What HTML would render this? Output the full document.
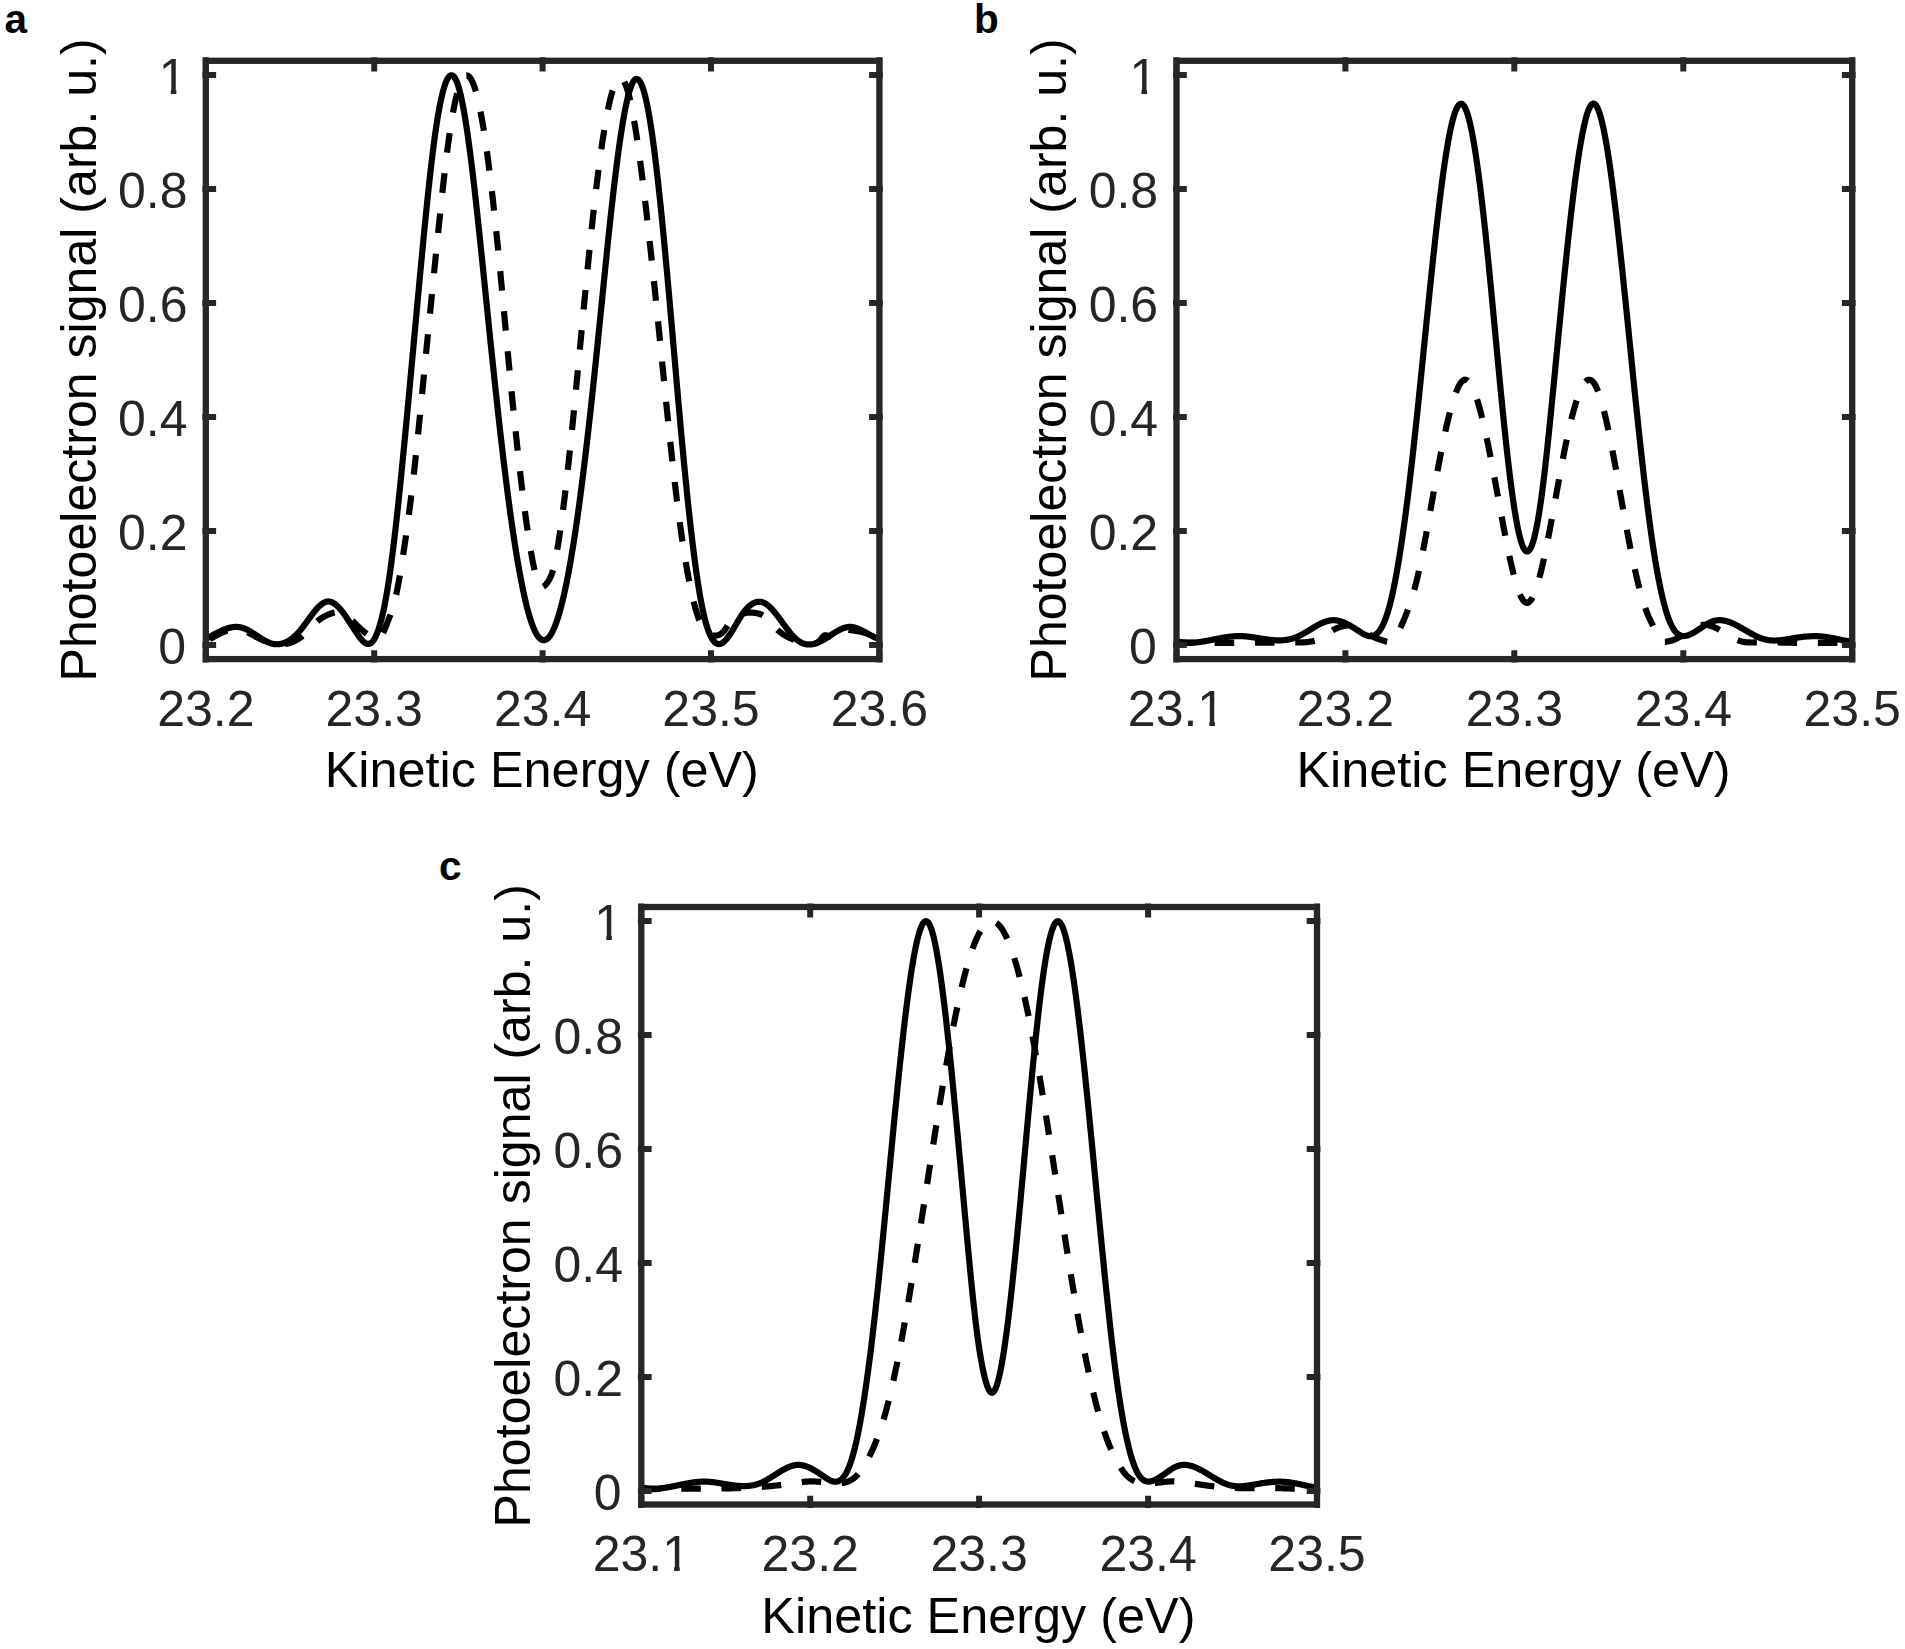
<!DOCTYPE html>
<html lang="en"><head><meta charset="utf-8"><title>Photoelectron spectra</title>
<style>
html,body{margin:0;padding:0;background:#fff;}
body{width:1905px;height:1649px;overflow:hidden;}
svg{display:block;}
text{font-family:"Liberation Sans",Arial,Helvetica,sans-serif;}
.tk{font-size:50px;fill:#262626;}
.lb{font-size:50.4px;fill:#000;}
.yl{font-size:50.1px;}
.pl{font-size:40.5px;font-weight:bold;fill:#000;}
</style></head><body>
<svg width="1905" height="1649" viewBox="0 0 1905 1649">
<defs><clipPath id="clipa"><rect x="205.8" y="60.8" width="673.6" height="598.3"/></clipPath><clipPath id="clipb"><rect x="1176.5" y="60.8" width="675.7" height="598.3"/></clipPath><clipPath id="clipc"><rect x="641.3" y="907.0" width="675.7" height="597.5"/></clipPath></defs>
<path d="M205.8 640.94 L206.3 640.71 L206.8 640.48 L207.3 640.25 L207.8 640.01 L208.3 639.76 L208.8 639.51 L209.3 639.26 L209.8 639.01 L210.3 638.75 L210.8 638.49 L211.3 638.23 L211.8 637.96 L212.3 637.70 L212.8 637.43 L213.3 637.16 L213.8 636.89 L214.3 636.62 L214.8 636.36 L215.3 636.09 L215.8 635.82 L216.3 635.55 L216.8 635.29 L217.3 635.02 L217.8 634.76 L218.3 634.50 L218.8 634.24 L219.3 633.99 L219.8 633.74 L220.3 633.49 L220.8 633.24 L221.3 633.00 L221.8 632.77 L222.3 632.53 L222.8 632.31 L223.3 632.08 L223.8 631.87 L224.3 631.66 L224.8 631.45 L225.3 631.26 L225.8 631.07 L226.3 630.88 L226.8 630.71 L227.3 630.54 L227.8 630.38 L228.3 630.23 L228.8 630.08 L229.3 629.95 L229.8 629.82 L230.3 629.71 L230.8 629.60 L231.3 629.50 L231.8 629.42 L232.3 629.34 L232.8 629.28 L233.3 629.23 L233.8 629.19 L234.3 629.16 L234.8 629.15 L235.3 629.14 L235.8 629.15 L236.3 629.17 L236.8 629.21 L237.3 629.26 L237.8 629.32 L238.3 629.39 L238.8 629.47 L239.3 629.57 L239.8 629.67 L240.3 629.79 L240.8 629.91 L241.3 630.05 L241.8 630.19 L242.3 630.34 L242.8 630.51 L243.3 630.68 L243.8 630.85 L244.3 631.04 L244.8 631.23 L245.3 631.43 L245.8 631.64 L246.3 631.85 L246.8 632.07 L247.3 632.30 L247.8 632.53 L248.3 632.76 L248.8 633.00 L249.3 633.25 L249.8 633.50 L250.3 633.75 L250.8 634.00 L251.3 634.26 L251.8 634.52 L252.3 634.79 L252.8 635.05 L253.3 635.32 L253.8 635.59 L254.3 635.86 L254.8 636.13 L255.3 636.40 L255.8 636.67 L256.3 636.94 L256.8 637.21 L257.3 637.48 L257.8 637.75 L258.3 638.02 L258.8 638.28 L259.3 638.54 L259.8 638.80 L260.3 639.06 L260.8 639.31 L261.3 639.56 L261.8 639.81 L262.3 640.05 L262.8 640.29 L263.3 640.52 L263.8 640.74 L264.3 640.97 L264.8 641.18 L265.3 641.39 L265.8 641.59 L266.3 641.79 L266.8 641.98 L267.3 642.16 L267.8 642.33 L268.3 642.50 L268.8 642.66 L269.3 642.82 L269.8 642.97 L270.3 643.11 L270.8 643.24 L271.3 643.37 L271.8 643.49 L272.3 643.61 L272.8 643.71 L273.3 643.81 L273.8 643.91 L274.3 643.99 L274.8 644.07 L275.3 644.14 L275.8 644.21 L276.3 644.26 L276.8 644.31 L277.3 644.35 L277.8 644.39 L278.3 644.42 L278.8 644.44 L279.3 644.45 L279.8 644.45 L280.3 644.45 L280.8 644.44 L281.3 644.42 L281.8 644.40 L282.3 644.36 L282.8 644.32 L283.3 644.27 L283.8 644.22 L284.3 644.15 L284.8 644.08 L285.3 644.00 L285.8 643.91 L286.3 643.81 L286.8 643.71 L287.3 643.60 L287.8 643.48 L288.3 643.35 L288.8 643.21 L289.3 643.07 L289.8 642.92 L290.3 642.76 L290.8 642.59 L291.3 642.41 L291.8 642.22 L292.3 642.03 L292.8 641.83 L293.3 641.62 L293.8 641.40 L294.3 641.17 L294.8 640.93 L295.3 640.68 L295.8 640.42 L296.3 640.16 L296.8 639.88 L297.3 639.59 L297.8 639.29 L298.3 638.98 L298.8 638.66 L299.3 638.33 L299.8 637.98 L300.3 637.63 L300.8 637.26 L301.3 636.87 L301.8 636.48 L302.3 636.07 L302.8 635.65 L303.3 635.21 L303.8 634.76 L304.3 634.30 L304.8 633.83 L305.3 633.35 L305.8 632.87 L306.3 632.37 L306.8 631.87 L307.3 631.36 L307.8 630.85 L308.3 630.33 L308.8 629.81 L309.3 629.29 L309.8 628.76 L310.3 628.24 L310.8 627.71 L311.3 627.19 L311.8 626.67 L312.3 626.15 L312.8 625.64 L313.3 625.13 L313.8 624.62 L314.3 624.13 L314.8 623.64 L315.3 623.16 L315.8 622.68 L316.3 622.22 L316.8 621.77 L317.3 621.33" fill="none" stroke="#000" stroke-width="6.2" stroke-linejoin="round" stroke-dasharray="19.6 20.7" stroke-dashoffset="36.01" clip-path="url(#clipa)"/>
<path d="M317.3 621.33 L317.8 620.91 L318.3 620.49 L318.8 620.09 L319.3 619.70 L319.8 619.33 L320.3 618.96 L320.8 618.61 L321.3 618.27 L321.8 617.94 L322.3 617.62 L322.8 617.31 L323.3 617.01 L323.8 616.72 L324.3 616.44 L324.8 616.18 L325.3 615.92 L325.8 615.67 L326.3 615.43 L326.8 615.19 L327.3 614.97 L327.8 614.75 L328.3 614.54 L328.8 614.34 L329.3 614.15 L329.8 613.97 L330.3 613.79 L330.8 613.62 L331.3 613.45 L331.8 613.29 L332.3 613.14 L332.8 612.99 L333.3 612.85 L333.8 612.71 L334.3 612.58 L334.8 612.46 L335.3 612.34 L335.8 612.23 L336.3 612.12 L336.8 612.03 L337.3 611.96 L337.8 611.90 L338.3 611.85 L338.8 611.82 L339.3 611.82 L339.8 611.83 L340.3 611.87 L340.8 611.93 L341.3 612.02 L341.8 612.14 L342.3 612.29 L342.8 612.47 L343.3 612.69 L343.8 612.93 L344.3 613.22 L344.8 613.53 L345.3 613.87 L345.8 614.23 L346.3 614.62 L346.8 615.04 L347.3 615.47 L347.8 615.93 L348.3 616.40 L348.8 616.89 L349.3 617.38 L349.8 617.89 L350.3 618.41 L350.8 618.94 L351.3 619.47 L351.8 620.01 L352.3 620.54 L352.8 621.08 L353.3 621.61 L353.8 622.14 L354.3 622.67 L354.8 623.18 L355.3 623.69 L355.8 624.20 L356.3 624.70 L356.8 625.19 L357.3 625.68 L357.8 626.16 L358.3 626.64 L358.8 627.11 L359.3 627.57 L359.8 628.03 L360.3 628.48 L360.8 628.93 L361.3 629.37 L361.8 629.81 L362.3 630.23 L362.8 630.66 L363.3 631.08 L363.8 631.49 L364.3 631.90 L364.8 632.30 L365.3 632.69 L365.8 633.09 L366.3 633.47 L366.8 633.85 L367.3 634.22 L367.8 634.59 L368.3 634.96 L368.8 635.31 L369.3 635.67 L369.8 636.01 L370.3 636.35 L370.8 636.69 L371.3 637.02 L371.8 637.34 L372.3 637.65 L372.8 637.94 L373.3 638.21 L373.8 638.46 L374.3 638.67 L374.8 638.85 L375.3 638.99 L375.8 639.08 L376.3 639.13 L376.8 639.13 L377.3 639.07 L377.8 638.94 L378.3 638.76 L378.8 638.50 L379.3 638.17 L379.8 637.76 L380.3 637.26 L380.8 636.68 L381.3 636.01 L381.8 635.25 L382.3 634.39 L382.8 633.45 L383.3 632.44 L383.8 631.36 L384.3 630.22 L384.8 629.04 L385.3 627.82 L385.8 626.57 L386.3 625.30 L386.8 624.01 L387.3 622.71 L387.8 621.43 L388.3 620.15 L388.8 618.89 L389.3 617.66 L389.8 616.42 L390.3 615.18 L390.8 613.90 L391.3 612.58 L391.8 611.18 L392.3 609.69 L392.8 608.10 L393.3 606.41 L393.8 604.60 L394.3 602.69 L394.8 600.69 L395.3 598.58 L395.8 596.39 L396.3 594.10 L396.8 591.72 L397.3 589.25 L397.8 586.71 L398.3 584.08 L398.8 581.37 L399.3 578.60 L399.8 575.74 L400.3 572.82 L400.8 569.84 L401.3 566.79 L401.8 563.68 L402.3 560.51 L402.8 557.28 L403.3 554.01 L403.8 550.68 L404.3 547.31 L404.8 543.89 L405.3 540.44 L405.8 536.94 L406.3 533.40 L406.8 529.81 L407.3 526.18 L407.8 522.50 L408.3 518.77 L408.8 514.99 L409.3 511.16 L409.8 507.27 L410.3 503.34 L410.8 499.34 L411.3 495.29 L411.8 491.18 L412.3 487.00 L412.8 482.77 L413.3 478.47 L413.8 474.10 L414.3 469.67 L414.8 465.18 L415.3 460.61 L415.8 455.97 L416.3 451.27 L416.8 446.51 L417.3 441.69 L417.8 436.83 L418.3 431.92 L418.8 426.96 L419.3 421.98 L419.8 416.96 L420.3 411.92 L420.8 406.85 L421.3 401.77 L421.8 396.68 L422.3 391.59 L422.8 386.49 L423.3 381.40 L423.8 376.31 L424.3 371.23 L424.8 366.15 L425.3 361.08 L425.8 356.02 L426.3 350.96 L426.8 345.91 L427.3 340.86 L427.8 335.81 L428.3 330.77 L428.8 325.73 L429.3 320.70 L429.8 315.67 L430.3 310.64 L430.8 305.61 L431.3 300.59 L431.8 295.57 L432.3 290.55 L432.8 285.54 L433.3 280.53 L433.8 275.53 L434.3 270.54 L434.8 265.56 L435.3 260.59 L435.8 255.64 L436.3 250.70 L436.8 245.78 L437.3 240.87 L437.8 235.98 L438.3 231.12 L438.8 226.28 L439.3 221.46 L439.8 216.66 L440.3 211.89 L440.8 207.16 L441.3 202.46 L441.8 197.81 L442.3 193.19 L442.8 188.63 L443.3 184.12 L443.8 179.67 L444.3 175.28 L444.8 170.96 L445.3 166.70 L445.8 162.52 L446.3 158.42 L446.8 154.40 L447.3 150.47 L447.8 146.63 L448.3 142.89 L448.8 139.24 L449.3 135.69 L449.8 132.25 L450.3 128.91 L450.8 125.67 L451.3 122.54 L451.8 119.50 L452.3 116.57 L452.8 113.74 L453.3 111.02 L453.8 108.39 L454.3 105.86 L454.8 103.44 L455.3 101.12 L455.8 98.90 L456.3 96.78 L456.8 94.76 L457.3 92.84 L457.8 91.03 L458.3 89.31 L458.8 87.69 L459.3 86.18 L459.8 84.77 L460.3 83.45 L460.8 82.24 L461.3 81.12 L461.8 80.11 L462.3 79.20 L462.8 78.38 L463.3 77.67 L463.8 77.06 L464.3 76.54 L464.8 76.13 L465.3 75.81 L465.8 75.59 L466.3 75.47" fill="none" stroke="#000" stroke-width="6.2" stroke-linejoin="round" stroke-dasharray="19.68 20.79" stroke-dashoffset="0" clip-path="url(#clipa)"/>
<path d="M466.3 75.47 L466.8 75.45 L467.3 75.52 L467.8 75.69 L468.3 75.96 L468.8 76.32 L469.3 76.78 L469.8 77.34 L470.3 77.99 L470.8 78.74 L471.3 79.58 L471.8 80.51 L472.3 81.54 L472.8 82.66 L473.3 83.88 L473.8 85.19 L474.3 86.59 L474.8 88.08 L475.3 89.67 L475.8 91.34 L476.3 93.11 L476.8 94.97 L477.3 96.92 L477.8 98.97 L478.3 101.10 L478.8 103.32 L479.3 105.63 L479.8 108.03 L480.3 110.51 L480.8 113.09 L481.3 115.75 L481.8 118.51 L482.3 121.35 L482.8 124.27 L483.3 127.28 L483.8 130.38 L484.3 133.56 L484.8 136.83 L485.3 140.17 L485.8 143.60 L486.3 147.10 L486.8 150.68 L487.3 154.34 L487.8 158.07 L488.3 161.87 L488.8 165.75 L489.3 169.70 L489.8 173.72 L490.3 177.80 L490.8 181.96 L491.3 186.18 L491.8 190.46 L492.3 194.81 L492.8 199.22 L493.3 203.69 L493.8 208.22 L494.3 212.81 L494.8 217.46 L495.3 222.16 L495.8 226.92 L496.3 231.73 L496.8 236.60 L497.3 241.51 L497.8 246.47 L498.3 251.49 L498.8 256.55 L499.3 261.65 L499.8 266.80 L500.3 271.99 L500.8 277.23 L501.3 282.51 L501.8 287.82 L502.3 293.16 L502.8 298.53 L503.3 303.93 L503.8 309.34 L504.3 314.75 L504.8 320.18 L505.3 325.60 L505.8 331.02 L506.3 336.43 L506.8 341.82 L507.3 347.19 L507.8 352.53 L508.3 357.84 L508.8 363.11 L509.3 368.35 L509.8 373.54 L510.3 378.70 L510.8 383.82 L511.3 388.90 L511.8 393.94 L512.3 398.95 L512.8 403.91 L513.3 408.84 L513.8 413.72 L514.3 418.57 L514.8 423.39 L515.3 428.16 L515.8 432.89 L516.3 437.59 L516.8 442.25 L517.3 446.87 L517.8 451.44 L518.3 455.98 L518.8 460.47 L519.3 464.91 L519.8 469.30 L520.3 473.65 L520.8 477.94 L521.3 482.19 L521.8 486.38 L522.3 490.51 L522.8 494.59 L523.3 498.61 L523.8 502.57 L524.3 506.47 L524.8 510.30 L525.3 514.07 L525.8 517.78 L526.3 521.42 L526.8 524.99 L527.3 528.49 L527.8 531.91 L528.3 535.27 L528.8 538.55 L529.3 541.75 L529.8 544.87 L530.3 547.92 L530.8 550.88 L531.3 553.77 L531.8 556.56 L532.3 559.28 L532.8 561.90 L533.3 564.44 L533.8 566.87 L534.3 569.19 L534.8 571.41 L535.3 573.50 L535.8 575.46 L536.3 577.29 L536.8 578.98 L537.3 580.52 L537.8 581.90 L538.3 583.12 L538.8 584.18 L539.3 585.05 L539.8 585.75 L540.3 586.29 L540.8 586.67 L541.3 586.91 L541.8 587.02 L542.3 587.00 L542.8 586.88 L543.3 586.66" fill="none" stroke="#000" stroke-width="6.2" stroke-linejoin="round" stroke-dasharray="19.56 20.65" stroke-dashoffset="0" clip-path="url(#clipa)"/>
<path d="M543.3 586.66 L543.8 586.36 L544.3 585.98 L544.8 585.53 L545.3 585.04 L545.8 584.50 L546.3 583.92 L546.8 583.31 L547.3 582.64 L547.8 581.93 L548.3 581.16 L548.8 580.33 L549.3 579.44 L549.8 578.48 L550.3 577.44 L550.8 576.31 L551.3 575.08 L551.8 573.72 L552.3 572.24 L552.8 570.62 L553.3 568.85 L553.8 566.92 L554.3 564.83 L554.8 562.57 L555.3 560.16 L555.8 557.62 L556.3 554.94 L556.8 552.15 L557.3 549.24 L557.8 546.23 L558.3 543.14 L558.8 539.96 L559.3 536.70 L559.8 533.37 L560.3 529.95 L560.8 526.46 L561.3 522.89 L561.8 519.25 L562.3 515.53 L562.8 511.73 L563.3 507.85 L563.8 503.90 L564.3 499.88 L564.8 495.78 L565.3 491.61 L565.8 487.37 L566.3 483.06 L566.8 478.69 L567.3 474.25 L567.8 469.76 L568.3 465.21 L568.8 460.60 L569.3 455.94 L569.8 451.23 L570.3 446.47 L570.8 441.66 L571.3 436.81 L571.8 431.91 L572.3 426.98 L572.8 422.01 L573.3 417.00 L573.8 411.97 L574.3 406.90 L574.8 401.80 L575.3 396.68 L575.8 391.53 L576.3 386.36 L576.8 381.17 L577.3 375.97 L577.8 370.75 L578.3 365.51 L578.8 360.27 L579.3 355.02 L579.8 349.76 L580.3 344.50 L580.8 339.24 L581.3 333.98 L581.8 328.72 L582.3 323.47 L582.8 318.22 L583.3 312.99 L583.8 307.77 L584.3 302.56 L584.8 297.37 L585.3 292.20 L585.8 287.05 L586.3 281.92 L586.8 276.82 L587.3 271.75 L587.8 266.71 L588.3 261.70 L588.8 256.73 L589.3 251.79 L589.8 246.90 L590.3 242.04 L590.8 237.23 L591.3 232.46 L591.8 227.75 L592.3 223.08 L592.8 218.47 L593.3 213.91 L593.8 209.41 L594.3 204.97 L594.8 200.58 L595.3 196.25 L595.8 191.99 L596.3 187.78 L596.8 183.64 L597.3 179.56 L597.8 175.54 L598.3 171.59 L598.8 167.71 L599.3 163.89 L599.8 160.14 L600.3 156.47 L600.8 152.86 L601.3 149.32 L601.8 145.86 L602.3 142.47 L602.8 139.15 L603.3 135.91 L603.8 132.75 L604.3 129.67 L604.8 126.66 L605.3 123.73 L605.8 120.89 L606.3 118.12 L606.8 115.44 L607.3 112.85 L607.8 110.33 L608.3 107.91 L608.8 105.57 L609.3 103.32 L609.8 101.16 L610.3 99.09 L610.8 97.11 L611.3 95.22 L611.8 93.42 L612.3 91.72 L612.8 90.12 L613.3 88.61 L613.8 87.20 L614.3 85.88 L614.8 84.67 L615.3 83.56 L615.8 82.54 L616.3 81.63 L616.8 80.83 L617.3 80.13 L617.8 79.53 L618.3 79.04 L618.8 78.66 L619.3 78.39 L619.8 78.22 L620.3 78.17 L620.8 78.23 L621.3 78.40 L621.8 78.69 L622.3 79.09 L622.8 79.61 L623.3 80.24 L623.8 80.99 L624.3 81.86" fill="none" stroke="#000" stroke-width="6.2" stroke-linejoin="round" stroke-dasharray="19.60 20.70" stroke-dashoffset="0" clip-path="url(#clipa)"/>
<path d="M624.3 81.86 L624.8 82.85 L625.3 83.96 L625.8 85.18 L626.3 86.51 L626.8 87.96 L627.3 89.51 L627.8 91.18 L628.3 92.94 L628.8 94.82 L629.3 96.79 L629.8 98.86 L630.3 101.04 L630.8 103.30 L631.3 105.67 L631.8 108.12 L632.3 110.67 L632.8 113.31 L633.3 116.03 L633.8 118.84 L634.3 121.73 L634.8 124.70 L635.3 127.75 L635.8 130.88 L636.3 134.08 L636.8 137.36 L637.3 140.72 L637.8 144.14 L638.3 147.63 L638.8 151.18 L639.3 154.80 L639.8 158.49 L640.3 162.23 L640.8 166.04 L641.3 169.90 L641.8 173.81 L642.3 177.78 L642.8 181.80 L643.3 185.88 L643.8 189.99 L644.3 194.16 L644.8 198.37 L645.3 202.62 L645.8 206.91 L646.3 211.24 L646.8 215.61 L647.3 220.01 L647.8 224.45 L648.3 228.92 L648.8 233.42 L649.3 237.96 L649.8 242.53 L650.3 247.12 L650.8 251.75 L651.3 256.41 L651.8 261.09 L652.3 265.79 L652.8 270.53 L653.3 275.29 L653.8 280.07 L654.3 284.87 L654.8 289.69 L655.3 294.54 L655.8 299.40 L656.3 304.28 L656.8 309.18 L657.3 314.10 L657.8 319.03 L658.3 323.98 L658.8 328.94 L659.3 333.91 L659.8 338.89 L660.3 343.88 L660.8 348.88 L661.3 353.88 L661.8 358.88 L662.3 363.88 L662.8 368.88 L663.3 373.87 L663.8 378.86 L664.3 383.84 L664.8 388.81 L665.3 393.76 L665.8 398.70 L666.3 403.63 L666.8 408.53 L667.3 413.41 L667.8 418.27 L668.3 423.10 L668.8 427.91 L669.3 432.68 L669.8 437.43 L670.3 442.14 L670.8 446.81 L671.3 451.44 L671.8 456.04 L672.3 460.59 L672.8 465.10 L673.3 469.56 L673.8 473.97 L674.3 478.33 L674.8 482.64 L675.3 486.89 L675.8 491.08 L676.3 495.22 L676.8 499.29 L677.3 503.31 L677.8 507.27 L678.3 511.17 L678.8 515.01 L679.3 518.79 L679.8 522.52 L680.3 526.18 L680.8 529.78 L681.3 533.33 L681.8 536.81 L682.3 540.23 L682.8 543.60 L683.3 546.90 L683.8 550.15 L684.3 553.33 L684.8 556.45 L685.3 559.51 L685.8 562.52 L686.3 565.46 L686.8 568.34 L687.3 571.16 L687.8 573.92 L688.3 576.61 L688.8 579.25 L689.3 581.82 L689.8 584.34 L690.3 586.79 L690.8 589.18 L691.3 591.51 L691.8 593.78 L692.3 595.98 L692.8 598.12 L693.3 600.20 L693.8 602.22 L694.3 604.18 L694.8 606.07 L695.3 607.91 L695.8 609.67 L696.3 611.38 L696.8 613.02 L697.3 614.60 L697.8 616.12 L698.3 617.58 L698.8 618.97 L699.3 620.29 L699.8 621.56 L700.3 622.76 L700.8 623.90 L701.3 624.97 L701.8 625.98 L702.3 626.92 L702.8 627.81 L703.3 628.63 L703.8 629.39 L704.3 630.09 L704.8 630.73 L705.3 631.33 L705.8 631.87 L706.3 632.37 L706.8 632.82 L707.3 633.22 L707.8 633.58 L708.3 633.91 L708.8 634.20 L709.3 634.45 L709.8 634.67 L710.3 634.86 L710.8 635.03 L711.3 635.16 L711.8 635.28 L712.3 635.37 L712.8 635.45 L713.3 635.51 L713.8 635.56 L714.3 635.59 L714.8 635.61 L715.3 635.60 L715.8 635.58 L716.3 635.54 L716.8 635.48 L717.3 635.39 L717.8 635.28 L718.3 635.13 L718.8 634.96 L719.3 634.75 L719.8 634.52 L720.3 634.24 L720.8 633.93 L721.3 633.58 L721.8 633.19 L722.3 632.76 L722.8 632.28 L723.3 631.75 L723.8 631.18 L724.3 630.56 L724.8 629.88 L725.3 629.16 L725.8 628.38 L726.3 627.58 L726.8 626.76 L727.3 625.95 L727.8 625.17 L728.3 624.44 L728.8 623.77 L729.3 623.19 L729.8 622.70 L730.3 622.29 L730.8 621.95 L731.3 621.67 L731.8 621.44 L732.3 621.24 L732.8 621.08 L733.3 620.93 L733.8 620.79 L734.3 620.65 L734.8 620.49 L735.3 620.31 L735.8 620.09 L736.3 619.82 L736.8 619.51 L737.3 619.12 L737.8 618.69 L738.3 618.21 L738.8 617.71 L739.3 617.19 L739.8 616.67 L740.3 616.17 L740.8 615.70 L741.3 615.27 L741.8 614.88 L742.3 614.52 L742.8 614.20 L743.3 613.92 L743.8 613.66" fill="none" stroke="#000" stroke-width="6.2" stroke-linejoin="round" stroke-dasharray="19.64 20.74" stroke-dashoffset="0" clip-path="url(#clipa)"/>
<path d="M743.8 613.66 L744.3 613.44 L744.8 613.25 L745.3 613.08 L745.8 612.94 L746.3 612.82 L746.8 612.73 L747.3 612.65 L747.8 612.60 L748.3 612.56 L748.8 612.54 L749.3 612.53 L749.8 612.53 L750.3 612.54 L750.8 612.57 L751.3 612.60 L751.8 612.63 L752.3 612.67 L752.8 612.71 L753.3 612.76 L753.8 612.81 L754.3 612.86 L754.8 612.92 L755.3 612.98 L755.8 613.05 L756.3 613.13 L756.8 613.22 L757.3 613.32 L757.8 613.43 L758.3 613.55 L758.8 613.68 L759.3 613.83 L759.8 613.99 L760.3 614.16 L760.8 614.36 L761.3 614.57 L761.8 614.80 L762.3 615.04 L762.8 615.31 L763.3 615.60 L763.8 615.91 L764.3 616.24 L764.8 616.60 L765.3 616.98 L765.8 617.39 L766.3 617.82 L766.8 618.28 L767.3 618.76 L767.8 619.26 L768.3 619.78 L768.8 620.32 L769.3 620.87 L769.8 621.43 L770.3 622.00 L770.8 622.58 L771.3 623.16 L771.8 623.74 L772.3 624.33 L772.8 624.91 L773.3 625.48 L773.8 626.05 L774.3 626.61 L774.8 627.16 L775.3 627.69 L775.8 628.21 L776.3 628.72 L776.8 629.21 L777.3 629.68 L777.8 630.15 L778.3 630.60 L778.8 631.04 L779.3 631.46 L779.8 631.87 L780.3 632.27 L780.8 632.66 L781.3 633.04 L781.8 633.41 L782.3 633.77 L782.8 634.11 L783.3 634.45 L783.8 634.78 L784.3 635.10 L784.8 635.41 L785.3 635.71 L785.8 636.00 L786.3 636.28 L786.8 636.56 L787.3 636.83 L787.8 637.09 L788.3 637.35 L788.8 637.60 L789.3 637.85 L789.8 638.08 L790.3 638.32 L790.8 638.55 L791.3 638.77 L791.8 638.99 L792.3 639.20 L792.8 639.41 L793.3 639.62 L793.8 639.82 L794.3 640.01 L794.8 640.20 L795.3 640.38 L795.8 640.55 L796.3 640.72 L796.8 640.88 L797.3 641.04 L797.8 641.18 L798.3 641.32 L798.8 641.45 L799.3 641.57 L799.8 641.69 L800.3 641.79 L800.8 641.89 L801.3 641.97 L801.8 642.05 L802.3 642.12 L802.8 642.18 L803.3 642.22 L803.8 642.26 L804.3 642.29 L804.8 642.32 L805.3 642.35 L805.8 642.37 L806.3 642.40 L806.8 642.44 L807.3 642.48 L807.8 642.54 L808.3 642.60 L808.8 642.68 L809.3 642.77 L809.8 642.86 L810.3 642.95 L810.8 643.04 L811.3 643.13 L811.8 643.21 L812.3 643.27 L812.8 643.32 L813.3 643.36 L813.8 643.36 L814.3 643.35 L814.8 643.30 L815.3 643.23 L815.8 643.12 L816.3 642.97 L816.8 642.77 L817.3 642.53 L817.8 642.25 L818.3 641.91 L818.8 641.51 L819.3 641.06 L819.8 640.54 L820.3 639.96 L820.8 639.33 L821.3 638.67 L821.8 638.00 L822.3 637.36 L822.8 636.77 L823.3 636.24 L823.8 635.81 L824.3 635.51 L824.8 635.32 L825.3 635.24 L825.8 635.24 L826.3 635.32 L826.8 635.46 L827.3 635.64 L827.8 635.85 L828.3 636.07 L828.8 636.28 L829.3 636.47 L829.8 636.63 L830.3 636.73 L830.8 636.76 L831.3 636.71 L831.8 636.55 L832.3 636.29 L832.8 635.91 L833.3 635.45 L833.8 634.92 L834.3 634.35 L834.8 633.76 L835.3 633.17 L835.8 632.60 L836.3 632.07 L836.8 631.60 L837.3 631.18 L837.8 630.80 L838.3 630.47 L838.8 630.19 L839.3 629.94 L839.8 629.73 L840.3 629.56 L840.8 629.42 L841.3 629.32 L841.8 629.24 L842.3 629.19 L842.8 629.16 L843.3 629.15 L843.8 629.17 L844.3 629.20 L844.8 629.24 L845.3 629.30 L845.8 629.37 L846.3 629.45 L846.8 629.53 L847.3 629.62 L847.8 629.70 L848.3 629.79 L848.8 629.87 L849.3 629.95 L849.8 630.03 L850.3 630.11 L850.8 630.18 L851.3 630.26 L851.8 630.33 L852.3 630.41 L852.8 630.48 L853.3 630.55 L853.8 630.63 L854.3 630.70 L854.8 630.78 L855.3 630.85 L855.8 630.93 L856.3 631.01 L856.8 631.09 L857.3 631.17 L857.8 631.26 L858.3 631.35 L858.8 631.44 L859.3 631.53 L859.8 631.63 L860.3 631.73 L860.8 631.84 L861.3 631.94 L861.8 632.06 L862.3 632.18 L862.8 632.30 L863.3 632.43 L863.8 632.56 L864.3 632.70 L864.8 632.85 L865.3 633.00 L865.8 633.16 L866.3 633.33 L866.8 633.50 L867.3 633.68 L867.8 633.86 L868.3 634.06 L868.8 634.26 L869.3 634.48 L869.8 634.70 L870.3 634.92 L870.8 635.16 L871.3 635.41 L871.8 635.67 L872.3 635.93 L872.8 636.21 L873.3 636.50 L873.8 636.80 L874.3 637.11 L874.8 637.43 L875.3 637.76 L875.8 638.10 L876.3 638.46 L876.8 638.83 L877.3 639.21 L877.8 639.60 L878.3 640.01 L878.8 640.43 L879.3 640.86" fill="none" stroke="#000" stroke-width="6.2" stroke-linejoin="round" stroke-dasharray="19.6 20.7" stroke-dashoffset="0" clip-path="url(#clipa)"/>
<path d="M205.8 638.93 L206.3 638.67 L206.8 638.40 L207.3 638.12 L207.8 637.85 L208.3 637.58 L208.8 637.30 L209.3 637.03 L209.8 636.75 L210.3 636.48 L210.8 636.20 L211.3 635.92 L211.8 635.65 L212.3 635.37 L212.8 635.10 L213.3 634.82 L213.8 634.55 L214.3 634.28 L214.8 634.01 L215.3 633.74 L215.8 633.48 L216.3 633.22 L216.8 632.96 L217.3 632.70 L217.8 632.44 L218.3 632.19 L218.8 631.94 L219.3 631.70 L219.8 631.45 L220.3 631.22 L220.8 630.98 L221.3 630.75 L221.8 630.53 L222.3 630.31 L222.8 630.09 L223.3 629.88 L223.8 629.68 L224.3 629.48 L224.8 629.29 L225.3 629.10 L225.8 628.92 L226.3 628.74 L226.8 628.57 L227.3 628.41 L227.8 628.26 L228.3 628.11 L228.8 627.97 L229.3 627.84 L229.8 627.72 L230.3 627.60 L230.8 627.49 L231.3 627.40 L231.8 627.31 L232.3 627.22 L232.8 627.15 L233.3 627.09 L233.8 627.04 L234.3 626.99 L234.8 626.96 L235.3 626.94 L235.8 626.92 L236.3 626.92 L236.8 626.93 L237.3 626.95 L237.8 626.98 L238.3 627.02 L238.8 627.07 L239.3 627.14 L239.8 627.22 L240.3 627.31 L240.8 627.41 L241.3 627.53 L241.8 627.65 L242.3 627.79 L242.8 627.95 L243.3 628.11 L243.8 628.29 L244.3 628.48 L244.8 628.68 L245.3 628.89 L245.8 629.11 L246.3 629.34 L246.8 629.58 L247.3 629.83 L247.8 630.09 L248.3 630.35 L248.8 630.62 L249.3 630.90 L249.8 631.18 L250.3 631.48 L250.8 631.77 L251.3 632.07 L251.8 632.38 L252.3 632.69 L252.8 633.01 L253.3 633.33 L253.8 633.65 L254.3 633.97 L254.8 634.30 L255.3 634.63 L255.8 634.96 L256.3 635.29 L256.8 635.62 L257.3 635.95 L257.8 636.28 L258.3 636.61 L258.8 636.93 L259.3 637.26 L259.8 637.58 L260.3 637.90 L260.8 638.22 L261.3 638.54 L261.8 638.85 L262.3 639.15 L262.8 639.46 L263.3 639.75 L263.8 640.04 L264.3 640.33 L264.8 640.60 L265.3 640.88 L265.8 641.14 L266.3 641.39 L266.8 641.64 L267.3 641.88 L267.8 642.11 L268.3 642.33 L268.8 642.54 L269.3 642.74 L269.8 642.92 L270.3 643.10 L270.8 643.27 L271.3 643.42 L271.8 643.56 L272.3 643.69 L272.8 643.80 L273.3 643.90 L273.8 643.99 L274.3 644.06 L274.8 644.13 L275.3 644.18 L275.8 644.21 L276.3 644.24 L276.8 644.25 L277.3 644.25 L277.8 644.23 L278.3 644.20 L278.8 644.16 L279.3 644.11 L279.8 644.04 L280.3 643.96 L280.8 643.87 L281.3 643.77 L281.8 643.65 L282.3 643.52 L282.8 643.38 L283.3 643.22 L283.8 643.05 L284.3 642.87 L284.8 642.68 L285.3 642.47 L285.8 642.25 L286.3 642.01 L286.8 641.77 L287.3 641.51 L287.8 641.24 L288.3 640.95 L288.8 640.66 L289.3 640.35 L289.8 640.02 L290.3 639.69 L290.8 639.34 L291.3 638.98 L291.8 638.60 L292.3 638.22 L292.8 637.82 L293.3 637.40 L293.8 636.98 L294.3 636.54 L294.8 636.09 L295.3 635.63 L295.8 635.15 L296.3 634.66 L296.8 634.16 L297.3 633.64 L297.8 633.11 L298.3 632.57 L298.8 632.02 L299.3 631.45 L299.8 630.88 L300.3 630.28 L300.8 629.68 L301.3 629.07 L301.8 628.44 L302.3 627.80 L302.8 627.16 L303.3 626.51 L303.8 625.85 L304.3 625.18 L304.8 624.51 L305.3 623.83 L305.8 623.15 L306.3 622.46 L306.8 621.77 L307.3 621.09 L307.8 620.40 L308.3 619.71 L308.8 619.02 L309.3 618.33 L309.8 617.64 L310.3 616.96 L310.8 616.28 L311.3 615.61 L311.8 614.94 L312.3 614.28 L312.8 613.63 L313.3 612.98 L313.8 612.35 L314.3 611.72 L314.8 611.11 L315.3 610.50 L315.8 609.91 L316.3 609.33 L316.8 608.76 L317.3 608.21 L317.8 607.68 L318.3 607.16 L318.8 606.66 L319.3 606.17 L319.8 605.71 L320.3 605.26 L320.8 604.84 L321.3 604.43 L321.8 604.05 L322.3 603.69 L322.8 603.36 L323.3 603.04 L323.8 602.76 L324.3 602.50 L324.8 602.27 L325.3 602.06 L325.8 601.88 L326.3 601.74 L326.8 601.62 L327.3 601.53 L327.8 601.48 L328.3 601.46 L328.8 601.47 L329.3 601.51 L329.8 601.59 L330.3 601.69 L330.8 601.83 L331.3 602.00 L331.8 602.19 L332.3 602.41 L332.8 602.66 L333.3 602.94 L333.8 603.24 L334.3 603.57 L334.8 603.92 L335.3 604.29 L335.8 604.69 L336.3 605.11 L336.8 605.56 L337.3 606.02 L337.8 606.51 L338.3 607.01 L338.8 607.53 L339.3 608.08 L339.8 608.64 L340.3 609.21 L340.8 609.81 L341.3 610.42 L341.8 611.04 L342.3 611.68 L342.8 612.33 L343.3 612.99 L343.8 613.67 L344.3 614.36 L344.8 615.06 L345.3 615.76 L345.8 616.48 L346.3 617.21 L346.8 617.94 L347.3 618.69 L347.8 619.44 L348.3 620.19 L348.8 620.95 L349.3 621.72 L349.8 622.49 L350.3 623.26 L350.8 624.03 L351.3 624.81 L351.8 625.59 L352.3 626.36 L352.8 627.14 L353.3 627.92 L353.8 628.69 L354.3 629.47 L354.8 630.24 L355.3 631.00 L355.8 631.76 L356.3 632.52 L356.8 633.27 L357.3 634.02 L357.8 634.75 L358.3 635.47 L358.8 636.17 L359.3 636.86 L359.8 637.53 L360.3 638.18 L360.8 638.80 L361.3 639.40 L361.8 639.97 L362.3 640.52 L362.8 641.03 L363.3 641.50 L363.8 641.94 L364.3 642.35 L364.8 642.71 L365.3 643.03 L365.8 643.30 L366.3 643.53 L366.8 643.71 L367.3 643.83 L367.8 643.91 L368.3 643.93 L368.8 643.89 L369.3 643.79 L369.8 643.62 L370.3 643.40 L370.8 643.11 L371.3 642.75 L371.8 642.32 L372.3 641.81 L372.8 641.24 L373.3 640.59 L373.8 639.87 L374.3 639.08 L374.8 638.21 L375.3 637.27 L375.8 636.24 L376.3 635.15 L376.8 633.97 L377.3 632.72 L377.8 631.38 L378.3 629.97 L378.8 628.48 L379.3 626.91 L379.8 625.25 L380.3 623.51 L380.8 621.69 L381.3 619.78 L381.8 617.80 L382.3 615.72 L382.8 613.56 L383.3 611.31 L383.8 608.98 L384.3 606.55 L384.8 604.04 L385.3 601.44 L385.8 598.75 L386.3 595.96 L386.8 593.09 L387.3 590.12 L387.8 587.06 L388.3 583.91 L388.8 580.66 L389.3 577.32 L389.8 573.89 L390.3 570.36 L390.8 566.75 L391.3 563.05 L391.8 559.27 L392.3 555.41 L392.8 551.47 L393.3 547.45 L393.8 543.35 L394.3 539.19 L394.8 534.95 L395.3 530.65 L395.8 526.28 L396.3 521.84 L396.8 517.35 L397.3 512.79 L397.8 508.18 L398.3 503.51 L398.8 498.79 L399.3 494.02 L399.8 489.20 L400.3 484.34 L400.8 479.43 L401.3 474.48 L401.8 469.49 L402.3 464.46 L402.8 459.40 L403.3 454.30 L403.8 449.18 L404.3 444.02 L404.8 438.84 L405.3 433.63 L405.8 428.40 L406.3 423.14 L406.8 417.86 L407.3 412.57 L407.8 407.25 L408.3 401.91 L408.8 396.56 L409.3 391.20 L409.8 385.82 L410.3 380.43 L410.8 375.03 L411.3 369.62 L411.8 364.21 L412.3 358.79 L412.8 353.36 L413.3 347.93 L413.8 342.51 L414.3 337.08 L414.8 331.65 L415.3 326.22 L415.8 320.80 L416.3 315.39 L416.8 309.98 L417.3 304.59 L417.8 299.20 L418.3 293.82 L418.8 288.46 L419.3 283.11 L419.8 277.78 L420.3 272.47 L420.8 267.17 L421.3 261.90 L421.8 256.64 L422.3 251.41 L422.8 246.21 L423.3 241.03 L423.8 235.88 L424.3 230.77 L424.8 225.68 L425.3 220.64 L425.8 215.64 L426.3 210.68 L426.8 205.77 L427.3 200.92 L427.8 196.12 L428.3 191.38 L428.8 186.70 L429.3 182.08 L429.8 177.54 L430.3 173.07 L430.8 168.67 L431.3 164.35 L431.8 160.11 L432.3 155.96 L432.8 151.90 L433.3 147.93 L433.8 144.06 L434.3 140.29 L434.8 136.61 L435.3 133.04 L435.8 129.58 L436.3 126.22 L436.8 122.96 L437.3 119.81 L437.8 116.76 L438.3 113.82 L438.8 110.98 L439.3 108.25 L439.8 105.63 L440.3 103.11 L440.8 100.70 L441.3 98.39 L441.8 96.20 L442.3 94.11 L442.8 92.13 L443.3 90.25 L443.8 88.49 L444.3 86.84 L444.8 85.29 L445.3 83.86 L445.8 82.53 L446.3 81.31 L446.8 80.21 L447.3 79.22 L447.8 78.33 L448.3 77.56 L448.8 76.91 L449.3 76.36 L449.8 75.93 L450.3 75.60 L450.8 75.40 L451.3 75.30 L451.8 75.32 L452.3 75.46 L452.8 75.70 L453.3 76.07 L453.8 76.54 L454.3 77.14 L454.8 77.85 L455.3 78.67 L455.8 79.61 L456.3 80.67 L456.8 81.85 L457.3 83.14 L457.8 84.55 L458.3 86.08 L458.8 87.73 L459.3 89.49 L459.8 91.38 L460.3 93.38 L460.8 95.49 L461.3 97.71 L461.8 100.05 L462.3 102.49 L462.8 105.04 L463.3 107.69 L463.8 110.43 L464.3 113.28 L464.8 116.22 L465.3 119.26 L465.8 122.39 L466.3 125.60 L466.8 128.90 L467.3 132.29 L467.8 135.76 L468.3 139.31 L468.8 142.93 L469.3 146.63 L469.8 150.40 L470.3 154.25 L470.8 158.16 L471.3 162.14 L471.8 166.18 L472.3 170.28 L472.8 174.45 L473.3 178.66 L473.8 182.94 L474.3 187.26 L474.8 191.64 L475.3 196.06 L475.8 200.53 L476.3 205.05 L476.8 209.60 L477.3 214.19 L477.8 218.82 L478.3 223.48 L478.8 228.18 L479.3 232.90 L479.8 237.65 L480.3 242.43 L480.8 247.23 L481.3 252.05 L481.8 256.88 L482.3 261.74 L482.8 266.60 L483.3 271.48 L483.8 276.37 L484.3 281.26 L484.8 286.16 L485.3 291.06 L485.8 295.96 L486.3 300.86 L486.8 305.75 L487.3 310.64 L487.8 315.52 L488.3 320.39 L488.8 325.25 L489.3 330.10 L489.8 334.94 L490.3 339.76 L490.8 344.58 L491.3 349.38 L491.8 354.16 L492.3 358.93 L492.8 363.69 L493.3 368.42 L493.8 373.14 L494.3 377.84 L494.8 382.52 L495.3 387.17 L495.8 391.81 L496.3 396.42 L496.8 401.01 L497.3 405.58 L497.8 410.12 L498.3 414.63 L498.8 419.12 L499.3 423.58 L499.8 428.01 L500.3 432.42 L500.8 436.79 L501.3 441.13 L501.8 445.44 L502.3 449.71 L502.8 453.95 L503.3 458.16 L503.8 462.33 L504.3 466.47 L504.8 470.57 L505.3 474.63 L505.8 478.65 L506.3 482.63 L506.8 486.57 L507.3 490.47 L507.8 494.33 L508.3 498.14 L508.8 501.91 L509.3 505.64 L509.8 509.33 L510.3 512.97 L510.8 516.57 L511.3 520.12 L511.8 523.63 L512.3 527.10 L512.8 530.51 L513.3 533.89 L513.8 537.21 L514.3 540.50 L514.8 543.73 L515.3 546.92 L515.8 550.06 L516.3 553.15 L516.8 556.19 L517.3 559.19 L517.8 562.13 L518.3 565.03 L518.8 567.88 L519.3 570.68 L519.8 573.43 L520.3 576.12 L520.8 578.77 L521.3 581.37 L521.8 583.91 L522.3 586.40 L522.8 588.84 L523.3 591.23 L523.8 593.56 L524.3 595.85 L524.8 598.07 L525.3 600.25 L525.8 602.37 L526.3 604.43 L526.8 606.44 L527.3 608.40 L527.8 610.30 L528.3 612.14 L528.8 613.93 L529.3 615.66 L529.8 617.33 L530.3 618.94 L530.8 620.50 L531.3 622.00 L531.8 623.44 L532.3 624.83 L532.8 626.15 L533.3 627.42 L533.8 628.62 L534.3 629.76 L534.8 630.85 L535.3 631.87 L535.8 632.84 L536.3 633.74 L536.8 634.59 L537.3 635.37 L537.8 636.10 L538.3 636.76 L538.8 637.37 L539.3 637.92 L539.8 638.41 L540.3 638.84 L540.8 639.21 L541.3 639.52 L541.8 639.78 L542.3 639.98 L542.8 640.11 L543.3 640.20 L543.8 640.22 L544.3 640.19 L544.8 640.09 L545.3 639.95 L545.8 639.74 L546.3 639.48 L546.8 639.16 L547.3 638.78 L547.8 638.35 L548.3 637.86 L548.8 637.32 L549.3 636.72 L549.8 636.06 L550.3 635.35 L550.8 634.58 L551.3 633.76 L551.8 632.88 L552.3 631.94 L552.8 630.95 L553.3 629.91 L553.8 628.81 L554.3 627.66 L554.8 626.45 L555.3 625.19 L555.8 623.87 L556.3 622.50 L556.8 621.08 L557.3 619.60 L557.8 618.07 L558.3 616.49 L558.8 614.85 L559.3 613.16 L559.8 611.41 L560.3 609.62 L560.8 607.77 L561.3 605.87 L561.8 603.91 L562.3 601.91 L562.8 599.85 L563.3 597.74 L563.8 595.58 L564.3 593.37 L564.8 591.10 L565.3 588.78 L565.8 586.42 L566.3 584.00 L566.8 581.53 L567.3 579.01 L567.8 576.44 L568.3 573.82 L568.8 571.15 L569.3 568.43 L569.8 565.66 L570.3 562.84 L570.8 559.97 L571.3 557.05 L571.8 554.08 L572.3 551.06 L572.8 547.99 L573.3 544.87 L573.8 541.71 L574.3 538.49 L574.8 535.23 L575.3 531.92 L575.8 528.56 L576.3 525.15 L576.8 521.70 L577.3 518.20 L577.8 514.65 L578.3 511.06 L578.8 507.42 L579.3 503.74 L579.8 500.02 L580.3 496.25 L580.8 492.44 L581.3 488.59 L581.8 484.70 L582.3 480.76 L582.8 476.79 L583.3 472.78 L583.8 468.72 L584.3 464.63 L584.8 460.51 L585.3 456.34 L585.8 452.14 L586.3 447.90 L586.8 443.63 L587.3 439.33 L587.8 434.98 L588.3 430.61 L588.8 426.20 L589.3 421.76 L589.8 417.29 L590.3 412.79 L590.8 408.26 L591.3 403.70 L591.8 399.10 L592.3 394.48 L592.8 389.83 L593.3 385.16 L593.8 380.46 L594.3 375.73 L594.8 370.97 L595.3 366.19 L595.8 361.39 L596.3 356.56 L596.8 351.71 L597.3 346.84 L597.8 341.94 L598.3 337.03 L598.8 332.11 L599.3 327.17 L599.8 322.22 L600.3 317.26 L600.8 312.30 L601.3 307.33 L601.8 302.36 L602.3 297.40 L602.8 292.43 L603.3 287.47 L603.8 282.52 L604.3 277.58 L604.8 272.66 L605.3 267.74 L605.8 262.85 L606.3 257.97 L606.8 253.12 L607.3 248.29 L607.8 243.48 L608.3 238.71 L608.8 233.96 L609.3 229.25 L609.8 224.57 L610.3 219.93 L610.8 215.34 L611.3 210.78 L611.8 206.27 L612.3 201.80 L612.8 197.39 L613.3 193.02 L613.8 188.71 L614.3 184.46 L614.8 180.27 L615.3 176.13 L615.8 172.06 L616.3 168.05 L616.8 164.11 L617.3 160.24 L617.8 156.43 L618.3 152.70 L618.8 149.04 L619.3 145.45 L619.8 141.94 L620.3 138.50 L620.8 135.15 L621.3 131.87 L621.8 128.68 L622.3 125.57 L622.8 122.54 L623.3 119.60 L623.8 116.76 L624.3 114.00 L624.8 111.33 L625.3 108.75 L625.8 106.28 L626.3 103.89 L626.8 101.61 L627.3 99.43 L627.8 97.34 L628.3 95.36 L628.8 93.49 L629.3 91.72 L629.8 90.06 L630.3 88.51 L630.8 87.07 L631.3 85.74 L631.8 84.53 L632.3 83.43 L632.8 82.45 L633.3 81.59 L633.8 80.85 L634.3 80.23 L634.8 79.73 L635.3 79.35 L635.8 79.10 L636.3 78.96 L636.8 78.94 L637.3 79.03 L637.8 79.25 L638.3 79.59 L638.8 80.04 L639.3 80.61 L639.8 81.30 L640.3 82.11 L640.8 83.03 L641.3 84.07 L641.8 85.23 L642.3 86.50 L642.8 87.89 L643.3 89.39 L643.8 91.01 L644.3 92.75 L644.8 94.60 L645.3 96.57 L645.8 98.65 L646.3 100.84 L646.8 103.15 L647.3 105.57 L647.8 108.10 L648.3 110.75 L648.8 113.51 L649.3 116.37 L649.8 119.35 L650.3 122.42 L650.8 125.60 L651.3 128.88 L651.8 132.26 L652.3 135.74 L652.8 139.31 L653.3 142.97 L653.8 146.73 L654.3 150.57 L654.8 154.51 L655.3 158.52 L655.8 162.63 L656.3 166.81 L656.8 171.07 L657.3 175.42 L657.8 179.83 L658.3 184.33 L658.8 188.89 L659.3 193.53 L659.8 198.23 L660.3 203.00 L660.8 207.84 L661.3 212.73 L661.8 217.69 L662.3 222.71 L662.8 227.79 L663.3 232.92 L663.8 238.10 L664.3 243.34 L664.8 248.62 L665.3 253.96 L665.8 259.34 L666.3 264.76 L666.8 270.22 L667.3 275.71 L667.8 281.25 L668.3 286.81 L668.8 292.40 L669.3 298.02 L669.8 303.66 L670.3 309.33 L670.8 315.01 L671.3 320.71 L671.8 326.42 L672.3 332.14 L672.8 337.87 L673.3 343.61 L673.8 349.35 L674.3 355.09 L674.8 360.82 L675.3 366.55 L675.8 372.28 L676.3 377.99 L676.8 383.69 L677.3 389.37 L677.8 395.04 L678.3 400.68 L678.8 406.31 L679.3 411.90 L679.8 417.47 L680.3 423.00 L680.8 428.50 L681.3 433.97 L681.8 439.39 L682.3 444.77 L682.8 450.11 L683.3 455.40 L683.8 460.64 L684.3 465.83 L684.8 470.96 L685.3 476.05 L685.8 481.08 L686.3 486.05 L686.8 490.97 L687.3 495.82 L687.8 500.62 L688.3 505.36 L688.8 510.03 L689.3 514.64 L689.8 519.19 L690.3 523.66 L690.8 528.07 L691.3 532.41 L691.8 536.68 L692.3 540.88 L692.8 545.01 L693.3 549.06 L693.8 553.04 L694.3 556.93 L694.8 560.75 L695.3 564.49 L695.8 568.15 L696.3 571.73 L696.8 575.23 L697.3 578.63 L697.8 581.96 L698.3 585.19 L698.8 588.34 L699.3 591.40 L699.8 594.36 L700.3 597.23 L700.8 600.01 L701.3 602.69 L701.8 605.28 L702.3 607.77 L702.8 610.16 L703.3 612.46 L703.8 614.66 L704.3 616.77 L704.8 618.79 L705.3 620.72 L705.8 622.57 L706.3 624.32 L706.8 625.99 L707.3 627.58 L707.8 629.08 L708.3 630.50 L708.8 631.84 L709.3 633.11 L709.8 634.29 L710.3 635.40 L710.8 636.44 L711.3 637.40 L711.8 638.29 L712.3 639.12 L712.8 639.87 L713.3 640.55 L713.8 641.17 L714.3 641.73 L714.8 642.22 L715.3 642.65 L715.8 643.02 L716.3 643.33 L716.8 643.58 L717.3 643.78 L717.8 643.92 L718.3 644.01 L718.8 644.04 L719.3 644.03 L719.8 643.97 L720.3 643.86 L720.8 643.70 L721.3 643.49 L721.8 643.25 L722.3 642.96 L722.8 642.63 L723.3 642.27 L723.8 641.86 L724.3 641.42 L724.8 640.95 L725.3 640.44 L725.8 639.90 L726.3 639.33 L726.8 638.73 L727.3 638.11 L727.8 637.46 L728.3 636.79 L728.8 636.09 L729.3 635.38 L729.8 634.64 L730.3 633.88 L730.8 633.11 L731.3 632.33 L731.8 631.53 L732.3 630.72 L732.8 629.90 L733.3 629.07 L733.8 628.23 L734.3 627.39 L734.8 626.54 L735.3 625.69 L735.8 624.83 L736.3 623.98 L736.8 623.13 L737.3 622.28 L737.8 621.44 L738.3 620.60 L738.8 619.77 L739.3 618.95 L739.8 618.13 L740.3 617.34 L740.8 616.55 L741.3 615.78 L741.8 615.02 L742.3 614.29 L742.8 613.57 L743.3 612.87 L743.8 612.19 L744.3 611.54 L744.8 610.90 L745.3 610.28 L745.8 609.69 L746.3 609.11 L746.8 608.56 L747.3 608.03 L747.8 607.51 L748.3 607.02 L748.8 606.55 L749.3 606.10 L749.8 605.67 L750.3 605.27 L750.8 604.88 L751.3 604.52 L751.8 604.18 L752.3 603.86 L752.8 603.56 L753.3 603.28 L753.8 603.03 L754.3 602.80 L754.8 602.59 L755.3 602.40 L755.8 602.24 L756.3 602.10 L756.8 601.98 L757.3 601.88 L757.8 601.81 L758.3 601.76 L758.8 601.73 L759.3 601.73 L759.8 601.75 L760.3 601.79 L760.8 601.85 L761.3 601.94 L761.8 602.06 L762.3 602.20 L762.8 602.36 L763.3 602.54 L763.8 602.75 L764.3 602.99 L764.8 603.24 L765.3 603.52 L765.8 603.83 L766.3 604.16 L766.8 604.50 L767.3 604.87 L767.8 605.26 L768.3 605.67 L768.8 606.10 L769.3 606.55 L769.8 607.01 L770.3 607.50 L770.8 607.99 L771.3 608.51 L771.8 609.04 L772.3 609.58 L772.8 610.14 L773.3 610.71 L773.8 611.29 L774.3 611.88 L774.8 612.49 L775.3 613.10 L775.8 613.72 L776.3 614.36 L776.8 615.00 L777.3 615.65 L777.8 616.30 L778.3 616.97 L778.8 617.63 L779.3 618.31 L779.8 618.98 L780.3 619.66 L780.8 620.35 L781.3 621.03 L781.8 621.72 L782.3 622.41 L782.8 623.09 L783.3 623.78 L783.8 624.47 L784.3 625.15 L784.8 625.83 L785.3 626.51 L785.8 627.18 L786.3 627.85 L786.8 628.52 L787.3 629.18 L787.8 629.83 L788.3 630.48 L788.8 631.11 L789.3 631.74 L789.8 632.36 L790.3 632.97 L790.8 633.57 L791.3 634.16 L791.8 634.73 L792.3 635.29 L792.8 635.84 L793.3 636.38 L793.8 636.90 L794.3 637.40 L794.8 637.89 L795.3 638.37 L795.8 638.82 L796.3 639.26 L796.8 639.68 L797.3 640.08 L797.8 640.46 L798.3 640.82 L798.8 641.16 L799.3 641.49 L799.8 641.80 L800.3 642.08 L800.8 642.36 L801.3 642.61 L801.8 642.85 L802.3 643.07 L802.8 643.27 L803.3 643.46 L803.8 643.63 L804.3 643.78 L804.8 643.92 L805.3 644.04 L805.8 644.15 L806.3 644.24 L806.8 644.32 L807.3 644.38 L807.8 644.43 L808.3 644.46 L808.8 644.48 L809.3 644.49 L809.8 644.48 L810.3 644.46 L810.8 644.42 L811.3 644.37 L811.8 644.31 L812.3 644.24 L812.8 644.16 L813.3 644.06 L813.8 643.95 L814.3 643.83 L814.8 643.70 L815.3 643.55 L815.8 643.40 L816.3 643.23 L816.8 643.06 L817.3 642.87 L817.8 642.68 L818.3 642.47 L818.8 642.25 L819.3 642.03 L819.8 641.79 L820.3 641.55 L820.8 641.30 L821.3 641.04 L821.8 640.77 L822.3 640.50 L822.8 640.22 L823.3 639.93 L823.8 639.64 L824.3 639.34 L824.8 639.04 L825.3 638.73 L825.8 638.42 L826.3 638.11 L826.8 637.79 L827.3 637.47 L827.8 637.15 L828.3 636.82 L828.8 636.49 L829.3 636.16 L829.8 635.84 L830.3 635.51 L830.8 635.18 L831.3 634.85 L831.8 634.52 L832.3 634.19 L832.8 633.87 L833.3 633.55 L833.8 633.23 L834.3 632.91 L834.8 632.60 L835.3 632.29 L835.8 631.98 L836.3 631.68 L836.8 631.39 L837.3 631.10 L837.8 630.81 L838.3 630.53 L838.8 630.26 L839.3 630.00 L839.8 629.74 L840.3 629.50 L840.8 629.26 L841.3 629.03 L841.8 628.81 L842.3 628.60 L842.8 628.39 L843.3 628.20 L843.8 628.02 L844.3 627.86 L844.8 627.70 L845.3 627.56 L845.8 627.43 L846.3 627.31 L846.8 627.20 L847.3 627.11 L847.8 627.04 L848.3 626.98 L848.8 626.93 L849.3 626.90 L849.8 626.89 L850.3 626.89 L850.8 626.91 L851.3 626.94 L851.8 626.99 L852.3 627.05 L852.8 627.13 L853.3 627.22 L853.8 627.33 L854.3 627.45 L854.8 627.58 L855.3 627.72 L855.8 627.87 L856.3 628.04 L856.8 628.21 L857.3 628.40 L857.8 628.59 L858.3 628.79 L858.8 629.01 L859.3 629.23 L859.8 629.45 L860.3 629.69 L860.8 629.93 L861.3 630.17 L861.8 630.42 L862.3 630.68 L862.8 630.94 L863.3 631.21 L863.8 631.48 L864.3 631.75 L864.8 632.02 L865.3 632.30 L865.8 632.58 L866.3 632.86 L866.8 633.14 L867.3 633.42 L867.8 633.70 L868.3 633.98 L868.8 634.25 L869.3 634.53 L869.8 634.80 L870.3 635.07 L870.8 635.34 L871.3 635.61 L871.8 635.87 L872.3 636.12 L872.8 636.37 L873.3 636.62 L873.8 636.85 L874.3 637.09 L874.8 637.31 L875.3 637.53 L875.8 637.74 L876.3 637.94 L876.8 638.13 L877.3 638.31 L877.8 638.48 L878.3 638.64 L878.8 638.79 L879.3 638.93" fill="none" stroke="#000" stroke-width="6.2" stroke-linejoin="round" clip-path="url(#clipa)"/>
<rect x="205.8" y="60.8" width="673.6" height="598.3" fill="none" stroke="#262626" stroke-width="6.3"/>
<text x="205.8" y="725.5" text-anchor="middle" class="tk">23.2</text>
<text x="374.2" y="725.5" text-anchor="middle" class="tk">23.3</text>
<text x="542.6" y="725.5" text-anchor="middle" class="tk">23.4</text>
<text x="711.0" y="725.5" text-anchor="middle" class="tk">23.5</text>
<text x="879.4" y="725.5" text-anchor="middle" class="tk">23.6</text>
<text x="186.0" y="663.6" text-anchor="end" class="tk">0</text>
<text x="187.5" y="549.6" text-anchor="end" class="tk">0.2</text>
<text x="187.5" y="435.6" text-anchor="end" class="tk">0.4</text>
<text x="187.5" y="321.5" text-anchor="end" class="tk">0.6</text>
<text x="187.5" y="207.5" text-anchor="end" class="tk">0.8</text>
<clipPath id="onea"><rect x="156.79" y="43.50" width="31.81" height="46.06"/><rect x="170.77" y="89.26" width="5.62" height="5.24"/></clipPath>
<text x="186.6" y="93.5" text-anchor="end" class="tk" clip-path="url(#onea)">1</text>
<path d="M205.8 662.5 V650.3 M205.8 57.3 V71.4 M374.2 662.5 V650.3 M374.2 57.3 V71.4 M542.6 662.5 V650.3 M542.6 57.3 V71.4 M711.0 662.5 V650.3 M711.0 57.3 V71.4 M879.4 662.5 V650.3 M879.4 57.3 V71.4 M202.4 645.0 H216.1 M882.8 645.0 H869.1 M202.4 531.0 H216.1 M882.8 531.0 H869.1 M202.4 417.0 H216.1 M882.8 417.0 H869.1 M202.4 302.9 H216.1 M882.8 302.9 H869.1 M202.4 188.9 H216.1 M882.8 188.9 H869.1 M202.4 74.9 H216.1 M882.8 74.9 H869.1" stroke="#262626" stroke-width="6" fill="none"/>
<text x="541.8" y="786.6" text-anchor="middle" class="lb">Kinetic Energy (eV)</text>
<text transform="translate(96.3 359.9) rotate(-90)" text-anchor="middle" class="lb yl">Photoelectron signal (arb. u.)</text>
<text x="4.4" y="33.4" class="pl">a</text>
<path d="M1176.5 642.59 L1177.0 642.60 L1177.5 642.60 L1178.0 642.61 L1178.5 642.61 L1179.0 642.62 L1179.5 642.62 L1180.0 642.63 L1180.5 642.63 L1181.0 642.64 L1181.5 642.64 L1182.0 642.65 L1182.5 642.65 L1183.0 642.65 L1183.5 642.66 L1184.0 642.66 L1184.5 642.67 L1185.0 642.67 L1185.5 642.67 L1186.0 642.68 L1186.5 642.68 L1187.0 642.69 L1187.5 642.69 L1188.0 642.69 L1188.5 642.70 L1189.0 642.70 L1189.5 642.70 L1190.0 642.71 L1190.5 642.71 L1191.0 642.71 L1191.5 642.72 L1192.0 642.72 L1192.5 642.72 L1193.0 642.73 L1193.5 642.73 L1194.0 642.73 L1194.5 642.74 L1195.0 642.74 L1195.5 642.74 L1196.0 642.75 L1196.5 642.75 L1197.0 642.75 L1197.5 642.75 L1198.0 642.76 L1198.5 642.76 L1199.0 642.76 L1199.5 642.76 L1200.0 642.77 L1200.5 642.77 L1201.0 642.77 L1201.5 642.77 L1202.0 642.78 L1202.5 642.78 L1203.0 642.78 L1203.5 642.78 L1204.0 642.78 L1204.5 642.79 L1205.0 642.79 L1205.5 642.79 L1206.0 642.79 L1206.5 642.79 L1207.0 642.80 L1207.5 642.80 L1208.0 642.80 L1208.5 642.80 L1209.0 642.80 L1209.5 642.80 L1210.0 642.81 L1210.5 642.81 L1211.0 642.81 L1211.5 642.81 L1212.0 642.81 L1212.5 642.81 L1213.0 642.81 L1213.5 642.82 L1214.0 642.82 L1214.5 642.82 L1215.0 642.82 L1215.5 642.82 L1216.0 642.82 L1216.5 642.82 L1217.0 642.82 L1217.5 642.82 L1218.0 642.82 L1218.5 642.82 L1219.0 642.83 L1219.5 642.83 L1220.0 642.83 L1220.5 642.83 L1221.0 642.83 L1221.5 642.83 L1222.0 642.83 L1222.5 642.83 L1223.0 642.83 L1223.5 642.83 L1224.0 642.83 L1224.5 642.83 L1225.0 642.83 L1225.5 642.83 L1226.0 642.83 L1226.5 642.83 L1227.0 642.83 L1227.5 642.83 L1228.0 642.83 L1228.5 642.83 L1229.0 642.83 L1229.5 642.83 L1230.0 642.83 L1230.5 642.83 L1231.0 642.83 L1231.5 642.83 L1232.0 642.83 L1232.5 642.83 L1233.0 642.83 L1233.5 642.83 L1234.0 642.83 L1234.5 642.83 L1235.0 642.83 L1235.5 642.82 L1236.0 642.82 L1236.5 642.82 L1237.0 642.82 L1237.5 642.82 L1238.0 642.82 L1238.5 642.82 L1239.0 642.82 L1239.5 642.82 L1240.0 642.82 L1240.5 642.82 L1241.0 642.81 L1241.5 642.81 L1242.0 642.81 L1242.5 642.81 L1243.0 642.81 L1243.5 642.81 L1244.0 642.81 L1244.5 642.81 L1245.0 642.80 L1245.5 642.80 L1246.0 642.80 L1246.5 642.80 L1247.0 642.80 L1247.5 642.80 L1248.0 642.80 L1248.5 642.79 L1249.0 642.79 L1249.5 642.79 L1250.0 642.79 L1250.5 642.79 L1251.0 642.78 L1251.5 642.78 L1252.0 642.78 L1252.5 642.78 L1253.0 642.78 L1253.5 642.77 L1254.0 642.77 L1254.5 642.77 L1255.0 642.77 L1255.5 642.77 L1256.0 642.76 L1256.5 642.76 L1257.0 642.76 L1257.5 642.76 L1258.0 642.76 L1258.5 642.75 L1259.0 642.75 L1259.5 642.75 L1260.0 642.75 L1260.5 642.74 L1261.0 642.74 L1261.5 642.74 L1262.0 642.74 L1262.5 642.73 L1263.0 642.73 L1263.5 642.73 L1264.0 642.72 L1264.5 642.72 L1265.0 642.72 L1265.5 642.72 L1266.0 642.71 L1266.5 642.71 L1267.0 642.71 L1267.5 642.70 L1268.0 642.70 L1268.5 642.70 L1269.0 642.70 L1269.5 642.69 L1270.0 642.69 L1270.5 642.69 L1271.0 642.68 L1271.5 642.68 L1272.0 642.68 L1272.5 642.67 L1273.0 642.67 L1273.5 642.67 L1274.0 642.66 L1274.5 642.66 L1275.0 642.66 L1275.5 642.65 L1276.0 642.65 L1276.5 642.65 L1277.0 642.64 L1277.5 642.64 L1278.0 642.64 L1278.5 642.63 L1279.0 642.63 L1279.5 642.63 L1280.0 642.62 L1280.5 642.62 L1281.0 642.61 L1281.5 642.61 L1282.0 642.61 L1282.5 642.60 L1283.0 642.60 L1283.5 642.59 L1284.0 642.59 L1284.5 642.59 L1285.0 642.58 L1285.5 642.58 L1286.0 642.58 L1286.5 642.57 L1287.0 642.57 L1287.5 642.56 L1288.0 642.56 L1288.5 642.55 L1289.0 642.55 L1289.5 642.55 L1290.0 642.54 L1290.5 642.54 L1291.0 642.53 L1291.5 642.53 L1292.0 642.53 L1292.5 642.52 L1293.0 642.52 L1293.5 642.51 L1294.0 642.51 L1294.5 642.50 L1295.0 642.50 L1295.5 642.49 L1296.0 642.49 L1296.5 642.49 L1297.0 642.48 L1297.5 642.48 L1298.0 642.47 L1298.5 642.47 L1299.0 642.46 L1299.5 642.45 L1300.0 642.45 L1300.5 642.44 L1301.0 642.43 L1301.5 642.41 L1302.0 642.40 L1302.5 642.38 L1303.0 642.36 L1303.5 642.34 L1304.0 642.32 L1304.5 642.29 L1305.0 642.26 L1305.5 642.23 L1306.0 642.19 L1306.5 642.15 L1307.0 642.10 L1307.5 642.05 L1308.0 642.00 L1308.5 641.94 L1309.0 641.87 L1309.5 641.80 L1310.0 641.73 L1310.5 641.65 L1311.0 641.56 L1311.5 641.47 L1312.0 641.38 L1312.5 641.27 L1313.0 641.16 L1313.5 641.04 L1314.0 640.92 L1314.5 640.78 L1315.0 640.65 L1315.5 640.50 L1316.0 640.34 L1316.5 640.18 L1317.0 640.01 L1317.5 639.82 L1318.0 639.63 L1318.5 639.44 L1319.0 639.23 L1319.5 639.01 L1320.0 638.78 L1320.5 638.54 L1321.0 638.29 L1321.5 638.03 L1322.0 637.76 L1322.5 637.47 L1323.0 637.18 L1323.5 636.87 L1324.0 636.55 L1324.5 636.22 L1325.0 635.88 L1325.5 635.53 L1326.0 635.17 L1326.5 634.80 L1327.0 634.43 L1327.5 634.06 L1328.0 633.68 L1328.5 633.31 L1329.0 632.93 L1329.5 632.56 L1330.0 632.19 L1330.5 631.83 L1331.0 631.48 L1331.5 631.13 L1332.0 630.80 L1332.5 630.47" fill="none" stroke="#000" stroke-width="6.2" stroke-linejoin="round" stroke-dasharray="19.6 20.7" stroke-dashoffset="2.17" clip-path="url(#clipb)"/>
<path d="M1332.5 630.47 L1333.0 630.16 L1333.5 629.87 L1334.0 629.58 L1334.5 629.31 L1335.0 629.05 L1335.5 628.81 L1336.0 628.57 L1336.5 628.35 L1337.0 628.13 L1337.5 627.93 L1338.0 627.73 L1338.5 627.55 L1339.0 627.37 L1339.5 627.21 L1340.0 627.05 L1340.5 626.90 L1341.0 626.75 L1341.5 626.62 L1342.0 626.49 L1342.5 626.37 L1343.0 626.26 L1343.5 626.15 L1344.0 626.04 L1344.5 625.94 L1345.0 625.85 L1345.5 625.76 L1346.0 625.68 L1346.5 625.60 L1347.0 625.52 L1347.5 625.45 L1348.0 625.37 L1348.5 625.30 L1349.0 625.24 L1349.5 625.17 L1350.0 625.12 L1350.5 625.07 L1351.0 625.03 L1351.5 625.00 L1352.0 624.98 L1352.5 624.98 L1353.0 625.00 L1353.5 625.03 L1354.0 625.09 L1354.5 625.16 L1355.0 625.27 L1355.5 625.39 L1356.0 625.55 L1356.5 625.72 L1357.0 625.92 L1357.5 626.14 L1358.0 626.38 L1358.5 626.64 L1359.0 626.91 L1359.5 627.21 L1360.0 627.51 L1360.5 627.83 L1361.0 628.16 L1361.5 628.51 L1362.0 628.86 L1362.5 629.22 L1363.0 629.59 L1363.5 629.97 L1364.0 630.35 L1364.5 630.73 L1365.0 631.12 L1365.5 631.51 L1366.0 631.90 L1366.5 632.28 L1367.0 632.67 L1367.5 633.05 L1368.0 633.43 L1368.5 633.80 L1369.0 634.16 L1369.5 634.51 L1370.0 634.86 L1370.5 635.19 L1371.0 635.51 L1371.5 635.82 L1372.0 636.12 L1372.5 636.40 L1373.0 636.67 L1373.5 636.92 L1374.0 637.17 L1374.5 637.40 L1375.0 637.63 L1375.5 637.84 L1376.0 638.05 L1376.5 638.25 L1377.0 638.45 L1377.5 638.63 L1378.0 638.82 L1378.5 638.99 L1379.0 639.17 L1379.5 639.34 L1380.0 639.51 L1380.5 639.67 L1381.0 639.84 L1381.5 640.00 L1382.0 640.17 L1382.5 640.33 L1383.0 640.50 L1383.5 640.67 L1384.0 640.84 L1384.5 641.02 L1385.0 641.20 L1385.5 641.38 L1386.0 641.54 L1386.5 641.70 L1387.0 641.83 L1387.5 641.94 L1388.0 642.02 L1388.5 642.06 L1389.0 642.05 L1389.5 642.00 L1390.0 641.89 L1390.5 641.72 L1391.0 641.49 L1391.5 641.18 L1392.0 640.79 L1392.5 640.34 L1393.0 639.82 L1393.5 639.24 L1394.0 638.60 L1394.5 637.92 L1395.0 637.19 L1395.5 636.42 L1396.0 635.63 L1396.5 634.81 L1397.0 633.96 L1397.5 633.08 L1398.0 632.19 L1398.5 631.26 L1399.0 630.32 L1399.5 629.35 L1400.0 628.35 L1400.5 627.34 L1401.0 626.30 L1401.5 625.23 L1402.0 624.15 L1402.5 623.04 L1403.0 621.91 L1403.5 620.76 L1404.0 619.59 L1404.5 618.40 L1405.0 617.19 L1405.5 615.96 L1406.0 614.71 L1406.5 613.44 L1407.0 612.14 L1407.5 610.82 L1408.0 609.48 L1408.5 608.11 L1409.0 606.71 L1409.5 605.28 L1410.0 603.82 L1410.5 602.32 L1411.0 600.80 L1411.5 599.23 L1412.0 597.63 L1412.5 595.99 L1413.0 594.31 L1413.5 592.59 L1414.0 590.82 L1414.5 589.01 L1415.0 587.16 L1415.5 585.25 L1416.0 583.30 L1416.5 581.29 L1417.0 579.24 L1417.5 577.13 L1418.0 574.97 L1418.5 572.76 L1419.0 570.51 L1419.5 568.20 L1420.0 565.86 L1420.5 563.47 L1421.0 561.05 L1421.5 558.58 L1422.0 556.08 L1422.5 553.55 L1423.0 550.99 L1423.5 548.39 L1424.0 545.77 L1424.5 543.12 L1425.0 540.44 L1425.5 537.74 L1426.0 535.03 L1426.5 532.29 L1427.0 529.54 L1427.5 526.77 L1428.0 523.98 L1428.5 521.19 L1429.0 518.39 L1429.5 515.58 L1430.0 512.76 L1430.5 509.95 L1431.0 507.13 L1431.5 504.31 L1432.0 501.49 L1432.5 498.67 L1433.0 495.86 L1433.5 493.06 L1434.0 490.27 L1434.5 487.48 L1435.0 484.70 L1435.5 481.94 L1436.0 479.19 L1436.5 476.45 L1437.0 473.72 L1437.5 471.02 L1438.0 468.32 L1438.5 465.65 L1439.0 462.99 L1439.5 460.36 L1440.0 457.75 L1440.5 455.16 L1441.0 452.59 L1441.5 450.05 L1442.0 447.53 L1442.5 445.04 L1443.0 442.58 L1443.5 440.15 L1444.0 437.75 L1444.5 435.38 L1445.0 433.05 L1445.5 430.75 L1446.0 428.48 L1446.5 426.25 L1447.0 424.06 L1447.5 421.90 L1448.0 419.79 L1448.5 417.71 L1449.0 415.68 L1449.5 413.69 L1450.0 411.75 L1450.5 409.85 L1451.0 408.00 L1451.5 406.20 L1452.0 404.44 L1452.5 402.74 L1453.0 401.08 L1453.5 399.48 L1454.0 397.93 L1454.5 396.44 L1455.0 395.00 L1455.5 393.62 L1456.0 392.30 L1456.5 391.03 L1457.0 389.83 L1457.5 388.69 L1458.0 387.61 L1458.5 386.59 L1459.0 385.64 L1459.5 384.76 L1460.0 383.94 L1460.5 383.19 L1461.0 382.51 L1461.5 381.91 L1462.0 381.37 L1462.5 380.91 L1463.0 380.52 L1463.5 380.20 L1464.0 379.96 L1464.5 379.80 L1465.0 379.72 L1465.5 379.72 L1466.0 379.80 L1466.5 379.95 L1467.0 380.19 L1467.5 380.50 L1468.0 380.88 L1468.5 381.34 L1469.0 381.88 L1469.5 382.48 L1470.0 383.16 L1470.5 383.90 L1471.0 384.71 L1471.5 385.59 L1472.0 386.54 L1472.5 387.55 L1473.0 388.62 L1473.5 389.76 L1474.0 390.96 L1474.5 392.21 L1475.0 393.53 L1475.5 394.90 L1476.0 396.33 L1476.5 397.81 L1477.0 399.35" fill="none" stroke="#000" stroke-width="6.2" stroke-linejoin="round" stroke-dasharray="19.63 20.73" stroke-dashoffset="0" clip-path="url(#clipb)"/>
<path d="M1477.0 399.35 L1477.5 400.94 L1478.0 402.58 L1478.5 404.28 L1479.0 406.02 L1479.5 407.81 L1480.0 409.65 L1480.5 411.53 L1481.0 413.45 L1481.5 415.42 L1482.0 417.44 L1482.5 419.49 L1483.0 421.58 L1483.5 423.71 L1484.0 425.88 L1484.5 428.09 L1485.0 430.33 L1485.5 432.60 L1486.0 434.90 L1486.5 437.24 L1487.0 439.61 L1487.5 442.01 L1488.0 444.43 L1488.5 446.88 L1489.0 449.36 L1489.5 451.86 L1490.0 454.38 L1490.5 456.93 L1491.0 459.49 L1491.5 462.08 L1492.0 464.68 L1492.5 467.30 L1493.0 469.94 L1493.5 472.59 L1494.0 475.26 L1494.5 477.93 L1495.0 480.62 L1495.5 483.32 L1496.0 486.03 L1496.5 488.74 L1497.0 491.47 L1497.5 494.19 L1498.0 496.92 L1498.5 499.65 L1499.0 502.38 L1499.5 505.10 L1500.0 507.83 L1500.5 510.54 L1501.0 513.25 L1501.5 515.95 L1502.0 518.64 L1502.5 521.32 L1503.0 523.98 L1503.5 526.63 L1504.0 529.26 L1504.5 531.87 L1505.0 534.47 L1505.5 537.03 L1506.0 539.58 L1506.5 542.10 L1507.0 544.59 L1507.5 547.05 L1508.0 549.49 L1508.5 551.89 L1509.0 554.25 L1509.5 556.59 L1510.0 558.88 L1510.5 561.13 L1511.0 563.35 L1511.5 565.52 L1512.0 567.65 L1512.5 569.73 L1513.0 571.77 L1513.5 573.76 L1514.0 575.69 L1514.5 577.58 L1515.0 579.41 L1515.5 581.18 L1516.0 582.90 L1516.5 584.56 L1517.0 586.16 L1517.5 587.69 L1518.0 589.17 L1518.5 590.57 L1519.0 591.91 L1519.5 593.19 L1520.0 594.39" fill="none" stroke="#000" stroke-width="6.2" stroke-linejoin="round" stroke-dasharray="19.44 20.54" stroke-dashoffset="0" clip-path="url(#clipb)"/>
<path d="M1520.0 594.39 L1520.5 595.52 L1521.0 596.57 L1521.5 597.55 L1522.0 598.45 L1522.5 599.28 L1523.0 600.02 L1523.5 600.68 L1524.0 601.26 L1524.5 601.75 L1525.0 602.16 L1525.5 602.48 L1526.0 602.70 L1526.5 602.84 L1527.0 602.88 L1527.5 602.82 L1528.0 602.68 L1528.5 602.44 L1529.0 602.11 L1529.5 601.69 L1530.0 601.18 L1530.5 600.59 L1531.0 599.91 L1531.5 599.16 L1532.0 598.32 L1532.5 597.40 L1533.0 596.41 L1533.5 595.34 L1534.0 594.20 L1534.5 592.98 L1535.0 591.70 L1535.5 590.34 L1536.0 588.92 L1536.5 587.43 L1537.0 585.88 L1537.5 584.27 L1538.0 582.60 L1538.5 580.86 L1539.0 579.07 L1539.5 577.23 L1540.0 575.33 L1540.5 573.38 L1541.0 571.37 L1541.5 569.32 L1542.0 567.22 L1542.5 565.08 L1543.0 562.89 L1543.5 560.66 L1544.0 558.38 L1544.5 556.07 L1545.0 553.72 L1545.5 551.34 L1546.0 548.92 L1546.5 546.47 L1547.0 543.99 L1547.5 541.48 L1548.0 538.94 L1548.5 536.37 L1549.0 533.79 L1549.5 531.17 L1550.0 528.54 L1550.5 525.89 L1551.0 523.22 L1551.5 520.54 L1552.0 517.84 L1552.5 515.13 L1553.0 512.40 L1553.5 509.67 L1554.0 506.93 L1554.5 504.19 L1555.0 501.44 L1555.5 498.68 L1556.0 495.93 L1556.5 493.18 L1557.0 490.43 L1557.5 487.68 L1558.0 484.94 L1558.5 482.20 L1559.0 479.48 L1559.5 476.76 L1560.0 474.06 L1560.5 471.37 L1561.0 468.70 L1561.5 466.04 L1562.0 463.41 L1562.5 460.79 L1563.0 458.19 L1563.5 455.62 L1564.0 453.08 L1564.5 450.56 L1565.0 448.07 L1565.5 445.61 L1566.0 443.18 L1566.5 440.78 L1567.0 438.42 L1567.5 436.09 L1568.0 433.80 L1568.5 431.54 L1569.0 429.31 L1569.5 427.13 L1570.0 424.98 L1570.5 422.87 L1571.0 420.80 L1571.5 418.77 L1572.0 416.78 L1572.5 414.84 L1573.0 412.93 L1573.5 411.08 L1574.0 409.26 L1574.5 407.49 L1575.0 405.77 L1575.5 404.10 L1576.0 402.47 L1576.5 400.89 L1577.0 399.36 L1577.5 397.89 L1578.0 396.46 L1578.5 395.09 L1579.0 393.77 L1579.5 392.50 L1580.0 391.29 L1580.5 390.13 L1581.0 389.03 L1581.5 387.99 L1582.0 387.01 L1582.5 386.08 L1583.0 385.22 L1583.5 384.41 L1584.0 383.67 L1584.5 382.99 L1585.0 382.37 L1585.5 381.82" fill="none" stroke="#000" stroke-width="6.2" stroke-linejoin="round" stroke-dasharray="19.65 20.76" stroke-dashoffset="0" clip-path="url(#clipb)"/>
<path d="M1585.5 381.82 L1586.0 381.33 L1586.5 380.91 L1587.0 380.56 L1587.5 380.27 L1588.0 380.05 L1588.5 379.90 L1589.0 379.82 L1589.5 379.81 L1590.0 379.87 L1590.5 380.01 L1591.0 380.22 L1591.5 380.50 L1592.0 380.86 L1592.5 381.29 L1593.0 381.80 L1593.5 382.39 L1594.0 383.05 L1594.5 383.80 L1595.0 384.62 L1595.5 385.52 L1596.0 386.50 L1596.5 387.55 L1597.0 388.67 L1597.5 389.86 L1598.0 391.12 L1598.5 392.44 L1599.0 393.84 L1599.5 395.29 L1600.0 396.81 L1600.5 398.40 L1601.0 400.04 L1601.5 401.74 L1602.0 403.49 L1602.5 405.31 L1603.0 407.17 L1603.5 409.09 L1604.0 411.06 L1604.5 413.08 L1605.0 415.15 L1605.5 417.26 L1606.0 419.42 L1606.5 421.62 L1607.0 423.86 L1607.5 426.14 L1608.0 428.47 L1608.5 430.83 L1609.0 433.22 L1609.5 435.65 L1610.0 438.11 L1610.5 440.61 L1611.0 443.13 L1611.5 445.68 L1612.0 448.26 L1612.5 450.86 L1613.0 453.49 L1613.5 456.14 L1614.0 458.81 L1614.5 461.50 L1615.0 464.20 L1615.5 466.93 L1616.0 469.67 L1616.5 472.42 L1617.0 475.18 L1617.5 477.95 L1618.0 480.73 L1618.5 483.52 L1619.0 486.32 L1619.5 489.11 L1620.0 491.92 L1620.5 494.72 L1621.0 497.52 L1621.5 500.32 L1622.0 503.12 L1622.5 505.91 L1623.0 508.69 L1623.5 511.47 L1624.0 514.24 L1624.5 517.00 L1625.0 519.74 L1625.5 522.47 L1626.0 525.19 L1626.5 527.88 L1627.0 530.56 L1627.5 533.22 L1628.0 535.86 L1628.5 538.48 L1629.0 541.07 L1629.5 543.63 L1630.0 546.17 L1630.5 548.68 L1631.0 551.16 L1631.5 553.62 L1632.0 556.05 L1632.5 558.44 L1633.0 560.81 L1633.5 563.15 L1634.0 565.45 L1634.5 567.73 L1635.0 569.97 L1635.5 572.18 L1636.0 574.36 L1636.5 576.50 L1637.0 578.61 L1637.5 580.68 L1638.0 582.72 L1638.5 584.72 L1639.0 586.69 L1639.5 588.62 L1640.0 590.51 L1640.5 592.36 L1641.0 594.18 L1641.5 595.95 L1642.0 597.69 L1642.5 599.38 L1643.0 601.04 L1643.5 602.65 L1644.0 604.22 L1644.5 605.75 L1645.0 607.23 L1645.5 608.67 L1646.0 610.07 L1646.5 611.42 L1647.0 612.73 L1647.5 613.99 L1648.0 615.20 L1648.5 616.37 L1649.0 617.49 L1649.5 618.57 L1650.0 619.62 L1650.5 620.64 L1651.0 621.64 L1651.5 622.64 L1652.0 623.62 L1652.5 624.61 L1653.0 625.61 L1653.5 626.62 L1654.0 627.66 L1654.5 628.70 L1655.0 629.76 L1655.5 630.81 L1656.0 631.85 L1656.5 632.88 L1657.0 633.88 L1657.5 634.85 L1658.0 635.79 L1658.5 636.68 L1659.0 637.51 L1659.5 638.28 L1660.0 638.99 L1660.5 639.62 L1661.0 640.17 L1661.5 640.63 L1662.0 641.02 L1662.5 641.33 L1663.0 641.57 L1663.5 641.75 L1664.0 641.86 L1664.5 641.92 L1665.0 641.91 L1665.5 641.87 L1666.0 641.79 L1666.5 641.69 L1667.0 641.58 L1667.5 641.47 L1668.0 641.36 L1668.5 641.26 L1669.0 641.15 L1669.5 641.04 L1670.0 640.93 L1670.5 640.81 L1671.0 640.69 L1671.5 640.56 L1672.0 640.42 L1672.5 640.27 L1673.0 640.11 L1673.5 639.94 L1674.0 639.75 L1674.5 639.55 L1675.0 639.34 L1675.5 639.12 L1676.0 638.89 L1676.5 638.65 L1677.0 638.40 L1677.5 638.14 L1678.0 637.87 L1678.5 637.60 L1679.0 637.32 L1679.5 637.03 L1680.0 636.73 L1680.5 636.43 L1681.0 636.12 L1681.5 635.81 L1682.0 635.49 L1682.5 635.17 L1683.0 634.85 L1683.5 634.52 L1684.0 634.19 L1684.5 633.86 L1685.0 633.53 L1685.5 633.19 L1686.0 632.86 L1686.5 632.53 L1687.0 632.19 L1687.5 631.86 L1688.0 631.53 L1688.5 631.21 L1689.0 630.88 L1689.5 630.56 L1690.0 630.24 L1690.5 629.92 L1691.0 629.61 L1691.5 629.31 L1692.0 629.01 L1692.5 628.72 L1693.0 628.43 L1693.5 628.15 L1694.0 627.88 L1694.5 627.62 L1695.0 627.36 L1695.5 627.12 L1696.0 626.88 L1696.5 626.66 L1697.0 626.44 L1697.5 626.24 L1698.0 626.05 L1698.5 625.87 L1699.0 625.70 L1699.5 625.54 L1700.0 625.40 L1700.5 625.28 L1701.0 625.17" fill="none" stroke="#000" stroke-width="6.2" stroke-linejoin="round" stroke-dasharray="19.58 20.68" stroke-dashoffset="0" clip-path="url(#clipb)"/>
<path d="M1701.0 625.17 L1701.5 625.07 L1702.0 624.99 L1702.5 624.92 L1703.0 624.88 L1703.5 624.84 L1704.0 624.82 L1704.5 624.82 L1705.0 624.83 L1705.5 624.86 L1706.0 624.90 L1706.5 624.95 L1707.0 625.02 L1707.5 625.10 L1708.0 625.19 L1708.5 625.30 L1709.0 625.41 L1709.5 625.54 L1710.0 625.68 L1710.5 625.83 L1711.0 625.99 L1711.5 626.16 L1712.0 626.34 L1712.5 626.52 L1713.0 626.72 L1713.5 626.93 L1714.0 627.14 L1714.5 627.37 L1715.0 627.60 L1715.5 627.83 L1716.0 628.08 L1716.5 628.33 L1717.0 628.58 L1717.5 628.85 L1718.0 629.12 L1718.5 629.39 L1719.0 629.67 L1719.5 629.95 L1720.0 630.24 L1720.5 630.53 L1721.0 630.82 L1721.5 631.12 L1722.0 631.42 L1722.5 631.72 L1723.0 632.02 L1723.5 632.33 L1724.0 632.63 L1724.5 632.94 L1725.0 633.25 L1725.5 633.56 L1726.0 633.87 L1726.5 634.17 L1727.0 634.48 L1727.5 634.79 L1728.0 635.09 L1728.5 635.39 L1729.0 635.69 L1729.5 635.99 L1730.0 636.28 L1730.5 636.58 L1731.0 636.86 L1731.5 637.15 L1732.0 637.43 L1732.5 637.70 L1733.0 637.97 L1733.5 638.23 L1734.0 638.49 L1734.5 638.74 L1735.0 638.99 L1735.5 639.23 L1736.0 639.46 L1736.5 639.68 L1737.0 639.90 L1737.5 640.10 L1738.0 640.30 L1738.5 640.49 L1739.0 640.67 L1739.5 640.84 L1740.0 641.00 L1740.5 641.15 L1741.0 641.29 L1741.5 641.43 L1742.0 641.55 L1742.5 641.66 L1743.0 641.76 L1743.5 641.85 L1744.0 641.94 L1744.5 642.02 L1745.0 642.09 L1745.5 642.15 L1746.0 642.21 L1746.5 642.26 L1747.0 642.30 L1747.5 642.34 L1748.0 642.38 L1748.5 642.40 L1749.0 642.43 L1749.5 642.44 L1750.0 642.46 L1750.5 642.47 L1751.0 642.48 L1751.5 642.48 L1752.0 642.48 L1752.5 642.48 L1753.0 642.47 L1753.5 642.47 L1754.0 642.46 L1754.5 642.45 L1755.0 642.44 L1755.5 642.43 L1756.0 642.42 L1756.5 642.41 L1757.0 642.40 L1757.5 642.39 L1758.0 642.38 L1758.5 642.37 L1759.0 642.37 L1759.5 642.36 L1760.0 642.35 L1760.5 642.35 L1761.0 642.34 L1761.5 642.34 L1762.0 642.34 L1762.5 642.34 L1763.0 642.33 L1763.5 642.33 L1764.0 642.33 L1764.5 642.33 L1765.0 642.33 L1765.5 642.33 L1766.0 642.33 L1766.5 642.33 L1767.0 642.34 L1767.5 642.34 L1768.0 642.34 L1768.5 642.35 L1769.0 642.35 L1769.5 642.36 L1770.0 642.36 L1770.5 642.37 L1771.0 642.37 L1771.5 642.38 L1772.0 642.38 L1772.5 642.39 L1773.0 642.40 L1773.5 642.40 L1774.0 642.41 L1774.5 642.42 L1775.0 642.43 L1775.5 642.44 L1776.0 642.45 L1776.5 642.45 L1777.0 642.46 L1777.5 642.47 L1778.0 642.48 L1778.5 642.49 L1779.0 642.50 L1779.5 642.51 L1780.0 642.52 L1780.5 642.53 L1781.0 642.54 L1781.5 642.55 L1782.0 642.56 L1782.5 642.57 L1783.0 642.58 L1783.5 642.60 L1784.0 642.61 L1784.5 642.62 L1785.0 642.63 L1785.5 642.64 L1786.0 642.65 L1786.5 642.66 L1787.0 642.67 L1787.5 642.68 L1788.0 642.69 L1788.5 642.70 L1789.0 642.71 L1789.5 642.72 L1790.0 642.73 L1790.5 642.74 L1791.0 642.75 L1791.5 642.76 L1792.0 642.77 L1792.5 642.78 L1793.0 642.78 L1793.5 642.79 L1794.0 642.80 L1794.5 642.81 L1795.0 642.82 L1795.5 642.82 L1796.0 642.83 L1796.5 642.84 L1797.0 642.84 L1797.5 642.85 L1798.0 642.85 L1798.5 642.86 L1799.0 642.87 L1799.5 642.87 L1800.0 642.88 L1800.5 642.88 L1801.0 642.88 L1801.5 642.89 L1802.0 642.89 L1802.5 642.90 L1803.0 642.90 L1803.5 642.90 L1804.0 642.91 L1804.5 642.91 L1805.0 642.91 L1805.5 642.91 L1806.0 642.92 L1806.5 642.92 L1807.0 642.92 L1807.5 642.92 L1808.0 642.92 L1808.5 642.92 L1809.0 642.92 L1809.5 642.93 L1810.0 642.93 L1810.5 642.93 L1811.0 642.93 L1811.5 642.93 L1812.0 642.93 L1812.5 642.93 L1813.0 642.93 L1813.5 642.93 L1814.0 642.92 L1814.5 642.92 L1815.0 642.92 L1815.5 642.92 L1816.0 642.92 L1816.5 642.92 L1817.0 642.92 L1817.5 642.92 L1818.0 642.91 L1818.5 642.91 L1819.0 642.91 L1819.5 642.91 L1820.0 642.90 L1820.5 642.90 L1821.0 642.90 L1821.5 642.90 L1822.0 642.89 L1822.5 642.89 L1823.0 642.89 L1823.5 642.88 L1824.0 642.88 L1824.5 642.88 L1825.0 642.87 L1825.5 642.87 L1826.0 642.87 L1826.5 642.86 L1827.0 642.86 L1827.5 642.86 L1828.0 642.85 L1828.5 642.85 L1829.0 642.84 L1829.5 642.84 L1830.0 642.84 L1830.5 642.83 L1831.0 642.83 L1831.5 642.82 L1832.0 642.82 L1832.5 642.81 L1833.0 642.81 L1833.5 642.80 L1834.0 642.80 L1834.5 642.80 L1835.0 642.79 L1835.5 642.79 L1836.0 642.78 L1836.5 642.78 L1837.0 642.77 L1837.5 642.77 L1838.0 642.76 L1838.5 642.76 L1839.0 642.75 L1839.5 642.75 L1840.0 642.74 L1840.5 642.74 L1841.0 642.73 L1841.5 642.73 L1842.0 642.72 L1842.5 642.72 L1843.0 642.71 L1843.5 642.71 L1844.0 642.70 L1844.5 642.70 L1845.0 642.70 L1845.5 642.69 L1846.0 642.69 L1846.5 642.68 L1847.0 642.68 L1847.5 642.67 L1848.0 642.67 L1848.5 642.66 L1849.0 642.66 L1849.5 642.66 L1850.0 642.65 L1850.5 642.65 L1851.0 642.64 L1851.5 642.64 L1852.0 642.63 L1852.5 642.63 L1853.0 642.63 L1853.5 642.62 L1854.0 642.62 L1854.5 642.62 L1855.0 642.61 L1855.5 642.61 L1856.0 642.61 L1856.5 642.60 L1857.0 642.60 L1857.5 642.60 L1858.0 642.59 L1858.5 642.59 L1859.0 642.59 L1859.5 642.59 L1860.0 642.58 L1860.5 642.58 L1861.0 642.58 L1861.5 642.58 L1862.0 642.58 L1862.5 642.57 L1863.0 642.57 L1863.5 642.57 L1864.0 642.57 L1864.5 642.57 L1865.0 642.57 L1865.5 642.57 L1866.0 642.57 L1866.5 642.57 L1867.0 642.57 L1867.5 642.56 L1868.0 642.56 L1868.5 642.56 L1869.0 642.57 L1869.5 642.57 L1870.0 642.57 L1870.5 642.57 L1871.0 642.57 L1871.5 642.57 L1872.0 642.57 L1872.5 642.57 L1873.0 642.57 L1873.5 642.58 L1874.0 642.58 L1874.5 642.58 L1875.0 642.58 L1875.5 642.59 L1876.0 642.59 L1876.5 642.59 L1877.0 642.60 L1877.5 642.60" fill="none" stroke="#000" stroke-width="6.2" stroke-linejoin="round" stroke-dasharray="19.6 20.7" stroke-dashoffset="0" clip-path="url(#clipb)"/>
<path d="M1176.5 641.38 L1177.0 641.50 L1177.5 641.61 L1178.0 641.72 L1178.5 641.83 L1179.0 641.92 L1179.5 642.02 L1180.0 642.10 L1180.5 642.18 L1181.0 642.26 L1181.5 642.33 L1182.0 642.39 L1182.5 642.45 L1183.0 642.51 L1183.5 642.56 L1184.0 642.61 L1184.5 642.65 L1185.0 642.68 L1185.5 642.71 L1186.0 642.74 L1186.5 642.76 L1187.0 642.78 L1187.5 642.79 L1188.0 642.80 L1188.5 642.81 L1189.0 642.81 L1189.5 642.81 L1190.0 642.80 L1190.5 642.79 L1191.0 642.77 L1191.5 642.76 L1192.0 642.74 L1192.5 642.71 L1193.0 642.68 L1193.5 642.65 L1194.0 642.61 L1194.5 642.58 L1195.0 642.54 L1195.5 642.49 L1196.0 642.44 L1196.5 642.39 L1197.0 642.34 L1197.5 642.28 L1198.0 642.23 L1198.5 642.17 L1199.0 642.10 L1199.5 642.04 L1200.0 641.97 L1200.5 641.90 L1201.0 641.83 L1201.5 641.75 L1202.0 641.67 L1202.5 641.60 L1203.0 641.52 L1203.5 641.43 L1204.0 641.35 L1204.5 641.26 L1205.0 641.18 L1205.5 641.09 L1206.0 641.00 L1206.5 640.91 L1207.0 640.82 L1207.5 640.72 L1208.0 640.63 L1208.5 640.54 L1209.0 640.44 L1209.5 640.34 L1210.0 640.24 L1210.5 640.15 L1211.0 640.05 L1211.5 639.95 L1212.0 639.85 L1212.5 639.75 L1213.0 639.65 L1213.5 639.55 L1214.0 639.45 L1214.5 639.35 L1215.0 639.25 L1215.5 639.15 L1216.0 639.05 L1216.5 638.95 L1217.0 638.85 L1217.5 638.75 L1218.0 638.65 L1218.5 638.55 L1219.0 638.46 L1219.5 638.36 L1220.0 638.27 L1220.5 638.17 L1221.0 638.08 L1221.5 637.99 L1222.0 637.90 L1222.5 637.81 L1223.0 637.72 L1223.5 637.63 L1224.0 637.55 L1224.5 637.46 L1225.0 637.38 L1225.5 637.30 L1226.0 637.22 L1226.5 637.14 L1227.0 637.07 L1227.5 637.00 L1228.0 636.93 L1228.5 636.86 L1229.0 636.79 L1229.5 636.73 L1230.0 636.67 L1230.5 636.61 L1231.0 636.55 L1231.5 636.50 L1232.0 636.45 L1232.5 636.40 L1233.0 636.36 L1233.5 636.32 L1234.0 636.28 L1234.5 636.24 L1235.0 636.21 L1235.5 636.18 L1236.0 636.16 L1236.5 636.14 L1237.0 636.12 L1237.5 636.10 L1238.0 636.09 L1238.5 636.09 L1239.0 636.08 L1239.5 636.08 L1240.0 636.09 L1240.5 636.10 L1241.0 636.11 L1241.5 636.13 L1242.0 636.15 L1242.5 636.17 L1243.0 636.20 L1243.5 636.23 L1244.0 636.26 L1244.5 636.29 L1245.0 636.33 L1245.5 636.38 L1246.0 636.42 L1246.5 636.47 L1247.0 636.52 L1247.5 636.57 L1248.0 636.63 L1248.5 636.68 L1249.0 636.74 L1249.5 636.80 L1250.0 636.87 L1250.5 636.93 L1251.0 637.00 L1251.5 637.07 L1252.0 637.14 L1252.5 637.21 L1253.0 637.28 L1253.5 637.35 L1254.0 637.43 L1254.5 637.50 L1255.0 637.58 L1255.5 637.66 L1256.0 637.74 L1256.5 637.82 L1257.0 637.90 L1257.5 637.98 L1258.0 638.06 L1258.5 638.14 L1259.0 638.22 L1259.5 638.30 L1260.0 638.38 L1260.5 638.46 L1261.0 638.54 L1261.5 638.62 L1262.0 638.70 L1262.5 638.78 L1263.0 638.86 L1263.5 638.93 L1264.0 639.01 L1264.5 639.08 L1265.0 639.16 L1265.5 639.23 L1266.0 639.30 L1266.5 639.37 L1267.0 639.44 L1267.5 639.51 L1268.0 639.57 L1268.5 639.64 L1269.0 639.70 L1269.5 639.76 L1270.0 639.81 L1270.5 639.87 L1271.0 639.92 L1271.5 639.97 L1272.0 640.02 L1272.5 640.06 L1273.0 640.11 L1273.5 640.15 L1274.0 640.18 L1274.5 640.22 L1275.0 640.25 L1275.5 640.27 L1276.0 640.30 L1276.5 640.32 L1277.0 640.33 L1277.5 640.35 L1278.0 640.35 L1278.5 640.36 L1279.0 640.36 L1279.5 640.36 L1280.0 640.35 L1280.5 640.34 L1281.0 640.32 L1281.5 640.30 L1282.0 640.28 L1282.5 640.25 L1283.0 640.22 L1283.5 640.18 L1284.0 640.13 L1284.5 640.08 L1285.0 640.03 L1285.5 639.97 L1286.0 639.90 L1286.5 639.83 L1287.0 639.76 L1287.5 639.68 L1288.0 639.59 L1288.5 639.49 L1289.0 639.39 L1289.5 639.29 L1290.0 639.18 L1290.5 639.06 L1291.0 638.93 L1291.5 638.80 L1292.0 638.66 L1292.5 638.52 L1293.0 638.37 L1293.5 638.21 L1294.0 638.04 L1294.5 637.87 L1295.0 637.69 L1295.5 637.50 L1296.0 637.31 L1296.5 637.11 L1297.0 636.90 L1297.5 636.68 L1298.0 636.46 L1298.5 636.23 L1299.0 635.99 L1299.5 635.75 L1300.0 635.50 L1300.5 635.25 L1301.0 634.99 L1301.5 634.72 L1302.0 634.46 L1302.5 634.18 L1303.0 633.91 L1303.5 633.62 L1304.0 633.34 L1304.5 633.05 L1305.0 632.76 L1305.5 632.47 L1306.0 632.17 L1306.5 631.87 L1307.0 631.57 L1307.5 631.27 L1308.0 630.97 L1308.5 630.67 L1309.0 630.36 L1309.5 630.05 L1310.0 629.75 L1310.5 629.44 L1311.0 629.14 L1311.5 628.83 L1312.0 628.53 L1312.5 628.23 L1313.0 627.93 L1313.5 627.63 L1314.0 627.33 L1314.5 627.03 L1315.0 626.74 L1315.5 626.45 L1316.0 626.16 L1316.5 625.88 L1317.0 625.60 L1317.5 625.32 L1318.0 625.05 L1318.5 624.78 L1319.0 624.52 L1319.5 624.26 L1320.0 624.01 L1320.5 623.76 L1321.0 623.52 L1321.5 623.29 L1322.0 623.06 L1322.5 622.84 L1323.0 622.62 L1323.5 622.42 L1324.0 622.21 L1324.5 622.02 L1325.0 621.84 L1325.5 621.66 L1326.0 621.49 L1326.5 621.34 L1327.0 621.19 L1327.5 621.05 L1328.0 620.92 L1328.5 620.79 L1329.0 620.68 L1329.5 620.58 L1330.0 620.50 L1330.5 620.42 L1331.0 620.35 L1331.5 620.30 L1332.0 620.25 L1332.5 620.22 L1333.0 620.20 L1333.5 620.20 L1334.0 620.21 L1334.5 620.22 L1335.0 620.26 L1335.5 620.30 L1336.0 620.35 L1336.5 620.42 L1337.0 620.50 L1337.5 620.58 L1338.0 620.68 L1338.5 620.79 L1339.0 620.91 L1339.5 621.04 L1340.0 621.18 L1340.5 621.32 L1341.0 621.48 L1341.5 621.64 L1342.0 621.82 L1342.5 622.00 L1343.0 622.19 L1343.5 622.39 L1344.0 622.60 L1344.5 622.81 L1345.0 623.03 L1345.5 623.26 L1346.0 623.50 L1346.5 623.74 L1347.0 623.98 L1347.5 624.24 L1348.0 624.50 L1348.5 624.76 L1349.0 625.03 L1349.5 625.31 L1350.0 625.59 L1350.5 625.87 L1351.0 626.16 L1351.5 626.46 L1352.0 626.75 L1352.5 627.05 L1353.0 627.36 L1353.5 627.67 L1354.0 627.98 L1354.5 628.29 L1355.0 628.60 L1355.5 628.92 L1356.0 629.24 L1356.5 629.56 L1357.0 629.88 L1357.5 630.21 L1358.0 630.53 L1358.5 630.86 L1359.0 631.19 L1359.5 631.51 L1360.0 631.84 L1360.5 632.16 L1361.0 632.47 L1361.5 632.79 L1362.0 633.09 L1362.5 633.39 L1363.0 633.68 L1363.5 633.96 L1364.0 634.23 L1364.5 634.49 L1365.0 634.73 L1365.5 634.96 L1366.0 635.17 L1366.5 635.37 L1367.0 635.55 L1367.5 635.71 L1368.0 635.85 L1368.5 635.96 L1369.0 636.06 L1369.5 636.13 L1370.0 636.18 L1370.5 636.20 L1371.0 636.19 L1371.5 636.15 L1372.0 636.09 L1372.5 635.99 L1373.0 635.86 L1373.5 635.70 L1374.0 635.51 L1374.5 635.27 L1375.0 635.01 L1375.5 634.70 L1376.0 634.36 L1376.5 633.97 L1377.0 633.55 L1377.5 633.08 L1378.0 632.57 L1378.5 632.01 L1379.0 631.41 L1379.5 630.76 L1380.0 630.06 L1380.5 629.31 L1381.0 628.51 L1381.5 627.66 L1382.0 626.76 L1382.5 625.80 L1383.0 624.79 L1383.5 623.72 L1384.0 622.60 L1384.5 621.41 L1385.0 620.17 L1385.5 618.87 L1386.0 617.50 L1386.5 616.07 L1387.0 614.57 L1387.5 613.01 L1388.0 611.39 L1388.5 609.69 L1389.0 607.93 L1389.5 606.10 L1390.0 604.20 L1390.5 602.23 L1391.0 600.20 L1391.5 598.10 L1392.0 595.94 L1392.5 593.71 L1393.0 591.41 L1393.5 589.06 L1394.0 586.64 L1394.5 584.15 L1395.0 581.61 L1395.5 579.00 L1396.0 576.33 L1396.5 573.60 L1397.0 570.81 L1397.5 567.96 L1398.0 565.05 L1398.5 562.08 L1399.0 559.05 L1399.5 555.97 L1400.0 552.83 L1400.5 549.63 L1401.0 546.37 L1401.5 543.06 L1402.0 539.69 L1402.5 536.27 L1403.0 532.79 L1403.5 529.26 L1404.0 525.67 L1404.5 522.04 L1405.0 518.35 L1405.5 514.61 L1406.0 510.81 L1406.5 506.97 L1407.0 503.07 L1407.5 499.13 L1408.0 495.13 L1408.5 491.09 L1409.0 487.00 L1409.5 482.86 L1410.0 478.67 L1410.5 474.44 L1411.0 470.16 L1411.5 465.83 L1412.0 461.46 L1412.5 457.04 L1413.0 452.58 L1413.5 448.08 L1414.0 443.54 L1414.5 438.96 L1415.0 434.35 L1415.5 429.70 L1416.0 425.03 L1416.5 420.32 L1417.0 415.58 L1417.5 410.81 L1418.0 406.02 L1418.5 401.21 L1419.0 396.38 L1419.5 391.52 L1420.0 386.65 L1420.5 381.77 L1421.0 376.86 L1421.5 371.95 L1422.0 367.03 L1422.5 362.09 L1423.0 357.15 L1423.5 352.21 L1424.0 347.26 L1424.5 342.31 L1425.0 337.36 L1425.5 332.42 L1426.0 327.47 L1426.5 322.54 L1427.0 317.61 L1427.5 312.69 L1428.0 307.78 L1428.5 302.88 L1429.0 298.00 L1429.5 293.14 L1430.0 288.29 L1430.5 283.46 L1431.0 278.66 L1431.5 273.88 L1432.0 269.12 L1432.5 264.40 L1433.0 259.70 L1433.5 255.03 L1434.0 250.40 L1434.5 245.80 L1435.0 241.24 L1435.5 236.72 L1436.0 232.25 L1436.5 227.81 L1437.0 223.42 L1437.5 219.08 L1438.0 214.79 L1438.5 210.55 L1439.0 206.36 L1439.5 202.23 L1440.0 198.16 L1440.5 194.14 L1441.0 190.19 L1441.5 186.30 L1442.0 182.48 L1442.5 178.72 L1443.0 175.03 L1443.5 171.42 L1444.0 167.88 L1444.5 164.41 L1445.0 161.02 L1445.5 157.71 L1446.0 154.48 L1446.5 151.34 L1447.0 148.28 L1447.5 145.31 L1448.0 142.43 L1448.5 139.64 L1449.0 136.94 L1449.5 134.34 L1450.0 131.83 L1450.5 129.43 L1451.0 127.13 L1451.5 124.92 L1452.0 122.83 L1452.5 120.83 L1453.0 118.94 L1453.5 117.16 L1454.0 115.48 L1454.5 113.91 L1455.0 112.45 L1455.5 111.10 L1456.0 109.86 L1456.5 108.73 L1457.0 107.72 L1457.5 106.82 L1458.0 106.03 L1458.5 105.36 L1459.0 104.80 L1459.5 104.36 L1460.0 104.04 L1460.5 103.85 L1461.0 103.77 L1461.5 103.81 L1462.0 103.97 L1462.5 104.26 L1463.0 104.67 L1463.5 105.21 L1464.0 105.87 L1464.5 106.66 L1465.0 107.58 L1465.5 108.62 L1466.0 109.78 L1466.5 111.07 L1467.0 112.47 L1467.5 114.00 L1468.0 115.63 L1468.5 117.39 L1469.0 119.25 L1469.5 121.23 L1470.0 123.32 L1470.5 125.51 L1471.0 127.82 L1471.5 130.22 L1472.0 132.73 L1472.5 135.35 L1473.0 138.06 L1473.5 140.87 L1474.0 143.78 L1474.5 146.78 L1475.0 149.88 L1475.5 153.07 L1476.0 156.35 L1476.5 159.71 L1477.0 163.17 L1477.5 166.71 L1478.0 170.34 L1478.5 174.04 L1479.0 177.83 L1479.5 181.70 L1480.0 185.64 L1480.5 189.66 L1481.0 193.76 L1481.5 197.92 L1482.0 202.16 L1482.5 206.47 L1483.0 210.85 L1483.5 215.29 L1484.0 219.79 L1484.5 224.36 L1485.0 228.99 L1485.5 233.68 L1486.0 238.43 L1486.5 243.23 L1487.0 248.09 L1487.5 253.00 L1488.0 257.96 L1488.5 262.96 L1489.0 268.01 L1489.5 273.09 L1490.0 278.20 L1490.5 283.35 L1491.0 288.53 L1491.5 293.74 L1492.0 298.97 L1492.5 304.22 L1493.0 309.48 L1493.5 314.76 L1494.0 320.05 L1494.5 325.35 L1495.0 330.65 L1495.5 335.95 L1496.0 341.26 L1496.5 346.55 L1497.0 351.84 L1497.5 357.12 L1498.0 362.39 L1498.5 367.64 L1499.0 372.86 L1499.5 378.07 L1500.0 383.25 L1500.5 388.40 L1501.0 393.51 L1501.5 398.59 L1502.0 403.64 L1502.5 408.64 L1503.0 413.59 L1503.5 418.50 L1504.0 423.36 L1504.5 428.17 L1505.0 432.91 L1505.5 437.61 L1506.0 442.24 L1506.5 446.81 L1507.0 451.31 L1507.5 455.74 L1508.0 460.11 L1508.5 464.41 L1509.0 468.62 L1509.5 472.77 L1510.0 476.83 L1510.5 480.81 L1511.0 484.71 L1511.5 488.52 L1512.0 492.24 L1512.5 495.87 L1513.0 499.41 L1513.5 502.85 L1514.0 506.19 L1514.5 509.43 L1515.0 512.57 L1515.5 515.60 L1516.0 518.52 L1516.5 521.34 L1517.0 524.04 L1517.5 526.62 L1518.0 529.09 L1518.5 531.44 L1519.0 533.66 L1519.5 535.76 L1520.0 537.74 L1520.5 539.58 L1521.0 541.30 L1521.5 542.88 L1522.0 544.34 L1522.5 545.66 L1523.0 546.86 L1523.5 547.91 L1524.0 548.84 L1524.5 549.63 L1525.0 550.28 L1525.5 550.80 L1526.0 551.18 L1526.5 551.42 L1527.0 551.52 L1527.5 551.48 L1528.0 551.30 L1528.5 550.99 L1529.0 550.53 L1529.5 549.94 L1530.0 549.21 L1530.5 548.35 L1531.0 547.35 L1531.5 546.21 L1532.0 544.95 L1532.5 543.55 L1533.0 542.02 L1533.5 540.36 L1534.0 538.57 L1534.5 536.65 L1535.0 534.61 L1535.5 532.43 L1536.0 530.13 L1536.5 527.71 L1537.0 525.15 L1537.5 522.48 L1538.0 519.68 L1538.5 516.76 L1539.0 513.72 L1539.5 510.56 L1540.0 507.27 L1540.5 503.88 L1541.0 500.36 L1541.5 496.74 L1542.0 493.01 L1542.5 489.18 L1543.0 485.25 L1543.5 481.23 L1544.0 477.11 L1544.5 472.91 L1545.0 468.62 L1545.5 464.26 L1546.0 459.82 L1546.5 455.31 L1547.0 450.73 L1547.5 446.08 L1548.0 441.37 L1548.5 436.61 L1549.0 431.79 L1549.5 426.93 L1550.0 422.02 L1550.5 417.06 L1551.0 412.07 L1551.5 407.05 L1552.0 401.99 L1552.5 396.91 L1553.0 391.80 L1553.5 386.68 L1554.0 381.54 L1554.5 376.38 L1555.0 371.22 L1555.5 366.06 L1556.0 360.89 L1556.5 355.73 L1557.0 350.56 L1557.5 345.40 L1558.0 340.25 L1558.5 335.11 L1559.0 329.97 L1559.5 324.85 L1560.0 319.74 L1560.5 314.64 L1561.0 309.57 L1561.5 304.51 L1562.0 299.47 L1562.5 294.45 L1563.0 289.46 L1563.5 284.50 L1564.0 279.56 L1564.5 274.65 L1565.0 269.78 L1565.5 264.94 L1566.0 260.13 L1566.5 255.36 L1567.0 250.63 L1567.5 245.94 L1568.0 241.29 L1568.5 236.69 L1569.0 232.14 L1569.5 227.63 L1570.0 223.17 L1570.5 218.76 L1571.0 214.41 L1571.5 210.11 L1572.0 205.87 L1572.5 201.69 L1573.0 197.57 L1573.5 193.51 L1574.0 189.52 L1574.5 185.59 L1575.0 181.73 L1575.5 177.94 L1576.0 174.23 L1576.5 170.59 L1577.0 167.02 L1577.5 163.53 L1578.0 160.12 L1578.5 156.79 L1579.0 153.54 L1579.5 150.38 L1580.0 147.30 L1580.5 144.31 L1581.0 141.41 L1581.5 138.61 L1582.0 135.90 L1582.5 133.28 L1583.0 130.76 L1583.5 128.34 L1584.0 126.02 L1584.5 123.81 L1585.0 121.69 L1585.5 119.69 L1586.0 117.79 L1586.5 116.01 L1587.0 114.33 L1587.5 112.77 L1588.0 111.33 L1588.5 110.00 L1589.0 108.79 L1589.5 107.71 L1590.0 106.74 L1590.5 105.90 L1591.0 105.19 L1591.5 104.61 L1592.0 104.15 L1592.5 103.83 L1593.0 103.65 L1593.5 103.59 L1594.0 103.68 L1594.5 103.90 L1595.0 104.25 L1595.5 104.73 L1596.0 105.34 L1596.5 106.07 L1597.0 106.94 L1597.5 107.92 L1598.0 109.03 L1598.5 110.25 L1599.0 111.59 L1599.5 113.05 L1600.0 114.62 L1600.5 116.30 L1601.0 118.09 L1601.5 119.99 L1602.0 122.00 L1602.5 124.11 L1603.0 126.32 L1603.5 128.63 L1604.0 131.05 L1604.5 133.55 L1605.0 136.16 L1605.5 138.85 L1606.0 141.64 L1606.5 144.51 L1607.0 147.48 L1607.5 150.52 L1608.0 153.65 L1608.5 156.87 L1609.0 160.16 L1609.5 163.53 L1610.0 166.98 L1610.5 170.50 L1611.0 174.09 L1611.5 177.75 L1612.0 181.48 L1612.5 185.28 L1613.0 189.14 L1613.5 193.06 L1614.0 197.05 L1614.5 201.09 L1615.0 205.20 L1615.5 209.35 L1616.0 213.56 L1616.5 217.82 L1617.0 222.14 L1617.5 226.49 L1618.0 230.90 L1618.5 235.35 L1619.0 239.84 L1619.5 244.37 L1620.0 248.94 L1620.5 253.54 L1621.0 258.18 L1621.5 262.85 L1622.0 267.56 L1622.5 272.29 L1623.0 277.05 L1623.5 281.83 L1624.0 286.64 L1624.5 291.47 L1625.0 296.32 L1625.5 301.18 L1626.0 306.06 L1626.5 310.96 L1627.0 315.87 L1627.5 320.78 L1628.0 325.71 L1628.5 330.64 L1629.0 335.57 L1629.5 340.51 L1630.0 345.45 L1630.5 350.39 L1631.0 355.32 L1631.5 360.25 L1632.0 365.18 L1632.5 370.09 L1633.0 374.99 L1633.5 379.89 L1634.0 384.76 L1634.5 389.63 L1635.0 394.47 L1635.5 399.30 L1636.0 404.11 L1636.5 408.90 L1637.0 413.66 L1637.5 418.40 L1638.0 423.12 L1638.5 427.81 L1639.0 432.48 L1639.5 437.11 L1640.0 441.72 L1640.5 446.29 L1641.0 450.83 L1641.5 455.33 L1642.0 459.80 L1642.5 464.23 L1643.0 468.63 L1643.5 472.98 L1644.0 477.29 L1644.5 481.56 L1645.0 485.78 L1645.5 489.96 L1646.0 494.09 L1646.5 498.17 L1647.0 502.21 L1647.5 506.19 L1648.0 510.12 L1648.5 513.99 L1649.0 517.81 L1649.5 521.57 L1650.0 525.28 L1650.5 528.92 L1651.0 532.51 L1651.5 536.03 L1652.0 539.49 L1652.5 542.88 L1653.0 546.21 L1653.5 549.48 L1654.0 552.69 L1654.5 555.83 L1655.0 558.90 L1655.5 561.92 L1656.0 564.87 L1656.5 567.76 L1657.0 570.58 L1657.5 573.34 L1658.0 576.04 L1658.5 578.68 L1659.0 581.25 L1659.5 583.77 L1660.0 586.21 L1660.5 588.60 L1661.0 590.93 L1661.5 593.19 L1662.0 595.39 L1662.5 597.52 L1663.0 599.60 L1663.5 601.61 L1664.0 603.56 L1664.5 605.45 L1665.0 607.28 L1665.5 609.05 L1666.0 610.75 L1666.5 612.39 L1667.0 613.98 L1667.5 615.50 L1668.0 616.95 L1668.5 618.35 L1669.0 619.69 L1669.5 620.96 L1670.0 622.18 L1670.5 623.33 L1671.0 624.42 L1671.5 625.46 L1672.0 626.43 L1672.5 627.35 L1673.0 628.22 L1673.5 629.03 L1674.0 629.79 L1674.5 630.50 L1675.0 631.16 L1675.5 631.77 L1676.0 632.33 L1676.5 632.85 L1677.0 633.32 L1677.5 633.75 L1678.0 634.14 L1678.5 634.49 L1679.0 634.80 L1679.5 635.07 L1680.0 635.31 L1680.5 635.51 L1681.0 635.68 L1681.5 635.82 L1682.0 635.92 L1682.5 636.00 L1683.0 636.05 L1683.5 636.07 L1684.0 636.06 L1684.5 636.03 L1685.0 635.98 L1685.5 635.91 L1686.0 635.82 L1686.5 635.71 L1687.0 635.58 L1687.5 635.43 L1688.0 635.27 L1688.5 635.10 L1689.0 634.91 L1689.5 634.71 L1690.0 634.50 L1690.5 634.28 L1691.0 634.05 L1691.5 633.80 L1692.0 633.55 L1692.5 633.29 L1693.0 633.01 L1693.5 632.73 L1694.0 632.45 L1694.5 632.15 L1695.0 631.85 L1695.5 631.54 L1696.0 631.23 L1696.5 630.91 L1697.0 630.59 L1697.5 630.26 L1698.0 629.93 L1698.5 629.60 L1699.0 629.26 L1699.5 628.93 L1700.0 628.59 L1700.5 628.25 L1701.0 627.91 L1701.5 627.58 L1702.0 627.24 L1702.5 626.91 L1703.0 626.57 L1703.5 626.24 L1704.0 625.92 L1704.5 625.60 L1705.0 625.28 L1705.5 624.96 L1706.0 624.66 L1706.5 624.35 L1707.0 624.06 L1707.5 623.77 L1708.0 623.49 L1708.5 623.22 L1709.0 622.95 L1709.5 622.70 L1710.0 622.46 L1710.5 622.22 L1711.0 622.00 L1711.5 621.79 L1712.0 621.59 L1712.5 621.40 L1713.0 621.23 L1713.5 621.07 L1714.0 620.92 L1714.5 620.79 L1715.0 620.67 L1715.5 620.56 L1716.0 620.47 L1716.5 620.39 L1717.0 620.33 L1717.5 620.27 L1718.0 620.23 L1718.5 620.20 L1719.0 620.18 L1719.5 620.17 L1720.0 620.18 L1720.5 620.20 L1721.0 620.22 L1721.5 620.26 L1722.0 620.31 L1722.5 620.37 L1723.0 620.43 L1723.5 620.51 L1724.0 620.60 L1724.5 620.70 L1725.0 620.80 L1725.5 620.92 L1726.0 621.04 L1726.5 621.17 L1727.0 621.31 L1727.5 621.46 L1728.0 621.62 L1728.5 621.78 L1729.0 621.96 L1729.5 622.13 L1730.0 622.32 L1730.5 622.51 L1731.0 622.71 L1731.5 622.92 L1732.0 623.13 L1732.5 623.34 L1733.0 623.57 L1733.5 623.80 L1734.0 624.03 L1734.5 624.27 L1735.0 624.51 L1735.5 624.76 L1736.0 625.01 L1736.5 625.27 L1737.0 625.53 L1737.5 625.79 L1738.0 626.06 L1738.5 626.33 L1739.0 626.60 L1739.5 626.88 L1740.0 627.15 L1740.5 627.43 L1741.0 627.72 L1741.5 628.00 L1742.0 628.29 L1742.5 628.58 L1743.0 628.87 L1743.5 629.16 L1744.0 629.45 L1744.5 629.74 L1745.0 630.03 L1745.5 630.32 L1746.0 630.61 L1746.5 630.91 L1747.0 631.20 L1747.5 631.49 L1748.0 631.78 L1748.5 632.07 L1749.0 632.35 L1749.5 632.64 L1750.0 632.92 L1750.5 633.20 L1751.0 633.48 L1751.5 633.76 L1752.0 634.03 L1752.5 634.30 L1753.0 634.57 L1753.5 634.84 L1754.0 635.10 L1754.5 635.35 L1755.0 635.61 L1755.5 635.85 L1756.0 636.10 L1756.5 636.34 L1757.0 636.57 L1757.5 636.80 L1758.0 637.03 L1758.5 637.24 L1759.0 637.46 L1759.5 637.66 L1760.0 637.86 L1760.5 638.06 L1761.0 638.24 L1761.5 638.42 L1762.0 638.60 L1762.5 638.76 L1763.0 638.92 L1763.5 639.07 L1764.0 639.21 L1764.5 639.35 L1765.0 639.47 L1765.5 639.59 L1766.0 639.70 L1766.5 639.81 L1767.0 639.90 L1767.5 639.99 L1768.0 640.07 L1768.5 640.14 L1769.0 640.21 L1769.5 640.27 L1770.0 640.32 L1770.5 640.37 L1771.0 640.41 L1771.5 640.45 L1772.0 640.47 L1772.5 640.50 L1773.0 640.51 L1773.5 640.53 L1774.0 640.53 L1774.5 640.53 L1775.0 640.53 L1775.5 640.52 L1776.0 640.51 L1776.5 640.49 L1777.0 640.47 L1777.5 640.44 L1778.0 640.41 L1778.5 640.37 L1779.0 640.33 L1779.5 640.29 L1780.0 640.24 L1780.5 640.19 L1781.0 640.14 L1781.5 640.08 L1782.0 640.03 L1782.5 639.96 L1783.0 639.90 L1783.5 639.83 L1784.0 639.76 L1784.5 639.69 L1785.0 639.62 L1785.5 639.54 L1786.0 639.47 L1786.5 639.39 L1787.0 639.31 L1787.5 639.23 L1788.0 639.14 L1788.5 639.06 L1789.0 638.98 L1789.5 638.89 L1790.0 638.81 L1790.5 638.72 L1791.0 638.64 L1791.5 638.55 L1792.0 638.46 L1792.5 638.38 L1793.0 638.29 L1793.5 638.21 L1794.0 638.13 L1794.5 638.04 L1795.0 637.96 L1795.5 637.88 L1796.0 637.80 L1796.5 637.72 L1797.0 637.65 L1797.5 637.57 L1798.0 637.50 L1798.5 637.42 L1799.0 637.35 L1799.5 637.28 L1800.0 637.22 L1800.5 637.15 L1801.0 637.09 L1801.5 637.03 L1802.0 636.96 L1802.5 636.91 L1803.0 636.85 L1803.5 636.79 L1804.0 636.74 L1804.5 636.69 L1805.0 636.64 L1805.5 636.60 L1806.0 636.55 L1806.5 636.51 L1807.0 636.47 L1807.5 636.43 L1808.0 636.39 L1808.5 636.36 L1809.0 636.33 L1809.5 636.30 L1810.0 636.28 L1810.5 636.25 L1811.0 636.23 L1811.5 636.21 L1812.0 636.20 L1812.5 636.18 L1813.0 636.17 L1813.5 636.16 L1814.0 636.16 L1814.5 636.16 L1815.0 636.16 L1815.5 636.16 L1816.0 636.17 L1816.5 636.18 L1817.0 636.19 L1817.5 636.20 L1818.0 636.22 L1818.5 636.24 L1819.0 636.27 L1819.5 636.30 L1820.0 636.33 L1820.5 636.36 L1821.0 636.40 L1821.5 636.44 L1822.0 636.48 L1822.5 636.53 L1823.0 636.58 L1823.5 636.64 L1824.0 636.70 L1824.5 636.76 L1825.0 636.82 L1825.5 636.89 L1826.0 636.96 L1826.5 637.03 L1827.0 637.10 L1827.5 637.18 L1828.0 637.26 L1828.5 637.34 L1829.0 637.43 L1829.5 637.51 L1830.0 637.60 L1830.5 637.69 L1831.0 637.78 L1831.5 637.88 L1832.0 637.97 L1832.5 638.07 L1833.0 638.16 L1833.5 638.26 L1834.0 638.36 L1834.5 638.46 L1835.0 638.57 L1835.5 638.67 L1836.0 638.77 L1836.5 638.87 L1837.0 638.98 L1837.5 639.08 L1838.0 639.19 L1838.5 639.29 L1839.0 639.40 L1839.5 639.50 L1840.0 639.61 L1840.5 639.71 L1841.0 639.82 L1841.5 639.92 L1842.0 640.02 L1842.5 640.12 L1843.0 640.23 L1843.5 640.33 L1844.0 640.43 L1844.5 640.52 L1845.0 640.62 L1845.5 640.72 L1846.0 640.81 L1846.5 640.91 L1847.0 641.00 L1847.5 641.09 L1848.0 641.17 L1848.5 641.26 L1849.0 641.34 L1849.5 641.43 L1850.0 641.51 L1850.5 641.58 L1851.0 641.66 L1851.5 641.73 L1852.0 641.80 L1852.5 641.87 L1853.0 641.93 L1853.5 641.99 L1854.0 642.05 L1854.5 642.10 L1855.0 642.15 L1855.5 642.20 L1856.0 642.25 L1856.5 642.29 L1857.0 642.32 L1857.5 642.36 L1858.0 642.39 L1858.5 642.42 L1859.0 642.44 L1859.5 642.47 L1860.0 642.48 L1860.5 642.50 L1861.0 642.51 L1861.5 642.53 L1862.0 642.53 L1862.5 642.54 L1863.0 642.54 L1863.5 642.54 L1864.0 642.54 L1864.5 642.53 L1865.0 642.53 L1865.5 642.52 L1866.0 642.51 L1866.5 642.49 L1867.0 642.48 L1867.5 642.46 L1868.0 642.44 L1868.5 642.42 L1869.0 642.39 L1869.5 642.37 L1870.0 642.34 L1870.5 642.31 L1871.0 642.28 L1871.5 642.25 L1872.0 642.22 L1872.5 642.18 L1873.0 642.14 L1873.5 642.11 L1874.0 642.07 L1874.5 642.03 L1875.0 641.98 L1875.5 641.94 L1876.0 641.90 L1876.5 641.85 L1877.0 641.81 L1877.5 641.76" fill="none" stroke="#000" stroke-width="6.2" stroke-linejoin="round" clip-path="url(#clipb)"/>
<rect x="1176.5" y="60.8" width="675.7" height="598.3" fill="none" stroke="#262626" stroke-width="6.3"/>
<clipPath id="xoneb0"><rect x="1124.84" y="675.50" width="103.31" height="46.06"/><rect x="1124.84" y="721.26" width="74.51" height="5.24"/><rect x="1209.32" y="721.26" width="5.62" height="5.24"/></clipPath>
<text x="1176.5" y="725.5" text-anchor="middle" class="tk" clip-path="url(#xoneb0)">23.1</text>
<text x="1345.4" y="725.5" text-anchor="middle" class="tk">23.2</text>
<text x="1514.3" y="725.5" text-anchor="middle" class="tk">23.3</text>
<text x="1683.3" y="725.5" text-anchor="middle" class="tk">23.4</text>
<text x="1852.2" y="725.5" text-anchor="middle" class="tk">23.5</text>
<text x="1156.7" y="663.6" text-anchor="end" class="tk">0</text>
<text x="1158.2" y="549.6" text-anchor="end" class="tk">0.2</text>
<text x="1158.2" y="435.6" text-anchor="end" class="tk">0.4</text>
<text x="1158.2" y="321.5" text-anchor="end" class="tk">0.6</text>
<text x="1158.2" y="207.5" text-anchor="end" class="tk">0.8</text>
<clipPath id="oneb"><rect x="1127.49" y="43.50" width="31.81" height="46.06"/><rect x="1141.47" y="89.26" width="5.62" height="5.24"/></clipPath>
<text x="1157.3" y="93.5" text-anchor="end" class="tk" clip-path="url(#oneb)">1</text>
<path d="M1176.5 662.5 V650.3 M1176.5 57.3 V71.4 M1345.4 662.5 V650.3 M1345.4 57.3 V71.4 M1514.3 662.5 V650.3 M1514.3 57.3 V71.4 M1683.3 662.5 V650.3 M1683.3 57.3 V71.4 M1852.2 662.5 V650.3 M1852.2 57.3 V71.4 M1173.1 645.0 H1186.8 M1855.6 645.0 H1841.9 M1173.1 531.0 H1186.8 M1855.6 531.0 H1841.9 M1173.1 417.0 H1186.8 M1855.6 417.0 H1841.9 M1173.1 302.9 H1186.8 M1855.6 302.9 H1841.9 M1173.1 188.9 H1186.8 M1855.6 188.9 H1841.9 M1173.1 74.9 H1186.8 M1855.6 74.9 H1841.9" stroke="#262626" stroke-width="6" fill="none"/>
<text x="1513.5" y="786.6" text-anchor="middle" class="lb">Kinetic Energy (eV)</text>
<text transform="translate(1066.0 359.9) rotate(-90)" text-anchor="middle" class="lb yl">Photoelectron signal (arb. u.)</text>
<text x="973.9" y="33.4" class="pl">b</text>
<path d="M641.3 1489.57 L641.8 1489.54 L642.3 1489.52 L642.8 1489.50 L643.3 1489.48 L643.8 1489.45 L644.3 1489.43 L644.8 1489.41 L645.3 1489.39 L645.8 1489.37 L646.3 1489.35 L646.8 1489.34 L647.3 1489.32 L647.8 1489.30 L648.3 1489.28 L648.8 1489.26 L649.3 1489.25 L649.8 1489.23 L650.3 1489.21 L650.8 1489.20 L651.3 1489.18 L651.8 1489.17 L652.3 1489.15 L652.8 1489.14 L653.3 1489.12 L653.8 1489.11 L654.3 1489.09 L654.8 1489.08 L655.3 1489.07 L655.8 1489.05 L656.3 1489.04 L656.8 1489.03 L657.3 1489.02 L657.8 1489.01 L658.3 1488.99 L658.8 1488.98 L659.3 1488.97 L659.8 1488.96 L660.3 1488.95 L660.8 1488.94 L661.3 1488.93 L661.8 1488.92 L662.3 1488.91 L662.8 1488.90 L663.3 1488.89 L663.8 1488.89 L664.3 1488.88 L664.8 1488.87 L665.3 1488.86 L665.8 1488.85 L666.3 1488.85 L666.8 1488.84 L667.3 1488.83 L667.8 1488.83 L668.3 1488.82 L668.8 1488.81 L669.3 1488.81 L669.8 1488.80 L670.3 1488.79 L670.8 1488.79 L671.3 1488.78 L671.8 1488.78 L672.3 1488.77 L672.8 1488.77 L673.3 1488.76 L673.8 1488.76 L674.3 1488.75 L674.8 1488.75 L675.3 1488.75 L675.8 1488.74 L676.3 1488.74 L676.8 1488.73 L677.3 1488.73 L677.8 1488.73 L678.3 1488.72 L678.8 1488.72 L679.3 1488.72 L679.8 1488.71 L680.3 1488.71 L680.8 1488.71 L681.3 1488.71 L681.8 1488.70 L682.3 1488.70 L682.8 1488.70 L683.3 1488.70 L683.8 1488.69 L684.3 1488.69 L684.8 1488.69 L685.3 1488.69 L685.8 1488.69 L686.3 1488.68 L686.8 1488.68 L687.3 1488.68 L687.8 1488.68 L688.3 1488.68 L688.8 1488.68 L689.3 1488.67 L689.8 1488.67 L690.3 1488.67 L690.8 1488.67 L691.3 1488.67 L691.8 1488.67 L692.3 1488.67 L692.8 1488.66 L693.3 1488.66 L693.8 1488.66 L694.3 1488.66 L694.8 1488.66 L695.3 1488.66 L695.8 1488.66 L696.3 1488.65 L696.8 1488.65 L697.3 1488.65 L697.8 1488.65 L698.3 1488.65 L698.8 1488.65 L699.3 1488.65 L699.8 1488.64 L700.3 1488.64 L700.8 1488.64 L701.3 1488.64 L701.8 1488.64 L702.3 1488.64 L702.8 1488.63 L703.3 1488.63 L703.8 1488.63 L704.3 1488.63 L704.8 1488.63 L705.3 1488.62 L705.8 1488.62 L706.3 1488.62 L706.8 1488.62 L707.3 1488.61 L707.8 1488.61 L708.3 1488.61 L708.8 1488.60 L709.3 1488.60 L709.8 1488.60 L710.3 1488.59 L710.8 1488.59 L711.3 1488.59 L711.8 1488.58 L712.3 1488.58 L712.8 1488.57 L713.3 1488.57 L713.8 1488.57 L714.3 1488.56 L714.8 1488.56 L715.3 1488.55 L715.8 1488.55 L716.3 1488.54 L716.8 1488.54 L717.3 1488.53 L717.8 1488.53 L718.3 1488.52 L718.8 1488.51 L719.3 1488.51 L719.8 1488.50 L720.3 1488.49 L720.8 1488.49 L721.3 1488.48 L721.8 1488.47 L722.3 1488.47 L722.8 1488.46 L723.3 1488.45 L723.8 1488.44 L724.3 1488.43 L724.8 1488.42 L725.3 1488.41 L725.8 1488.41 L726.3 1488.40 L726.8 1488.39 L727.3 1488.38 L727.8 1488.37 L728.3 1488.36 L728.8 1488.35 L729.3 1488.33 L729.8 1488.32 L730.3 1488.31 L730.8 1488.30 L731.3 1488.29 L731.8 1488.28 L732.3 1488.26 L732.8 1488.25 L733.3 1488.24 L733.8 1488.22 L734.3 1488.21 L734.8 1488.19 L735.3 1488.18 L735.8 1488.16 L736.3 1488.15 L736.8 1488.13 L737.3 1488.12 L737.8 1488.10 L738.3 1488.09 L738.8 1488.07 L739.3 1488.05 L739.8 1488.03 L740.3 1488.02 L740.8 1488.00 L741.3 1487.98 L741.8 1487.96 L742.3 1487.94 L742.8 1487.92 L743.3 1487.90 L743.8 1487.88 L744.3 1487.86 L744.8 1487.84 L745.3 1487.81 L745.8 1487.79 L746.3 1487.77 L746.8 1487.75 L747.3 1487.72 L747.8 1487.70 L748.3 1487.68 L748.8 1487.65 L749.3 1487.63 L749.8 1487.60 L750.3 1487.57 L750.8 1487.55 L751.3 1487.52 L751.8 1487.49 L752.3 1487.47 L752.8 1487.44 L753.3 1487.41 L753.8 1487.38 L754.3 1487.35 L754.8 1487.32 L755.3 1487.29 L755.8 1487.26 L756.3 1487.23 L756.8 1487.19 L757.3 1487.16 L757.8 1487.13 L758.3 1487.10 L758.8 1487.06 L759.3 1487.03 L759.8 1486.99 L760.3 1486.96 L760.8 1486.92 L761.3 1486.88 L761.8 1486.85 L762.3 1486.81 L762.8 1486.77 L763.3 1486.73 L763.8 1486.69 L764.3 1486.65 L764.8 1486.61 L765.3 1486.57 L765.8 1486.53 L766.3 1486.49 L766.8 1486.45 L767.3 1486.40 L767.8 1486.36 L768.3 1486.31 L768.8 1486.27 L769.3 1486.22 L769.8 1486.18 L770.3 1486.13 L770.8 1486.08 L771.3 1486.04 L771.8 1485.99 L772.3 1485.94 L772.8 1485.89 L773.3 1485.84 L773.8 1485.79 L774.3 1485.74 L774.8 1485.68 L775.3 1485.63 L775.8 1485.58 L776.3 1485.52 L776.8 1485.47 L777.3 1485.41 L777.8 1485.36 L778.3 1485.30 L778.8 1485.24 L779.3 1485.19 L779.8 1485.13 L780.3 1485.07 L780.8 1485.01 L781.3 1484.95 L781.8 1484.89 L782.3 1484.82 L782.8 1484.76 L783.3 1484.70 L783.8 1484.63 L784.3 1484.57 L784.8 1484.50 L785.3 1484.44 L785.8 1484.37 L786.3 1484.30 L786.8 1484.23 L787.3 1484.16 L787.8 1484.09 L788.3 1484.02 L788.8 1483.95 L789.3 1483.88 L789.8 1483.81 L790.3 1483.73 L790.8 1483.66 L791.3 1483.58 L791.8 1483.51 L792.3 1483.43 L792.8 1483.36 L793.3 1483.28 L793.8 1483.21 L794.3 1483.13 L794.8 1483.05 L795.3 1482.98 L795.8 1482.90 L796.3 1482.83 L796.8 1482.75 L797.3 1482.68 L797.8 1482.61 L798.3 1482.54 L798.8 1482.47 L799.3 1482.40 L799.8 1482.33 L800.3 1482.27 L800.8 1482.20 L801.3 1482.14 L801.8 1482.08" fill="none" stroke="#000" stroke-width="6.2" stroke-linejoin="round" stroke-dasharray="19.6 20.7" stroke-dashoffset="0.35" clip-path="url(#clipc)"/>
<path d="M801.8 1482.08 L802.3 1482.02 L802.8 1481.96 L803.3 1481.91 L803.8 1481.85 L804.3 1481.80 L804.8 1481.75 L805.3 1481.71 L805.8 1481.67 L806.3 1481.63 L806.8 1481.59 L807.3 1481.55 L807.8 1481.52 L808.3 1481.50 L808.8 1481.47 L809.3 1481.45 L809.8 1481.43 L810.3 1481.42 L810.8 1481.41 L811.3 1481.40 L811.8 1481.40 L812.3 1481.40 L812.8 1481.41 L813.3 1481.42 L813.8 1481.43 L814.3 1481.45 L814.8 1481.47 L815.3 1481.50 L815.8 1481.53 L816.3 1481.56 L816.8 1481.60 L817.3 1481.64 L817.8 1481.68 L818.3 1481.73 L818.8 1481.77 L819.3 1481.82 L819.8 1481.88 L820.3 1481.93 L820.8 1481.98 L821.3 1482.04 L821.8 1482.10 L822.3 1482.16 L822.8 1482.21 L823.3 1482.27 L823.8 1482.33 L824.3 1482.40 L824.8 1482.46 L825.3 1482.52 L825.8 1482.58 L826.3 1482.64 L826.8 1482.69 L827.3 1482.75 L827.8 1482.81 L828.3 1482.86 L828.8 1482.92 L829.3 1482.97 L829.8 1483.02 L830.3 1483.07 L830.8 1483.11 L831.3 1483.16 L831.8 1483.20 L832.3 1483.23 L832.8 1483.27 L833.3 1483.30 L833.8 1483.33 L834.3 1483.35 L834.8 1483.37 L835.3 1483.39 L835.8 1483.40 L836.3 1483.40 L836.8 1483.41 L837.3 1483.40 L837.8 1483.40 L838.3 1483.38 L838.8 1483.37 L839.3 1483.34 L839.8 1483.31 L840.3 1483.27 L840.8 1483.23 L841.3 1483.18 L841.8 1483.12 L842.3 1483.05 L842.8 1482.97 L843.3 1482.88 L843.8 1482.79 L844.3 1482.68 L844.8 1482.56 L845.3 1482.43 L845.8 1482.29 L846.3 1482.14 L846.8 1481.98 L847.3 1481.80 L847.8 1481.62 L848.3 1481.41 L848.8 1481.20 L849.3 1480.97 L849.8 1480.72 L850.3 1480.46 L850.8 1480.19 L851.3 1479.90 L851.8 1479.59 L852.3 1479.27 L852.8 1478.93 L853.3 1478.57 L853.8 1478.19 L854.3 1477.80 L854.8 1477.39 L855.3 1476.96 L855.8 1476.51 L856.3 1476.03 L856.8 1475.54 L857.3 1475.03 L857.8 1474.50 L858.3 1473.94 L858.8 1473.37 L859.3 1472.77 L859.8 1472.15 L860.3 1471.50 L860.8 1470.84 L861.3 1470.15 L861.8 1469.44 L862.3 1468.72 L862.8 1467.97 L863.3 1467.20 L863.8 1466.41 L864.3 1465.60 L864.8 1464.78 L865.3 1463.93 L865.8 1463.06 L866.3 1462.18 L866.8 1461.28 L867.3 1460.36 L867.8 1459.43 L868.3 1458.47 L868.8 1457.51 L869.3 1456.52 L869.8 1455.52 L870.3 1454.50 L870.8 1453.47 L871.3 1452.41 L871.8 1451.34 L872.3 1450.25 L872.8 1449.14 L873.3 1448.01 L873.8 1446.86 L874.3 1445.68 L874.8 1444.48 L875.3 1443.26 L875.8 1442.02 L876.3 1440.75 L876.8 1439.46 L877.3 1438.14 L877.8 1436.80 L878.3 1435.43 L878.8 1434.03 L879.3 1432.61 L879.8 1431.17 L880.3 1429.69 L880.8 1428.19 L881.3 1426.66 L881.8 1425.10 L882.3 1423.52 L882.8 1421.90 L883.3 1420.25 L883.8 1418.58 L884.3 1416.87 L884.8 1415.14 L885.3 1413.37 L885.8 1411.57 L886.3 1409.74 L886.8 1407.87 L887.3 1405.98 L887.8 1404.05 L888.3 1402.09 L888.8 1400.10 L889.3 1398.08 L889.8 1396.03 L890.3 1393.95 L890.8 1391.85 L891.3 1389.71 L891.8 1387.54 L892.3 1385.34 L892.8 1383.12 L893.3 1380.87 L893.8 1378.59 L894.3 1376.28 L894.8 1373.94 L895.3 1371.58 L895.8 1369.20 L896.3 1366.78 L896.8 1364.34 L897.3 1361.88 L897.8 1359.39 L898.3 1356.88 L898.8 1354.34 L899.3 1351.77 L899.8 1349.19 L900.3 1346.58 L900.8 1343.95 L901.3 1341.29 L901.8 1338.61 L902.3 1335.91 L902.8 1333.19 L903.3 1330.45 L903.8 1327.69 L904.3 1324.90 L904.8 1322.10 L905.3 1319.27 L905.8 1316.43 L906.3 1313.57 L906.8 1310.69 L907.3 1307.79 L907.8 1304.88 L908.3 1301.94 L908.8 1299.00 L909.3 1296.03 L909.8 1293.05 L910.3 1290.06 L910.8 1287.05 L911.3 1284.03 L911.8 1280.99 L912.3 1277.94 L912.8 1274.88 L913.3 1271.80 L913.8 1268.72 L914.3 1265.62 L914.8 1262.51 L915.3 1259.39 L915.8 1256.26 L916.3 1253.13 L916.8 1249.98 L917.3 1246.82 L917.8 1243.66 L918.3 1240.49 L918.8 1237.31 L919.3 1234.13 L919.8 1230.94 L920.3 1227.74 L920.8 1224.54 L921.3 1221.34 L921.8 1218.13 L922.3 1214.91 L922.8 1211.69 L923.3 1208.47 L923.8 1205.25 L924.3 1202.03 L924.8 1198.80 L925.3 1195.57 L925.8 1192.35 L926.3 1189.12 L926.8 1185.89 L927.3 1182.67 L927.8 1179.44 L928.3 1176.22 L928.8 1173.00 L929.3 1169.78 L929.8 1166.57 L930.3 1163.35 L930.8 1160.15 L931.3 1156.94 L931.8 1153.75 L932.3 1150.55 L932.8 1147.37 L933.3 1144.19 L933.8 1141.01 L934.3 1137.84 L934.8 1134.68 L935.3 1131.53 L935.8 1128.39 L936.3 1125.25 L936.8 1122.13 L937.3 1119.01 L937.8 1115.90 L938.3 1112.81 L938.8 1109.72 L939.3 1106.65 L939.8 1103.58 L940.3 1100.53 L940.8 1097.50 L941.3 1094.47 L941.8 1091.46 L942.3 1088.46 L942.8 1085.48 L943.3 1082.51 L943.8 1079.55 L944.3 1076.61 L944.8 1073.69 L945.3 1070.78 L945.8 1067.89 L946.3 1065.02 L946.8 1062.16 L947.3 1059.33 L947.8 1056.51 L948.3 1053.71 L948.8 1050.93 L949.3 1048.17 L949.8 1045.42 L950.3 1042.70 L950.8 1040.00 L951.3 1037.33 L951.8 1034.67 L952.3 1032.04 L952.8 1029.42 L953.3 1026.84 L953.8 1024.27 L954.3 1021.73 L954.8 1019.21 L955.3 1016.72 L955.8 1014.25 L956.3 1011.81 L956.8 1009.40 L957.3 1007.01 L957.8 1004.65 L958.3 1002.31 L958.8 1000.00 L959.3 997.73 L959.8 995.48 L960.3 993.26 L960.8 991.06 L961.3 988.90 L961.8 986.77 L962.3 984.67 L962.8 982.60 L963.3 980.56 L963.8 978.56 L964.3 976.58 L964.8 974.64 L965.3 972.73 L965.8 970.86 L966.3 969.02 L966.8 967.21 L967.3 965.43 L967.8 963.69 L968.3 961.98 L968.8 960.31 L969.3 958.67 L969.8 957.06 L970.3 955.48 L970.8 953.95 L971.3 952.44 L971.8 950.97 L972.3 949.53 L972.8 948.13 L973.3 946.76 L973.8 945.43 L974.3 944.13 L974.8 942.87 L975.3 941.64 L975.8 940.44 L976.3 939.29 L976.8 938.16 L977.3 937.07 L977.8 936.02 L978.3 935.00 L978.8 934.02 L979.3 933.08 L979.8 932.17 L980.3 931.29 L980.8 930.45 L981.3 929.65 L981.8 928.89 L982.3 928.16 L982.8 927.46 L983.3 926.81 L983.8 926.19 L984.3 925.60 L984.8 925.06 L985.3 924.55 L985.8 924.07 L986.3 923.64 L986.8 923.24 L987.3 922.88 L987.8 922.56 L988.3 922.27 L988.8 922.02 L989.3 921.81 L989.8 921.64 L990.3 921.50 L990.8 921.41 L991.3 921.35 L991.8 921.33 L992.3 921.34 L992.8 921.40 L993.3 921.49 L993.8 921.62 L994.3 921.79 L994.8 922.00 L995.3 922.25 L995.8 922.53 L996.3 922.85" fill="none" stroke="#000" stroke-width="6.2" stroke-linejoin="round" stroke-dasharray="19.43 20.52" stroke-dashoffset="0" clip-path="url(#clipc)"/>
<path d="M996.3 922.85 L996.8 923.20 L997.3 923.60 L997.8 924.03 L998.3 924.50 L998.8 925.00 L999.3 925.54 L999.8 926.12 L1000.3 926.73 L1000.8 927.38 L1001.3 928.06 L1001.8 928.78 L1002.3 929.54 L1002.8 930.33 L1003.3 931.16 L1003.8 932.02 L1004.3 932.92 L1004.8 933.86 L1005.3 934.82 L1005.8 935.83 L1006.3 936.87 L1006.8 937.94 L1007.3 939.04 L1007.8 940.19 L1008.3 941.36 L1008.8 942.57 L1009.3 943.81 L1009.8 945.09 L1010.3 946.40 L1010.8 947.74 L1011.3 949.12 L1011.8 950.53 L1012.3 951.98 L1012.8 953.45 L1013.3 954.96 L1013.8 956.50 L1014.3 958.08 L1014.8 959.68 L1015.3 961.32 L1015.8 963.00 L1016.3 964.70 L1016.8 966.43 L1017.3 968.20 L1017.8 970.00 L1018.3 971.83 L1018.8 973.69 L1019.3 975.59 L1019.8 977.51 L1020.3 979.47 L1020.8 981.45 L1021.3 983.47 L1021.8 985.52 L1022.3 987.59 L1022.8 989.70 L1023.3 991.84 L1023.8 994.01 L1024.3 996.21 L1024.8 998.44 L1025.3 1000.69 L1025.8 1002.98 L1026.3 1005.30 L1026.8 1007.64 L1027.3 1010.02 L1027.8 1012.42 L1028.3 1014.86 L1028.8 1017.32 L1029.3 1019.81 L1029.8 1022.33 L1030.3 1024.87 L1030.8 1027.44 L1031.3 1030.04 L1031.8 1032.66 L1032.3 1035.31 L1032.8 1037.99 L1033.3 1040.68 L1033.8 1043.40 L1034.3 1046.15 L1034.8 1048.91 L1035.3 1051.70 L1035.8 1054.51 L1036.3 1057.34 L1036.8 1060.19 L1037.3 1063.06 L1037.8 1065.95 L1038.3 1068.86 L1038.8 1071.79 L1039.3 1074.73 L1039.8 1077.69 L1040.3 1080.67 L1040.8 1083.67 L1041.3 1086.68 L1041.8 1089.71 L1042.3 1092.75 L1042.8 1095.80 L1043.3 1098.87 L1043.8 1101.95 L1044.3 1105.05 L1044.8 1108.16 L1045.3 1111.28 L1045.8 1114.41 L1046.3 1117.55 L1046.8 1120.70 L1047.3 1123.86 L1047.8 1127.03 L1048.3 1130.20 L1048.8 1133.39 L1049.3 1136.58 L1049.8 1139.78 L1050.3 1142.99 L1050.8 1146.20 L1051.3 1149.42 L1051.8 1152.65 L1052.3 1155.87 L1052.8 1159.10 L1053.3 1162.34 L1053.8 1165.58 L1054.3 1168.82 L1054.8 1172.06 L1055.3 1175.30 L1055.8 1178.55 L1056.3 1181.79 L1056.8 1185.04 L1057.3 1188.28 L1057.8 1191.52 L1058.3 1194.77 L1058.8 1198.01 L1059.3 1201.24 L1059.8 1204.48 L1060.3 1207.71 L1060.8 1210.94 L1061.3 1214.16 L1061.8 1217.39 L1062.3 1220.60 L1062.8 1223.81 L1063.3 1227.02 L1063.8 1230.22 L1064.3 1233.41 L1064.8 1236.59 L1065.3 1239.77 L1065.8 1242.94 L1066.3 1246.10 L1066.8 1249.26 L1067.3 1252.40 L1067.8 1255.53 L1068.3 1258.66 L1068.8 1261.77 L1069.3 1264.88 L1069.8 1267.97 L1070.3 1271.05 L1070.8 1274.12 L1071.3 1277.17 L1071.8 1280.22 L1072.3 1283.25 L1072.8 1286.26 L1073.3 1289.26 L1073.8 1292.25 L1074.3 1295.22 L1074.8 1298.18 L1075.3 1301.12 L1075.8 1304.04 L1076.3 1306.94 L1076.8 1309.83 L1077.3 1312.71 L1077.8 1315.56 L1078.3 1318.39 L1078.8 1321.21 L1079.3 1324.00 L1079.8 1326.78 L1080.3 1329.54 L1080.8 1332.27 L1081.3 1334.99 L1081.8 1337.68 L1082.3 1340.35 L1082.8 1343.00 L1083.3 1345.62 L1083.8 1348.22 L1084.3 1350.80 L1084.8 1353.35 L1085.3 1355.88 L1085.8 1358.38 L1086.3 1360.86 L1086.8 1363.32 L1087.3 1365.74 L1087.8 1368.14 L1088.3 1370.51 L1088.8 1372.86 L1089.3 1375.17 L1089.8 1377.46 L1090.3 1379.72 L1090.8 1381.95 L1091.3 1384.16 L1091.8 1386.34 L1092.3 1388.49 L1092.8 1390.61 L1093.3 1392.70 L1093.8 1394.77 L1094.3 1396.81 L1094.8 1398.82 L1095.3 1400.80 L1095.8 1402.76 L1096.3 1404.69 L1096.8 1406.59 L1097.3 1408.46 L1097.8 1410.31 L1098.3 1412.12 L1098.8 1413.91 L1099.3 1415.68 L1099.8 1417.41 L1100.3 1419.12 L1100.8 1420.80 L1101.3 1422.46 L1101.8 1424.08 L1102.3 1425.68 L1102.8 1427.25 L1103.3 1428.80 L1103.8 1430.32 L1104.3 1431.81 L1104.8 1433.27 L1105.3 1434.70 L1105.8 1436.11 L1106.3 1437.49 L1106.8 1438.85 L1107.3 1440.17 L1107.8 1441.47 L1108.3 1442.74 L1108.8 1443.99 L1109.3 1445.21 L1109.8 1446.40 L1110.3 1447.56 L1110.8 1448.70 L1111.3 1449.81 L1111.8 1450.90 L1112.3 1451.97 L1112.8 1453.02 L1113.3 1454.06 L1113.8 1455.08 L1114.3 1456.08 L1114.8 1457.07 L1115.3 1458.05 L1115.8 1459.01 L1116.3 1459.97 L1116.8 1460.90 L1117.3 1461.82 L1117.8 1462.73 L1118.3 1463.61 L1118.8 1464.48 L1119.3 1465.34 L1119.8 1466.17 L1120.3 1466.99 L1120.8 1467.78 L1121.3 1468.56 L1121.8 1469.31 L1122.3 1470.05 L1122.8 1470.76 L1123.3 1471.45 L1123.8 1472.11 L1124.3 1472.75 L1124.8 1473.37 L1125.3 1473.96 L1125.8 1474.53 L1126.3 1475.08 L1126.8 1475.60 L1127.3 1476.09 L1127.8 1476.57 L1128.3 1477.02 L1128.8 1477.45 L1129.3 1477.87 L1129.8 1478.26 L1130.3 1478.63 L1130.8 1478.98 L1131.3 1479.32 L1131.8 1479.63 L1132.3 1479.93 L1132.8 1480.21 L1133.3 1480.48 L1133.8 1480.73 L1134.3 1480.96 L1134.8 1481.18 L1135.3 1481.38 L1135.8 1481.57 L1136.3 1481.75 L1136.8 1481.92 L1137.3 1482.07 L1137.8 1482.21 L1138.3 1482.34 L1138.8 1482.46 L1139.3 1482.57 L1139.8 1482.68 L1140.3 1482.77 L1140.8 1482.85 L1141.3 1482.93 L1141.8 1483.00 L1142.3 1483.06 L1142.8 1483.11 L1143.3 1483.16 L1143.8 1483.21 L1144.3 1483.25 L1144.8 1483.28 L1145.3 1483.31 L1145.8 1483.33 L1146.3 1483.35 L1146.8 1483.37 L1147.3 1483.38 L1147.8 1483.38 L1148.3 1483.38 L1148.8 1483.37 L1149.3 1483.36 L1149.8 1483.35 L1150.3 1483.33 L1150.8 1483.31 L1151.3 1483.28 L1151.8 1483.25 L1152.3 1483.22 L1152.8 1483.18 L1153.3 1483.14 L1153.8 1483.10 L1154.3 1483.05 L1154.8 1483.00" fill="none" stroke="#000" stroke-width="6.2" stroke-linejoin="round" stroke-dasharray="19.53 20.63" stroke-dashoffset="0" clip-path="url(#clipc)"/>
<path d="M1154.8 1483.00 L1155.3 1482.95 L1155.8 1482.90 L1156.3 1482.85 L1156.8 1482.79 L1157.3 1482.73 L1157.8 1482.68 L1158.3 1482.62 L1158.8 1482.56 L1159.3 1482.50 L1159.8 1482.44 L1160.3 1482.38 L1160.8 1482.31 L1161.3 1482.25 L1161.8 1482.19 L1162.3 1482.14 L1162.8 1482.08 L1163.3 1482.02 L1163.8 1481.96 L1164.3 1481.91 L1164.8 1481.86 L1165.3 1481.81 L1165.8 1481.76 L1166.3 1481.71 L1166.8 1481.67 L1167.3 1481.63 L1167.8 1481.59 L1168.3 1481.56 L1168.8 1481.53 L1169.3 1481.50 L1169.8 1481.48 L1170.3 1481.46 L1170.8 1481.44 L1171.3 1481.43 L1171.8 1481.42 L1172.3 1481.42 L1172.8 1481.42 L1173.3 1481.43 L1173.8 1481.44 L1174.3 1481.45 L1174.8 1481.47 L1175.3 1481.49 L1175.8 1481.51 L1176.3 1481.54 L1176.8 1481.57 L1177.3 1481.60 L1177.8 1481.64 L1178.3 1481.68 L1178.8 1481.72 L1179.3 1481.76 L1179.8 1481.81 L1180.3 1481.86 L1180.8 1481.91 L1181.3 1481.96 L1181.8 1482.01 L1182.3 1482.07 L1182.8 1482.13 L1183.3 1482.19 L1183.8 1482.25 L1184.3 1482.31 L1184.8 1482.37 L1185.3 1482.43 L1185.8 1482.50 L1186.3 1482.57 L1186.8 1482.63 L1187.3 1482.70 L1187.8 1482.77 L1188.3 1482.84 L1188.8 1482.90 L1189.3 1482.97 L1189.8 1483.04 L1190.3 1483.11 L1190.8 1483.18 L1191.3 1483.25 L1191.8 1483.33 L1192.3 1483.40 L1192.8 1483.47 L1193.3 1483.54 L1193.8 1483.61 L1194.3 1483.69 L1194.8 1483.76 L1195.3 1483.83 L1195.8 1483.91 L1196.3 1483.98 L1196.8 1484.05 L1197.3 1484.13 L1197.8 1484.20 L1198.3 1484.27 L1198.8 1484.35 L1199.3 1484.42 L1199.8 1484.49 L1200.3 1484.56 L1200.8 1484.64 L1201.3 1484.71 L1201.8 1484.78 L1202.3 1484.85 L1202.8 1484.93 L1203.3 1485.00 L1203.8 1485.07 L1204.3 1485.14 L1204.8 1485.21 L1205.3 1485.28 L1205.8 1485.35 L1206.3 1485.42 L1206.8 1485.49 L1207.3 1485.56 L1207.8 1485.63 L1208.3 1485.69 L1208.8 1485.76 L1209.3 1485.83 L1209.8 1485.89 L1210.3 1485.96 L1210.8 1486.02 L1211.3 1486.08 L1211.8 1486.15 L1212.3 1486.21 L1212.8 1486.27 L1213.3 1486.33 L1213.8 1486.39 L1214.3 1486.45 L1214.8 1486.50 L1215.3 1486.56 L1215.8 1486.62 L1216.3 1486.67 L1216.8 1486.72 L1217.3 1486.78 L1217.8 1486.83 L1218.3 1486.88 L1218.8 1486.93 L1219.3 1486.97 L1219.8 1487.02 L1220.3 1487.07 L1220.8 1487.11 L1221.3 1487.15 L1221.8 1487.20 L1222.3 1487.24 L1222.8 1487.28 L1223.3 1487.31 L1223.8 1487.35 L1224.3 1487.39 L1224.8 1487.42 L1225.3 1487.46 L1225.8 1487.49 L1226.3 1487.53 L1226.8 1487.56 L1227.3 1487.59 L1227.8 1487.62 L1228.3 1487.65 L1228.8 1487.67 L1229.3 1487.70 L1229.8 1487.73 L1230.3 1487.75 L1230.8 1487.78 L1231.3 1487.80 L1231.8 1487.82 L1232.3 1487.85 L1232.8 1487.87 L1233.3 1487.89 L1233.8 1487.91 L1234.3 1487.92 L1234.8 1487.94 L1235.3 1487.96 L1235.8 1487.98 L1236.3 1487.99 L1236.8 1488.01 L1237.3 1488.02 L1237.8 1488.04 L1238.3 1488.05 L1238.8 1488.06 L1239.3 1488.07 L1239.8 1488.08 L1240.3 1488.09 L1240.8 1488.10 L1241.3 1488.11 L1241.8 1488.12 L1242.3 1488.13 L1242.8 1488.14 L1243.3 1488.15 L1243.8 1488.15 L1244.3 1488.16 L1244.8 1488.17 L1245.3 1488.17 L1245.8 1488.18 L1246.3 1488.18 L1246.8 1488.18 L1247.3 1488.19 L1247.8 1488.19 L1248.3 1488.19 L1248.8 1488.20 L1249.3 1488.20 L1249.8 1488.20 L1250.3 1488.20 L1250.8 1488.20 L1251.3 1488.20 L1251.8 1488.20 L1252.3 1488.21 L1252.8 1488.21 L1253.3 1488.21 L1253.8 1488.20 L1254.3 1488.20 L1254.8 1488.20 L1255.3 1488.20 L1255.8 1488.20 L1256.3 1488.20 L1256.8 1488.20 L1257.3 1488.20 L1257.8 1488.20 L1258.3 1488.19 L1258.8 1488.19 L1259.3 1488.19 L1259.8 1488.19 L1260.3 1488.19 L1260.8 1488.18 L1261.3 1488.18 L1261.8 1488.18 L1262.3 1488.18 L1262.8 1488.18 L1263.3 1488.17 L1263.8 1488.17 L1264.3 1488.17 L1264.8 1488.17 L1265.3 1488.17 L1265.8 1488.16 L1266.3 1488.16 L1266.8 1488.16 L1267.3 1488.16 L1267.8 1488.16 L1268.3 1488.16 L1268.8 1488.16 L1269.3 1488.16 L1269.8 1488.16 L1270.3 1488.16 L1270.8 1488.16 L1271.3 1488.16 L1271.8 1488.16 L1272.3 1488.16 L1272.8 1488.16 L1273.3 1488.16 L1273.8 1488.16 L1274.3 1488.17 L1274.8 1488.17 L1275.3 1488.17 L1275.8 1488.18 L1276.3 1488.18 L1276.8 1488.18 L1277.3 1488.19 L1277.8 1488.19 L1278.3 1488.20 L1278.8 1488.21 L1279.3 1488.21 L1279.8 1488.22 L1280.3 1488.23 L1280.8 1488.24 L1281.3 1488.24 L1281.8 1488.25 L1282.3 1488.26 L1282.8 1488.27 L1283.3 1488.28 L1283.8 1488.30 L1284.3 1488.31 L1284.8 1488.32 L1285.3 1488.33 L1285.8 1488.35 L1286.3 1488.36 L1286.8 1488.38 L1287.3 1488.39 L1287.8 1488.41 L1288.3 1488.42 L1288.8 1488.44 L1289.3 1488.46 L1289.8 1488.48 L1290.3 1488.50 L1290.8 1488.51 L1291.3 1488.53 L1291.8 1488.55 L1292.3 1488.57 L1292.8 1488.59 L1293.3 1488.61 L1293.8 1488.63 L1294.3 1488.65 L1294.8 1488.68 L1295.3 1488.70 L1295.8 1488.72 L1296.3 1488.74 L1296.8 1488.76 L1297.3 1488.79 L1297.8 1488.81 L1298.3 1488.83 L1298.8 1488.85 L1299.3 1488.88 L1299.8 1488.90 L1300.3 1488.92 L1300.8 1488.95 L1301.3 1488.97 L1301.8 1488.99 L1302.3 1489.02 L1302.8 1489.04 L1303.3 1489.06 L1303.8 1489.09 L1304.3 1489.11 L1304.8 1489.13 L1305.3 1489.16 L1305.8 1489.18 L1306.3 1489.20 L1306.8 1489.23 L1307.3 1489.25 L1307.8 1489.27 L1308.3 1489.29 L1308.8 1489.32 L1309.3 1489.34 L1309.8 1489.36 L1310.3 1489.38 L1310.8 1489.40 L1311.3 1489.42 L1311.8 1489.45 L1312.3 1489.47 L1312.8 1489.49 L1313.3 1489.51 L1313.8 1489.53 L1314.3 1489.54 L1314.8 1489.56 L1315.3 1489.58 L1315.8 1489.60 L1316.3 1489.62 L1316.8 1489.63 L1317.3 1489.65 L1317.8 1489.67 L1318.3 1489.68 L1318.8 1489.70 L1319.3 1489.71 L1319.8 1489.73 L1320.3 1489.74 L1320.8 1489.75 L1321.3 1489.76 L1321.8 1489.77 L1322.3 1489.79 L1322.8 1489.80 L1323.3 1489.81 L1323.8 1489.81 L1324.3 1489.82 L1324.8 1489.83 L1325.3 1489.84 L1325.8 1489.84 L1326.3 1489.85 L1326.8 1489.85 L1327.3 1489.86 L1327.8 1489.86 L1328.3 1489.86 L1328.8 1489.86 L1329.3 1489.86 L1329.8 1489.86 L1330.3 1489.86 L1330.8 1489.86 L1331.3 1489.85 L1331.8 1489.85 L1332.3 1489.84 L1332.8 1489.84 L1333.3 1489.83 L1333.8 1489.82 L1334.3 1489.81 L1334.8 1489.80 L1335.3 1489.79 L1335.8 1489.78 L1336.3 1489.76 L1336.8 1489.75 L1337.3 1489.73 L1337.8 1489.72 L1338.3 1489.70 L1338.8 1489.68 L1339.3 1489.66 L1339.8 1489.64 L1340.3 1489.61 L1340.8 1489.59 L1341.3 1489.56 L1341.8 1489.54 L1342.3 1489.51" fill="none" stroke="#000" stroke-width="6.2" stroke-linejoin="round" stroke-dasharray="19.6 20.7" stroke-dashoffset="0" clip-path="url(#clipc)"/>
<path d="M641.3 1487.19 L641.8 1487.32 L642.3 1487.44 L642.8 1487.55 L643.3 1487.66 L643.8 1487.76 L644.3 1487.86 L644.8 1487.95 L645.3 1488.03 L645.8 1488.11 L646.3 1488.19 L646.8 1488.26 L647.3 1488.32 L647.8 1488.38 L648.3 1488.43 L648.8 1488.48 L649.3 1488.52 L649.8 1488.56 L650.3 1488.59 L650.8 1488.62 L651.3 1488.64 L651.8 1488.66 L652.3 1488.68 L652.8 1488.69 L653.3 1488.69 L653.8 1488.69 L654.3 1488.69 L654.8 1488.68 L655.3 1488.67 L655.8 1488.66 L656.3 1488.64 L656.8 1488.62 L657.3 1488.59 L657.8 1488.56 L658.3 1488.53 L658.8 1488.49 L659.3 1488.45 L659.8 1488.40 L660.3 1488.36 L660.8 1488.31 L661.3 1488.26 L661.8 1488.20 L662.3 1488.14 L662.8 1488.08 L663.3 1488.02 L663.8 1487.95 L664.3 1487.88 L664.8 1487.81 L665.3 1487.73 L665.8 1487.66 L666.3 1487.58 L666.8 1487.50 L667.3 1487.42 L667.8 1487.33 L668.3 1487.25 L668.8 1487.16 L669.3 1487.07 L669.8 1486.98 L670.3 1486.88 L670.8 1486.79 L671.3 1486.69 L671.8 1486.60 L672.3 1486.50 L672.8 1486.40 L673.3 1486.30 L673.8 1486.20 L674.3 1486.10 L674.8 1485.99 L675.3 1485.89 L675.8 1485.79 L676.3 1485.68 L676.8 1485.58 L677.3 1485.47 L677.8 1485.37 L678.3 1485.26 L678.8 1485.16 L679.3 1485.05 L679.8 1484.94 L680.3 1484.84 L680.8 1484.73 L681.3 1484.63 L681.8 1484.52 L682.3 1484.42 L682.8 1484.32 L683.3 1484.22 L683.8 1484.11 L684.3 1484.01 L684.8 1483.91 L685.3 1483.81 L685.8 1483.71 L686.3 1483.62 L686.8 1483.52 L687.3 1483.43 L687.8 1483.33 L688.3 1483.24 L688.8 1483.15 L689.3 1483.07 L689.8 1482.98 L690.3 1482.89 L690.8 1482.81 L691.3 1482.73 L691.8 1482.65 L692.3 1482.58 L692.8 1482.50 L693.3 1482.43 L693.8 1482.36 L694.3 1482.29 L694.8 1482.23 L695.3 1482.17 L695.8 1482.11 L696.3 1482.05 L696.8 1482.00 L697.3 1481.95 L697.8 1481.90 L698.3 1481.86 L698.8 1481.82 L699.3 1481.78 L699.8 1481.75 L700.3 1481.72 L700.8 1481.69 L701.3 1481.67 L701.8 1481.65 L702.3 1481.64 L702.8 1481.62 L703.3 1481.62 L703.8 1481.61 L704.3 1481.61 L704.8 1481.62 L705.3 1481.63 L705.8 1481.64 L706.3 1481.66 L706.8 1481.68 L707.3 1481.70 L707.8 1481.73 L708.3 1481.76 L708.8 1481.80 L709.3 1481.84 L709.8 1481.88 L710.3 1481.92 L710.8 1481.97 L711.3 1482.02 L711.8 1482.07 L712.3 1482.13 L712.8 1482.19 L713.3 1482.25 L713.8 1482.31 L714.3 1482.37 L714.8 1482.44 L715.3 1482.51 L715.8 1482.58 L716.3 1482.65 L716.8 1482.72 L717.3 1482.80 L717.8 1482.87 L718.3 1482.95 L718.8 1483.03 L719.3 1483.11 L719.8 1483.19 L720.3 1483.27 L720.8 1483.36 L721.3 1483.44 L721.8 1483.52 L722.3 1483.61 L722.8 1483.69 L723.3 1483.78 L723.8 1483.86 L724.3 1483.95 L724.8 1484.03 L725.3 1484.12 L725.8 1484.20 L726.3 1484.28 L726.8 1484.37 L727.3 1484.45 L727.8 1484.53 L728.3 1484.61 L728.8 1484.69 L729.3 1484.77 L729.8 1484.85 L730.3 1484.93 L730.8 1485.00 L731.3 1485.08 L731.8 1485.15 L732.3 1485.22 L732.8 1485.29 L733.3 1485.35 L733.8 1485.42 L734.3 1485.48 L734.8 1485.54 L735.3 1485.60 L735.8 1485.65 L736.3 1485.71 L736.8 1485.76 L737.3 1485.80 L737.8 1485.85 L738.3 1485.89 L738.8 1485.93 L739.3 1485.96 L739.8 1485.99 L740.3 1486.02 L740.8 1486.05 L741.3 1486.07 L741.8 1486.09 L742.3 1486.10 L742.8 1486.11 L743.3 1486.11 L743.8 1486.12 L744.3 1486.11 L744.8 1486.11 L745.3 1486.09 L745.8 1486.08 L746.3 1486.06 L746.8 1486.03 L747.3 1486.00 L747.8 1485.96 L748.3 1485.92 L748.8 1485.88 L749.3 1485.82 L749.8 1485.77 L750.3 1485.70 L750.8 1485.64 L751.3 1485.56 L751.8 1485.48 L752.3 1485.39 L752.8 1485.30 L753.3 1485.20 L753.8 1485.10 L754.3 1484.99 L754.8 1484.87 L755.3 1484.74 L755.8 1484.61 L756.3 1484.48 L756.8 1484.33 L757.3 1484.18 L757.8 1484.02 L758.3 1483.85 L758.8 1483.68 L759.3 1483.50 L759.8 1483.31 L760.3 1483.11 L760.8 1482.90 L761.3 1482.69 L761.8 1482.47 L762.3 1482.24 L762.8 1482.01 L763.3 1481.77 L763.8 1481.52 L764.3 1481.26 L764.8 1481.00 L765.3 1480.73 L765.8 1480.46 L766.3 1480.18 L766.8 1479.90 L767.3 1479.61 L767.8 1479.32 L768.3 1479.03 L768.8 1478.73 L769.3 1478.42 L769.8 1478.12 L770.3 1477.81 L770.8 1477.50 L771.3 1477.18 L771.8 1476.87 L772.3 1476.55 L772.8 1476.23 L773.3 1475.91 L773.8 1475.59 L774.3 1475.27 L774.8 1474.95 L775.3 1474.63 L775.8 1474.31 L776.3 1473.98 L776.8 1473.66 L777.3 1473.35 L777.8 1473.03 L778.3 1472.71 L778.8 1472.40 L779.3 1472.09 L779.8 1471.78 L780.3 1471.48 L780.8 1471.17 L781.3 1470.88 L781.8 1470.58 L782.3 1470.29 L782.8 1470.00 L783.3 1469.72 L783.8 1469.45 L784.3 1469.17 L784.8 1468.91 L785.3 1468.65 L785.8 1468.40 L786.3 1468.15 L786.8 1467.91 L787.3 1467.67 L787.8 1467.45 L788.3 1467.23 L788.8 1467.02 L789.3 1466.81 L789.8 1466.62 L790.3 1466.43 L790.8 1466.26 L791.3 1466.09 L791.8 1465.93 L792.3 1465.79 L792.8 1465.65 L793.3 1465.52 L793.8 1465.41 L794.3 1465.30 L794.8 1465.21 L795.3 1465.12 L795.8 1465.05 L796.3 1465.00 L796.8 1464.95 L797.3 1464.92 L797.8 1464.90 L798.3 1464.89 L798.8 1464.90 L799.3 1464.92 L799.8 1464.95 L800.3 1465.00 L800.8 1465.05 L801.3 1465.12 L801.8 1465.20 L802.3 1465.30 L802.8 1465.40 L803.3 1465.51 L803.8 1465.64 L804.3 1465.77 L804.8 1465.92 L805.3 1466.07 L805.8 1466.24 L806.3 1466.41 L806.8 1466.60 L807.3 1466.79 L807.8 1466.99 L808.3 1467.20 L808.8 1467.41 L809.3 1467.64 L809.8 1467.87 L810.3 1468.11 L810.8 1468.36 L811.3 1468.61 L811.8 1468.87 L812.3 1469.14 L812.8 1469.41 L813.3 1469.69 L813.8 1469.98 L814.3 1470.27 L814.8 1470.56 L815.3 1470.86 L815.8 1471.17 L816.3 1471.47 L816.8 1471.79 L817.3 1472.10 L817.8 1472.42 L818.3 1472.75 L818.8 1473.07 L819.3 1473.40 L819.8 1473.74 L820.3 1474.07 L820.8 1474.41 L821.3 1474.74 L821.8 1475.08 L822.3 1475.43 L822.8 1475.77 L823.3 1476.11 L823.8 1476.46 L824.3 1476.80 L824.8 1477.14 L825.3 1477.48 L825.8 1477.81 L826.3 1478.14 L826.8 1478.46 L827.3 1478.78 L827.8 1479.08 L828.3 1479.38 L828.8 1479.66 L829.3 1479.93 L829.8 1480.19 L830.3 1480.43 L830.8 1480.66 L831.3 1480.86 L831.8 1481.05 L832.3 1481.22 L832.8 1481.37 L833.3 1481.49 L833.8 1481.59 L834.3 1481.67 L834.8 1481.71 L835.3 1481.73 L835.8 1481.73 L836.3 1481.69 L836.8 1481.62 L837.3 1481.52 L837.8 1481.38 L838.3 1481.21 L838.8 1481.01 L839.3 1480.76 L839.8 1480.48 L840.3 1480.16 L840.8 1479.79 L841.3 1479.39 L841.8 1478.94 L842.3 1478.45 L842.8 1477.91 L843.3 1477.32 L843.8 1476.69 L844.3 1476.00 L844.8 1475.27 L845.3 1474.48 L845.8 1473.64 L846.3 1472.75 L846.8 1471.80 L847.3 1470.79 L847.8 1469.73 L848.3 1468.60 L848.8 1467.42 L849.3 1466.18 L849.8 1464.87 L850.3 1463.50 L850.8 1462.06 L851.3 1460.56 L851.8 1458.99 L852.3 1457.35 L852.8 1455.64 L853.3 1453.86 L853.8 1452.00 L854.3 1450.08 L854.8 1448.09 L855.3 1446.02 L855.8 1443.89 L856.3 1441.69 L856.8 1439.41 L857.3 1437.07 L857.8 1434.66 L858.3 1432.19 L858.8 1429.65 L859.3 1427.04 L859.8 1424.36 L860.3 1421.62 L860.8 1418.82 L861.3 1415.95 L861.8 1413.02 L862.3 1410.02 L862.8 1406.96 L863.3 1403.84 L863.8 1400.66 L864.3 1397.41 L864.8 1394.10 L865.3 1390.74 L865.8 1387.31 L866.3 1383.83 L866.8 1380.28 L867.3 1376.68 L867.8 1373.02 L868.3 1369.30 L868.8 1365.52 L869.3 1361.69 L869.8 1357.80 L870.3 1353.86 L870.8 1349.86 L871.3 1345.81 L871.8 1341.70 L872.3 1337.54 L872.8 1333.32 L873.3 1329.06 L873.8 1324.74 L874.3 1320.37 L874.8 1315.95 L875.3 1311.48 L875.8 1306.95 L876.3 1302.38 L876.8 1297.76 L877.3 1293.09 L877.8 1288.38 L878.3 1283.62 L878.8 1278.81 L879.3 1273.97 L879.8 1269.09 L880.3 1264.17 L880.8 1259.22 L881.3 1254.24 L881.8 1249.23 L882.3 1244.19 L882.8 1239.12 L883.3 1234.03 L883.8 1228.91 L884.3 1223.78 L884.8 1218.63 L885.3 1213.46 L885.8 1208.28 L886.3 1203.08 L886.8 1197.88 L887.3 1192.67 L887.8 1187.45 L888.3 1182.23 L888.8 1177.00 L889.3 1171.78 L889.8 1166.56 L890.3 1161.34 L890.8 1156.13 L891.3 1150.93 L891.8 1145.74 L892.3 1140.56 L892.8 1135.39 L893.3 1130.24 L893.8 1125.11 L894.3 1120.00 L894.8 1114.91 L895.3 1109.85 L895.8 1104.81 L896.3 1099.80 L896.8 1094.83 L897.3 1089.88 L897.8 1084.97 L898.3 1080.09 L898.8 1075.26 L899.3 1070.46 L899.8 1065.70 L900.3 1060.99 L900.8 1056.32 L901.3 1051.70 L901.8 1047.13 L902.3 1042.61 L902.8 1038.14 L903.3 1033.73 L903.8 1029.37 L904.3 1025.07 L904.8 1020.83 L905.3 1016.66 L905.8 1012.55 L906.3 1008.50 L906.8 1004.52 L907.3 1000.61 L907.8 996.77 L908.3 993.01 L908.8 989.32 L909.3 985.71 L909.8 982.17 L910.3 978.72 L910.8 975.35 L911.3 972.06 L911.8 968.86 L912.3 965.75 L912.8 962.73 L913.3 959.80 L913.8 956.96 L914.3 954.22 L914.8 951.57 L915.3 949.03 L915.8 946.58 L916.3 944.24 L916.8 942.01 L917.3 939.87 L917.8 937.85 L918.3 935.93 L918.8 934.12 L919.3 932.43 L919.8 930.84 L920.3 929.38 L920.8 928.02 L921.3 926.79 L921.8 925.67 L922.3 924.67 L922.8 923.80 L923.3 923.05 L923.8 922.42 L924.3 921.92 L924.8 921.54 L925.3 921.30 L925.8 921.19 L926.3 921.21 L926.8 921.36 L927.3 921.65 L927.8 922.07 L928.3 922.63 L928.8 923.34 L929.3 924.18 L929.8 925.16 L930.3 926.28 L930.8 927.53 L931.3 928.92 L931.8 930.44 L932.3 932.09 L932.8 933.86 L933.3 935.76 L933.8 937.78 L934.3 939.93 L934.8 942.19 L935.3 944.56 L935.8 947.05 L936.3 949.65 L936.8 952.36 L937.3 955.18 L937.8 958.11 L938.3 961.13 L938.8 964.26 L939.3 967.49 L939.8 970.81 L940.3 974.23 L940.8 977.74 L941.3 981.34 L941.8 985.03 L942.3 988.81 L942.8 992.67 L943.3 996.61 L943.8 1000.63 L944.3 1004.73 L944.8 1008.90 L945.3 1013.15 L945.8 1017.47 L946.3 1021.86 L946.8 1026.31 L947.3 1030.83 L947.8 1035.41 L948.3 1040.06 L948.8 1044.76 L949.3 1049.51 L949.8 1054.32 L950.3 1059.19 L950.8 1064.10 L951.3 1069.06 L951.8 1074.07 L952.3 1079.12 L952.8 1084.21 L953.3 1089.34 L953.8 1094.50 L954.3 1099.70 L954.8 1104.94 L955.3 1110.20 L955.8 1115.49 L956.3 1120.81 L956.8 1126.16 L957.3 1131.52 L957.8 1136.91 L958.3 1142.31 L958.8 1147.73 L959.3 1153.16 L959.8 1158.60 L960.3 1164.06 L960.8 1169.52 L961.3 1174.98 L961.8 1180.45 L962.3 1185.91 L962.8 1191.38 L963.3 1196.84 L963.8 1202.30 L964.3 1207.75 L964.8 1213.19 L965.3 1218.62 L965.8 1224.03 L966.3 1229.42 L966.8 1234.80 L967.3 1240.16 L967.8 1245.49 L968.3 1250.80 L968.8 1256.08 L969.3 1261.32 L969.8 1266.53 L970.3 1271.68 L970.8 1276.78 L971.3 1281.81 L971.8 1286.78 L972.3 1291.67 L972.8 1296.48 L973.3 1301.20 L973.8 1305.82 L974.3 1310.34 L974.8 1314.76 L975.3 1319.06 L975.8 1323.23 L976.3 1327.28 L976.8 1331.21 L977.3 1335.01 L977.8 1338.69 L978.3 1342.25 L978.8 1345.69 L979.3 1349.00 L979.8 1352.20 L980.3 1355.27 L980.8 1358.23 L981.3 1361.07 L981.8 1363.80 L982.3 1366.40 L982.8 1368.90 L983.3 1371.28 L983.8 1373.54 L984.3 1375.70 L984.8 1377.74 L985.3 1379.67 L985.8 1381.48 L986.3 1383.16 L986.8 1384.72 L987.3 1386.15 L987.8 1387.45 L988.3 1388.62 L988.8 1389.64 L989.3 1390.52 L989.8 1391.26 L990.3 1391.85 L990.8 1392.28 L991.3 1392.56 L991.8 1392.67 L992.3 1392.63 L992.8 1392.42 L993.3 1392.05 L993.8 1391.52 L994.3 1390.84 L994.8 1390.01 L995.3 1389.03 L995.8 1387.90 L996.3 1386.62 L996.8 1385.20 L997.3 1383.64 L997.8 1381.95 L998.3 1380.12 L998.8 1378.15 L999.3 1376.06 L999.8 1373.83 L1000.3 1371.48 L1000.8 1369.01 L1001.3 1366.42 L1001.8 1363.70 L1002.3 1360.88 L1002.8 1357.94 L1003.3 1354.88 L1003.8 1351.72 L1004.3 1348.46 L1004.8 1345.08 L1005.3 1341.61 L1005.8 1338.04 L1006.3 1334.37 L1006.8 1330.61 L1007.3 1326.76 L1007.8 1322.82 L1008.3 1318.79 L1008.8 1314.67 L1009.3 1310.48 L1009.8 1306.20 L1010.3 1301.85 L1010.8 1297.42 L1011.3 1292.93 L1011.8 1288.36 L1012.3 1283.72 L1012.8 1279.02 L1013.3 1274.26 L1013.8 1269.44 L1014.3 1264.56 L1014.8 1259.62 L1015.3 1254.63 L1015.8 1249.60 L1016.3 1244.51 L1016.8 1239.38 L1017.3 1234.20 L1017.8 1228.99 L1018.3 1223.74 L1018.8 1218.45 L1019.3 1213.13 L1019.8 1207.78 L1020.3 1202.39 L1020.8 1196.99 L1021.3 1191.56 L1021.8 1186.11 L1022.3 1180.65 L1022.8 1175.17 L1023.3 1169.68 L1023.8 1164.18 L1024.3 1158.67 L1024.8 1153.17 L1025.3 1147.66 L1025.8 1142.16 L1026.3 1136.66 L1026.8 1131.17 L1027.3 1125.70 L1027.8 1120.24 L1028.3 1114.80 L1028.8 1109.38 L1029.3 1103.98 L1029.8 1098.61 L1030.3 1093.27 L1030.8 1087.97 L1031.3 1082.70 L1031.8 1077.46 L1032.3 1072.27 L1032.8 1067.12 L1033.3 1062.02 L1033.8 1056.97 L1034.3 1051.98 L1034.8 1047.04 L1035.3 1042.15 L1035.8 1037.33 L1036.3 1032.58 L1036.8 1027.89 L1037.3 1023.27 L1037.8 1018.73 L1038.3 1014.26 L1038.8 1009.87 L1039.3 1005.57 L1039.8 1001.35 L1040.3 997.22 L1040.8 993.17 L1041.3 989.23 L1041.8 985.38 L1042.3 981.63 L1042.8 977.98 L1043.3 974.43 L1043.8 970.99 L1044.3 967.65 L1044.8 964.42 L1045.3 961.29 L1045.8 958.27 L1046.3 955.37 L1046.8 952.57 L1047.3 949.88 L1047.8 947.31 L1048.3 944.85 L1048.8 942.51 L1049.3 940.28 L1049.8 938.17 L1050.3 936.17 L1050.8 934.30 L1051.3 932.54 L1051.8 930.91 L1052.3 929.40 L1052.8 928.01 L1053.3 926.75 L1053.8 925.62 L1054.3 924.61 L1054.8 923.73 L1055.3 922.98 L1055.8 922.35 L1056.3 921.86 L1056.8 921.51 L1057.3 921.28 L1057.8 921.19 L1058.3 921.24 L1058.8 921.42 L1059.3 921.74 L1059.8 922.19 L1060.3 922.77 L1060.8 923.47 L1061.3 924.31 L1061.8 925.26 L1062.3 926.35 L1062.8 927.55 L1063.3 928.87 L1063.8 930.31 L1064.3 931.86 L1064.8 933.53 L1065.3 935.32 L1065.8 937.21 L1066.3 939.21 L1066.8 941.32 L1067.3 943.53 L1067.8 945.84 L1068.3 948.26 L1068.8 950.77 L1069.3 953.39 L1069.8 956.10 L1070.3 958.90 L1070.8 961.80 L1071.3 964.78 L1071.8 967.86 L1072.3 971.02 L1072.8 974.26 L1073.3 977.59 L1073.8 981.00 L1074.3 984.50 L1074.8 988.06 L1075.3 991.71 L1075.8 995.43 L1076.3 999.22 L1076.8 1003.08 L1077.3 1007.01 L1077.8 1011.00 L1078.3 1015.06 L1078.8 1019.19 L1079.3 1023.37 L1079.8 1027.62 L1080.3 1031.92 L1080.8 1036.28 L1081.3 1040.69 L1081.8 1045.16 L1082.3 1049.68 L1082.8 1054.24 L1083.3 1058.85 L1083.8 1063.51 L1084.3 1068.21 L1084.8 1072.95 L1085.3 1077.73 L1085.8 1082.55 L1086.3 1087.41 L1086.8 1092.30 L1087.3 1097.22 L1087.8 1102.17 L1088.3 1107.15 L1088.8 1112.16 L1089.3 1117.19 L1089.8 1122.25 L1090.3 1127.33 L1090.8 1132.43 L1091.3 1137.54 L1091.8 1142.67 L1092.3 1147.82 L1092.8 1152.98 L1093.3 1158.15 L1093.8 1163.33 L1094.3 1168.51 L1094.8 1173.70 L1095.3 1178.89 L1095.8 1184.09 L1096.3 1189.28 L1096.8 1194.48 L1097.3 1199.67 L1097.8 1204.85 L1098.3 1210.03 L1098.8 1215.19 L1099.3 1220.35 L1099.8 1225.49 L1100.3 1230.62 L1100.8 1235.73 L1101.3 1240.83 L1101.8 1245.90 L1102.3 1250.96 L1102.8 1255.99 L1103.3 1260.99 L1103.8 1265.97 L1104.3 1270.92 L1104.8 1275.84 L1105.3 1280.73 L1105.8 1285.58 L1106.3 1290.40 L1106.8 1295.19 L1107.3 1299.93 L1107.8 1304.63 L1108.3 1309.29 L1108.8 1313.91 L1109.3 1318.48 L1109.8 1323.01 L1110.3 1327.48 L1110.8 1331.90 L1111.3 1336.27 L1111.8 1340.59 L1112.3 1344.85 L1112.8 1349.05 L1113.3 1353.19 L1113.8 1357.27 L1114.3 1361.29 L1114.8 1365.24 L1115.3 1369.13 L1115.8 1372.94 L1116.3 1376.69 L1116.8 1380.36 L1117.3 1383.97 L1117.8 1387.50 L1118.3 1390.96 L1118.8 1394.35 L1119.3 1397.67 L1119.8 1400.92 L1120.3 1404.10 L1120.8 1407.21 L1121.3 1410.25 L1121.8 1413.22 L1122.3 1416.12 L1122.8 1418.95 L1123.3 1421.72 L1123.8 1424.41 L1124.3 1427.04 L1124.8 1429.60 L1125.3 1432.09 L1125.8 1434.52 L1126.3 1436.88 L1126.8 1439.17 L1127.3 1441.39 L1127.8 1443.55 L1128.3 1445.65 L1128.8 1447.68 L1129.3 1449.64 L1129.8 1451.54 L1130.3 1453.37 L1130.8 1455.14 L1131.3 1456.84 L1131.8 1458.48 L1132.3 1460.06 L1132.8 1461.57 L1133.3 1463.02 L1133.8 1464.41 L1134.3 1465.73 L1134.8 1466.99 L1135.3 1468.19 L1135.8 1469.33 L1136.3 1470.41 L1136.8 1471.43 L1137.3 1472.39 L1137.8 1473.30 L1138.3 1474.15 L1138.8 1474.95 L1139.3 1475.69 L1139.8 1476.38 L1140.3 1477.03 L1140.8 1477.62 L1141.3 1478.17 L1141.8 1478.67 L1142.3 1479.13 L1142.8 1479.54 L1143.3 1479.92 L1143.8 1480.25 L1144.3 1480.54 L1144.8 1480.79 L1145.3 1481.01 L1145.8 1481.19 L1146.3 1481.34 L1146.8 1481.45 L1147.3 1481.53 L1147.8 1481.58 L1148.3 1481.61 L1148.8 1481.60 L1149.3 1481.57 L1149.8 1481.52 L1150.3 1481.44 L1150.8 1481.34 L1151.3 1481.23 L1151.8 1481.09 L1152.3 1480.93 L1152.8 1480.77 L1153.3 1480.58 L1153.8 1480.39 L1154.3 1480.17 L1154.8 1479.95 L1155.3 1479.72 L1155.8 1479.47 L1156.3 1479.21 L1156.8 1478.94 L1157.3 1478.67 L1157.8 1478.38 L1158.3 1478.08 L1158.8 1477.78 L1159.3 1477.47 L1159.8 1477.15 L1160.3 1476.83 L1160.8 1476.50 L1161.3 1476.16 L1161.8 1475.82 L1162.3 1475.48 L1162.8 1475.13 L1163.3 1474.78 L1163.8 1474.43 L1164.3 1474.08 L1164.8 1473.72 L1165.3 1473.36 L1165.8 1473.01 L1166.3 1472.65 L1166.8 1472.30 L1167.3 1471.95 L1167.8 1471.60 L1168.3 1471.25 L1168.8 1470.91 L1169.3 1470.57 L1169.8 1470.23 L1170.3 1469.90 L1170.8 1469.58 L1171.3 1469.26 L1171.8 1468.95 L1172.3 1468.65 L1172.8 1468.35 L1173.3 1468.07 L1173.8 1467.79 L1174.3 1467.52 L1174.8 1467.27 L1175.3 1467.02 L1175.8 1466.79 L1176.3 1466.56 L1176.8 1466.35 L1177.3 1466.16 L1177.8 1465.97 L1178.3 1465.81 L1178.8 1465.65 L1179.3 1465.51 L1179.8 1465.39 L1180.3 1465.28 L1180.8 1465.18 L1181.3 1465.10 L1181.8 1465.03 L1182.3 1464.97 L1182.8 1464.93 L1183.3 1464.90 L1183.8 1464.88 L1184.3 1464.87 L1184.8 1464.87 L1185.3 1464.89 L1185.8 1464.92 L1186.3 1464.96 L1186.8 1465.01 L1187.3 1465.07 L1187.8 1465.14 L1188.3 1465.23 L1188.8 1465.32 L1189.3 1465.42 L1189.8 1465.53 L1190.3 1465.65 L1190.8 1465.78 L1191.3 1465.92 L1191.8 1466.07 L1192.3 1466.23 L1192.8 1466.39 L1193.3 1466.56 L1193.8 1466.74 L1194.3 1466.93 L1194.8 1467.13 L1195.3 1467.33 L1195.8 1467.54 L1196.3 1467.76 L1196.8 1467.98 L1197.3 1468.21 L1197.8 1468.44 L1198.3 1468.68 L1198.8 1468.93 L1199.3 1469.18 L1199.8 1469.43 L1200.3 1469.69 L1200.8 1469.96 L1201.3 1470.23 L1201.8 1470.50 L1202.3 1470.78 L1202.8 1471.06 L1203.3 1471.34 L1203.8 1471.63 L1204.3 1471.92 L1204.8 1472.21 L1205.3 1472.51 L1205.8 1472.81 L1206.3 1473.11 L1206.8 1473.41 L1207.3 1473.71 L1207.8 1474.02 L1208.3 1474.32 L1208.8 1474.63 L1209.3 1474.94 L1209.8 1475.24 L1210.3 1475.55 L1210.8 1475.86 L1211.3 1476.16 L1211.8 1476.47 L1212.3 1476.78 L1212.8 1477.08 L1213.3 1477.38 L1213.8 1477.69 L1214.3 1477.99 L1214.8 1478.28 L1215.3 1478.58 L1215.8 1478.87 L1216.3 1479.16 L1216.8 1479.45 L1217.3 1479.74 L1217.8 1480.02 L1218.3 1480.30 L1218.8 1480.57 L1219.3 1480.84 L1219.8 1481.11 L1220.3 1481.37 L1220.8 1481.63 L1221.3 1481.88 L1221.8 1482.13 L1222.3 1482.37 L1222.8 1482.60 L1223.3 1482.83 L1223.8 1483.06 L1224.3 1483.27 L1224.8 1483.48 L1225.3 1483.69 L1225.8 1483.89 L1226.3 1484.07 L1226.8 1484.26 L1227.3 1484.43 L1227.8 1484.60 L1228.3 1484.76 L1228.8 1484.91 L1229.3 1485.05 L1229.8 1485.18 L1230.3 1485.30 L1230.8 1485.42 L1231.3 1485.53 L1231.8 1485.63 L1232.3 1485.72 L1232.8 1485.81 L1233.3 1485.88 L1233.8 1485.95 L1234.3 1486.02 L1234.8 1486.07 L1235.3 1486.12 L1235.8 1486.17 L1236.3 1486.20 L1236.8 1486.23 L1237.3 1486.26 L1237.8 1486.28 L1238.3 1486.29 L1238.8 1486.29 L1239.3 1486.30 L1239.8 1486.29 L1240.3 1486.28 L1240.8 1486.27 L1241.3 1486.25 L1241.8 1486.23 L1242.3 1486.20 L1242.8 1486.16 L1243.3 1486.13 L1243.8 1486.09 L1244.3 1486.04 L1244.8 1485.99 L1245.3 1485.94 L1245.8 1485.88 L1246.3 1485.83 L1246.8 1485.76 L1247.3 1485.70 L1247.8 1485.63 L1248.3 1485.56 L1248.8 1485.49 L1249.3 1485.41 L1249.8 1485.34 L1250.3 1485.26 L1250.8 1485.18 L1251.3 1485.09 L1251.8 1485.01 L1252.3 1484.92 L1252.8 1484.84 L1253.3 1484.75 L1253.8 1484.66 L1254.3 1484.57 L1254.8 1484.48 L1255.3 1484.39 L1255.8 1484.30 L1256.3 1484.21 L1256.8 1484.12 L1257.3 1484.03 L1257.8 1483.94 L1258.3 1483.85 L1258.8 1483.77 L1259.3 1483.68 L1259.8 1483.59 L1260.3 1483.51 L1260.8 1483.42 L1261.3 1483.34 L1261.8 1483.26 L1262.3 1483.18 L1262.8 1483.10 L1263.3 1483.03 L1263.8 1482.95 L1264.3 1482.88 L1264.8 1482.81 L1265.3 1482.74 L1265.8 1482.67 L1266.3 1482.61 L1266.8 1482.54 L1267.3 1482.48 L1267.8 1482.42 L1268.3 1482.36 L1268.8 1482.31 L1269.3 1482.25 L1269.8 1482.20 L1270.3 1482.15 L1270.8 1482.11 L1271.3 1482.06 L1271.8 1482.02 L1272.3 1481.98 L1272.8 1481.94 L1273.3 1481.91 L1273.8 1481.87 L1274.3 1481.84 L1274.8 1481.82 L1275.3 1481.79 L1275.8 1481.77 L1276.3 1481.75 L1276.8 1481.73 L1277.3 1481.72 L1277.8 1481.71 L1278.3 1481.70 L1278.8 1481.69 L1279.3 1481.69 L1279.8 1481.69 L1280.3 1481.69 L1280.8 1481.70 L1281.3 1481.71 L1281.8 1481.72 L1282.3 1481.74 L1282.8 1481.76 L1283.3 1481.78 L1283.8 1481.81 L1284.3 1481.84 L1284.8 1481.87 L1285.3 1481.91 L1285.8 1481.94 L1286.3 1481.99 L1286.8 1482.04 L1287.3 1482.09 L1287.8 1482.14 L1288.3 1482.20 L1288.8 1482.26 L1289.3 1482.32 L1289.8 1482.39 L1290.3 1482.46 L1290.8 1482.53 L1291.3 1482.61 L1291.8 1482.69 L1292.3 1482.77 L1292.8 1482.85 L1293.3 1482.94 L1293.8 1483.03 L1294.3 1483.12 L1294.8 1483.21 L1295.3 1483.31 L1295.8 1483.40 L1296.3 1483.50 L1296.8 1483.60 L1297.3 1483.70 L1297.8 1483.80 L1298.3 1483.91 L1298.8 1484.01 L1299.3 1484.12 L1299.8 1484.23 L1300.3 1484.33 L1300.8 1484.44 L1301.3 1484.55 L1301.8 1484.66 L1302.3 1484.77 L1302.8 1484.88 L1303.3 1484.99 L1303.8 1485.10 L1304.3 1485.21 L1304.8 1485.32 L1305.3 1485.43 L1305.8 1485.54 L1306.3 1485.65 L1306.8 1485.76 L1307.3 1485.87 L1307.8 1485.98 L1308.3 1486.08 L1308.8 1486.19 L1309.3 1486.29 L1309.8 1486.39 L1310.3 1486.50 L1310.8 1486.60 L1311.3 1486.69 L1311.8 1486.79 L1312.3 1486.88 L1312.8 1486.98 L1313.3 1487.07 L1313.8 1487.16 L1314.3 1487.24 L1314.8 1487.32 L1315.3 1487.41 L1315.8 1487.48 L1316.3 1487.56 L1316.8 1487.63 L1317.3 1487.70 L1317.8 1487.77 L1318.3 1487.83 L1318.8 1487.89 L1319.3 1487.95 L1319.8 1488.01 L1320.3 1488.06 L1320.8 1488.10 L1321.3 1488.15 L1321.8 1488.19 L1322.3 1488.22 L1322.8 1488.25 L1323.3 1488.28 L1323.8 1488.31 L1324.3 1488.33 L1324.8 1488.35 L1325.3 1488.37 L1325.8 1488.38 L1326.3 1488.39 L1326.8 1488.40 L1327.3 1488.41 L1327.8 1488.41 L1328.3 1488.41 L1328.8 1488.41 L1329.3 1488.40 L1329.8 1488.40 L1330.3 1488.39 L1330.8 1488.37 L1331.3 1488.36 L1331.8 1488.34 L1332.3 1488.32 L1332.8 1488.30 L1333.3 1488.28 L1333.8 1488.25 L1334.3 1488.23 L1334.8 1488.20 L1335.3 1488.17 L1335.8 1488.14 L1336.3 1488.10 L1336.8 1488.07 L1337.3 1488.03 L1337.8 1487.99 L1338.3 1487.95 L1338.8 1487.91 L1339.3 1487.87 L1339.8 1487.82 L1340.3 1487.78 L1340.8 1487.73 L1341.3 1487.69 L1341.8 1487.64 L1342.3 1487.59" fill="none" stroke="#000" stroke-width="6.2" stroke-linejoin="round" clip-path="url(#clipc)"/>
<rect x="641.3" y="907.0" width="675.7" height="597.5" fill="none" stroke="#262626" stroke-width="6.3"/>
<clipPath id="xonec0"><rect x="589.64" y="1520.90" width="103.31" height="46.06"/><rect x="589.64" y="1566.66" width="74.51" height="5.24"/><rect x="674.12" y="1566.66" width="5.62" height="5.24"/></clipPath>
<text x="641.3" y="1570.9" text-anchor="middle" class="tk" clip-path="url(#xonec0)">23.1</text>
<text x="810.2" y="1570.9" text-anchor="middle" class="tk">23.2</text>
<text x="979.1" y="1570.9" text-anchor="middle" class="tk">23.3</text>
<text x="1148.1" y="1570.9" text-anchor="middle" class="tk">23.4</text>
<text x="1317.0" y="1570.9" text-anchor="middle" class="tk">23.5</text>
<text x="621.5" y="1509.6" text-anchor="end" class="tk">0</text>
<text x="623.0" y="1395.6" text-anchor="end" class="tk">0.2</text>
<text x="623.0" y="1281.6" text-anchor="end" class="tk">0.4</text>
<text x="623.0" y="1167.5" text-anchor="end" class="tk">0.6</text>
<text x="623.0" y="1053.5" text-anchor="end" class="tk">0.8</text>
<clipPath id="onec"><rect x="592.29" y="889.50" width="31.81" height="46.06"/><rect x="606.27" y="935.26" width="5.62" height="5.24"/></clipPath>
<text x="622.1" y="939.5" text-anchor="end" class="tk" clip-path="url(#onec)">1</text>
<path d="M641.3 1507.9 V1495.7 M641.3 903.5 V917.6 M810.2 1507.9 V1495.7 M810.2 903.5 V917.6 M979.1 1507.9 V1495.7 M979.1 903.5 V917.6 M1148.1 1507.9 V1495.7 M1148.1 903.5 V917.6 M1317.0 1507.9 V1495.7 M1317.0 903.5 V917.6 M637.9 1491.0 H651.6 M1320.4 1491.0 H1306.7 M637.9 1377.0 H651.6 M1320.4 1377.0 H1306.7 M637.9 1263.0 H651.6 M1320.4 1263.0 H1306.7 M637.9 1148.9 H651.6 M1320.4 1148.9 H1306.7 M637.9 1034.9 H651.6 M1320.4 1034.9 H1306.7 M637.9 920.9 H651.6 M1320.4 920.9 H1306.7" stroke="#262626" stroke-width="6" fill="none"/>
<text x="978.4" y="1632.9" text-anchor="middle" class="lb">Kinetic Energy (eV)</text>
<text transform="translate(530.2 1205.8) rotate(-90)" text-anchor="middle" class="lb yl">Photoelectron signal (arb. u.)</text>
<text x="439.0" y="879.8" class="pl">c</text>
</svg>
</body></html>
